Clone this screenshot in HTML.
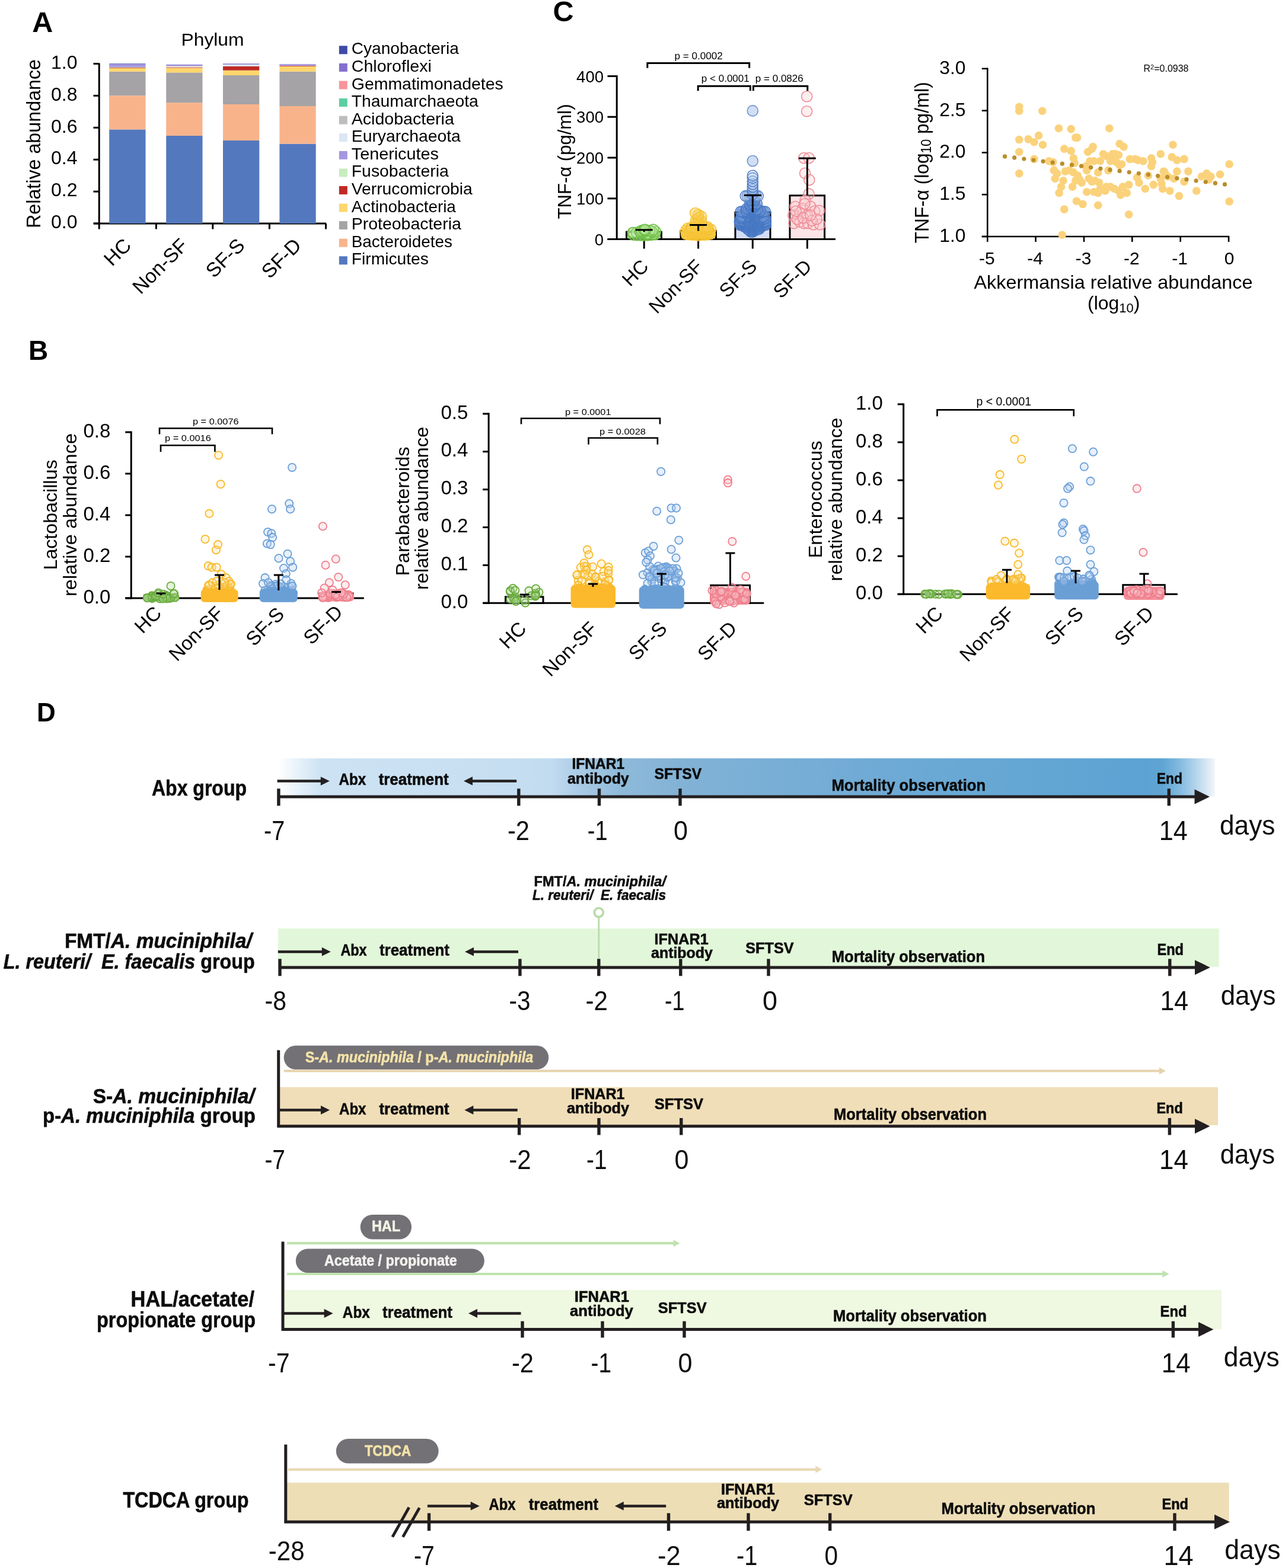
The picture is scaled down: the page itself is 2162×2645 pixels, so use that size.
<!DOCTYPE html>
<html><head><meta charset="utf-8"><style>html,body{margin:0;padding:0;background:#fff;}svg{display:block;}text{font-family:"Liberation Sans",sans-serif;}</style></head>
<body><svg width="2162" height="2645" viewBox="0 0 2162 2645" font-family="Liberation Sans, sans-serif">
<rect width="2162" height="2645" fill="#fff"/>
<text x="54.3" y="53.8" font-size="48.5" font-weight="bold" font-style="normal" text-anchor="start" fill="#000" >A</text>
<text x="305.5" y="76.8" font-size="30" font-weight="normal" font-style="normal" text-anchor="start" fill="#000" textLength="106.0" lengthAdjust="spacingAndGlyphs" >Phylum</text>
<line x1="167.2" y1="106.5" x2="167.2" y2="378.5" stroke="#000" stroke-width="3" />
<line x1="157.5" y1="377.0" x2="167.2" y2="377.0" stroke="#000" stroke-width="3" />
<text x="130.5" y="385.2" font-size="32" font-weight="normal" font-style="normal" text-anchor="end" fill="#000" >0.0</text>
<line x1="157.5" y1="323.1" x2="167.2" y2="323.1" stroke="#000" stroke-width="3" />
<text x="130.5" y="331.3" font-size="32" font-weight="normal" font-style="normal" text-anchor="end" fill="#000" >0.2</text>
<line x1="157.5" y1="269.2" x2="167.2" y2="269.2" stroke="#000" stroke-width="3" />
<text x="130.5" y="277.4" font-size="32" font-weight="normal" font-style="normal" text-anchor="end" fill="#000" >0.4</text>
<line x1="157.5" y1="215.3" x2="167.2" y2="215.3" stroke="#000" stroke-width="3" />
<text x="130.5" y="223.5" font-size="32" font-weight="normal" font-style="normal" text-anchor="end" fill="#000" >0.6</text>
<line x1="157.5" y1="161.4" x2="167.2" y2="161.4" stroke="#000" stroke-width="3" />
<text x="130.5" y="169.6" font-size="32" font-weight="normal" font-style="normal" text-anchor="end" fill="#000" >0.8</text>
<line x1="157.5" y1="107.5" x2="167.2" y2="107.5" stroke="#000" stroke-width="3" />
<text x="130.5" y="115.7" font-size="32" font-weight="normal" font-style="normal" text-anchor="end" fill="#000" >1.0</text>
<line x1="158.0" y1="377.0" x2="550.0" y2="377.0" stroke="#000" stroke-width="3" />
<line x1="167.2" y1="377.0" x2="167.2" y2="386.5" stroke="#000" stroke-width="3" />
<line x1="263.4" y1="377.0" x2="263.4" y2="386.5" stroke="#000" stroke-width="3" />
<line x1="358.8" y1="377.0" x2="358.8" y2="386.5" stroke="#000" stroke-width="3" />
<line x1="454.4" y1="377.0" x2="454.4" y2="386.5" stroke="#000" stroke-width="3" />
<line x1="549.5" y1="377.0" x2="549.5" y2="386.5" stroke="#000" stroke-width="3" />
<text transform="translate(68.3,385) rotate(-90)" font-size="32.5" textLength="285" lengthAdjust="spacingAndGlyphs">Relative abundance</text>
<rect x="184.2" y="218.4" width="61.3" height="158.6" fill="#5478be" />
<rect x="184.2" y="161.2" width="61.3" height="57.2" fill="#f8b38b" />
<rect x="184.2" y="120.7" width="61.3" height="40.5" fill="#a5a3a6" />
<rect x="184.2" y="115.0" width="61.3" height="5.7" fill="#ffd66e" />
<rect x="184.2" y="114.1" width="61.3" height="0.9" fill="#bf2a24" />
<rect x="184.2" y="113.2" width="61.3" height="0.9" fill="#c8ecc0" />
<rect x="184.2" y="108.7" width="61.3" height="4.5" fill="#a596e0" />
<rect x="184.2" y="108.0" width="61.3" height="0.7" fill="#8370cf" />
<rect x="184.2" y="107.3" width="61.3" height="0.7" fill="#3f4aa6" />
<rect x="280.2" y="229.0" width="61.3" height="148.0" fill="#5478be" />
<rect x="280.2" y="173.2" width="61.3" height="55.8" fill="#f8b38b" />
<rect x="280.2" y="122.4" width="61.3" height="50.8" fill="#a5a3a6" />
<rect x="280.2" y="114.5" width="61.3" height="7.9" fill="#ffd66e" />
<rect x="280.2" y="113.5" width="61.3" height="1.0" fill="#bf2a24" />
<rect x="280.2" y="111.4" width="61.3" height="2.1" fill="#ece6cf" />
<rect x="280.2" y="109.9" width="61.3" height="1.5" fill="#a596e0" />
<rect x="280.2" y="108.9" width="61.3" height="1.0" fill="#8370cf" />
<rect x="376.0" y="237.0" width="61.3" height="140.0" fill="#5478be" />
<rect x="376.0" y="176.0" width="61.3" height="61.0" fill="#f8b38b" />
<rect x="376.0" y="127.0" width="61.3" height="49.0" fill="#a5a3a6" />
<rect x="376.0" y="118.7" width="61.3" height="8.3" fill="#ffd66e" />
<rect x="376.0" y="112.0" width="61.3" height="6.7" fill="#bf2a24" />
<rect x="376.0" y="108.7" width="61.3" height="3.3" fill="#dce6f4" />
<rect x="376.0" y="107.3" width="61.3" height="1.4" fill="#8370cf" />
<rect x="471.4" y="242.6" width="61.3" height="134.4" fill="#5478be" />
<rect x="471.4" y="179.0" width="61.3" height="63.6" fill="#f8b38b" />
<rect x="471.4" y="120.7" width="61.3" height="58.3" fill="#a5a3a6" />
<rect x="471.4" y="111.8" width="61.3" height="8.9" fill="#ffd66e" />
<rect x="471.4" y="110.8" width="61.3" height="1.0" fill="#bf2a24" />
<rect x="471.4" y="109.5" width="61.3" height="1.3" fill="#a596e0" />
<rect x="471.4" y="108.3" width="61.3" height="1.2" fill="#8370cf" />
<rect x="571.8" y="77.3" width="14.0" height="14.0" fill="#3f4aa6" />
<rect x="571.8" y="106.9" width="14.0" height="14.0" fill="#8370cf" />
<rect x="571.8" y="136.5" width="14.0" height="14.0" fill="#f7939c" />
<rect x="571.8" y="166.0" width="14.0" height="14.0" fill="#5fcda2" />
<rect x="571.8" y="195.6" width="14.0" height="14.0" fill="#bdbdbd" />
<rect x="571.8" y="225.2" width="14.0" height="14.0" fill="#dce6f4" />
<rect x="571.8" y="254.8" width="14.0" height="14.0" fill="#a596e0" />
<rect x="571.8" y="284.4" width="14.0" height="14.0" fill="#c8ecc0" />
<rect x="571.8" y="313.9" width="14.0" height="14.0" fill="#bf2a24" />
<rect x="571.8" y="343.5" width="14.0" height="14.0" fill="#ffd66e" />
<rect x="571.8" y="373.1" width="14.0" height="14.0" fill="#a5a3a6" />
<rect x="571.8" y="402.7" width="14.0" height="14.0" fill="#f8b38b" />
<rect x="571.8" y="432.3" width="14.0" height="14.0" fill="#5478be" />
<text x="592.8" y="91.3" font-size="28.5" font-weight="normal" font-style="normal" text-anchor="start" fill="#000" textLength="181.0" lengthAdjust="spacingAndGlyphs" >Cyanobacteria</text>
<text x="592.8" y="120.9" font-size="28.5" font-weight="normal" font-style="normal" text-anchor="start" fill="#000" textLength="135.0" lengthAdjust="spacingAndGlyphs" >Chloroflexi</text>
<text x="592.8" y="150.5" font-size="28.5" font-weight="normal" font-style="normal" text-anchor="start" fill="#000" textLength="256.0" lengthAdjust="spacingAndGlyphs" >Gemmatimonadetes</text>
<text x="592.8" y="180.0" font-size="28.5" font-weight="normal" font-style="normal" text-anchor="start" fill="#000" textLength="214.0" lengthAdjust="spacingAndGlyphs" >Thaumarchaeota</text>
<text x="592.8" y="209.6" font-size="28.5" font-weight="normal" font-style="normal" text-anchor="start" fill="#000" textLength="173.0" lengthAdjust="spacingAndGlyphs" >Acidobacteria</text>
<text x="592.8" y="239.2" font-size="28.5" font-weight="normal" font-style="normal" text-anchor="start" fill="#000" textLength="184.0" lengthAdjust="spacingAndGlyphs" >Euryarchaeota</text>
<text x="592.8" y="268.8" font-size="28.5" font-weight="normal" font-style="normal" text-anchor="start" fill="#000" textLength="147.0" lengthAdjust="spacingAndGlyphs" >Tenericutes</text>
<text x="592.8" y="298.4" font-size="28.5" font-weight="normal" font-style="normal" text-anchor="start" fill="#000" textLength="164.0" lengthAdjust="spacingAndGlyphs" >Fusobacteria</text>
<text x="592.8" y="327.9" font-size="28.5" font-weight="normal" font-style="normal" text-anchor="start" fill="#000" textLength="204.0" lengthAdjust="spacingAndGlyphs" >Verrucomicrobia</text>
<text x="592.8" y="357.5" font-size="28.5" font-weight="normal" font-style="normal" text-anchor="start" fill="#000" textLength="176.0" lengthAdjust="spacingAndGlyphs" >Actinobacteria</text>
<text x="592.8" y="387.1" font-size="28.5" font-weight="normal" font-style="normal" text-anchor="start" fill="#000" textLength="185.0" lengthAdjust="spacingAndGlyphs" >Proteobacteria</text>
<text x="592.8" y="416.7" font-size="28.5" font-weight="normal" font-style="normal" text-anchor="start" fill="#000" textLength="170.0" lengthAdjust="spacingAndGlyphs" >Bacteroidetes</text>
<text x="592.8" y="446.3" font-size="28.5" font-weight="normal" font-style="normal" text-anchor="start" fill="#000" textLength="130.0" lengthAdjust="spacingAndGlyphs" >Firmicutes</text>
<text transform="translate(223.3,416.2) rotate(-45)" font-size="33.5" text-anchor="end">HC</text>
<text transform="translate(318.8,416.2) rotate(-45)" font-size="33.5" text-anchor="end">Non-SF</text>
<text transform="translate(414.8,416.2) rotate(-45)" font-size="33.5" text-anchor="end">SF-S</text>
<text transform="translate(510.1,416.2) rotate(-45)" font-size="33.5" text-anchor="end">SF-D</text>
<text x="932.5" y="36.3" font-size="48.5" font-weight="bold" font-style="normal" text-anchor="start" fill="#000" >C</text>
<line x1="1040.2" y1="127.0" x2="1040.2" y2="405.0" stroke="#000" stroke-width="3" />
<line x1="1024.5" y1="403.5" x2="1040.2" y2="403.5" stroke="#000" stroke-width="3" />
<text x="1018.0" y="413.5" font-size="27.5" font-weight="normal" font-style="normal" text-anchor="end" fill="#000" >0</text>
<line x1="1024.5" y1="334.8" x2="1040.2" y2="334.8" stroke="#000" stroke-width="3" />
<text x="1018.0" y="344.8" font-size="27.5" font-weight="normal" font-style="normal" text-anchor="end" fill="#000" >100</text>
<line x1="1024.5" y1="266.0" x2="1040.2" y2="266.0" stroke="#000" stroke-width="3" />
<text x="1018.0" y="276.0" font-size="27.5" font-weight="normal" font-style="normal" text-anchor="end" fill="#000" >200</text>
<line x1="1024.5" y1="197.2" x2="1040.2" y2="197.2" stroke="#000" stroke-width="3" />
<text x="1018.0" y="207.2" font-size="27.5" font-weight="normal" font-style="normal" text-anchor="end" fill="#000" >300</text>
<line x1="1024.5" y1="128.5" x2="1040.2" y2="128.5" stroke="#000" stroke-width="3" />
<text x="1018.0" y="138.5" font-size="27.5" font-weight="normal" font-style="normal" text-anchor="end" fill="#000" >400</text>
<line x1="1024.5" y1="403.5" x2="1409.0" y2="403.5" stroke="#000" stroke-width="3" />
<line x1="1086.2" y1="403.5" x2="1086.2" y2="419.5" stroke="#000" stroke-width="3" />
<line x1="1177.6" y1="403.5" x2="1177.6" y2="419.5" stroke="#000" stroke-width="3" />
<line x1="1269.3" y1="403.5" x2="1269.3" y2="419.5" stroke="#000" stroke-width="3" />
<line x1="1361.4" y1="403.5" x2="1361.4" y2="419.5" stroke="#000" stroke-width="3" />
<text transform="translate(962.5,369.5) rotate(-90)" font-size="32" textLength="194" lengthAdjust="spacingAndGlyphs">TNF-α (pg/ml)</text>
<rect x="1056.5" y="391.2" width="58.9" height="12.3" fill="#d9efc9" stroke="#000" stroke-width="3"/>
<rect x="1148.0" y="389.5" width="59.5" height="14.0" fill="#fbeab0" stroke="#000" stroke-width="3"/>
<rect x="1240.0" y="358.0" width="59.0" height="45.5" fill="#d3dcf5" stroke="#000" stroke-width="3"/>
<rect x="1332.0" y="329.8" width="58.6" height="73.7" fill="#fbe4e7" stroke="#000" stroke-width="3"/>
<circle cx="1086.2" cy="397.2" r="9" fill="rgba(190,232,165,0.35)" stroke="#6fbf45" stroke-width="1.6" />
<circle cx="1092.2" cy="397.0" r="9" fill="rgba(190,232,165,0.35)" stroke="#6fbf45" stroke-width="1.6" />
<circle cx="1080.2" cy="396.9" r="9" fill="rgba(190,232,165,0.35)" stroke="#6fbf45" stroke-width="1.6" />
<circle cx="1074.2" cy="396.7" r="9" fill="rgba(190,232,165,0.35)" stroke="#6fbf45" stroke-width="1.6" />
<circle cx="1098.2" cy="396.4" r="9" fill="rgba(190,232,165,0.35)" stroke="#6fbf45" stroke-width="1.6" />
<circle cx="1068.2" cy="396.3" r="9" fill="rgba(190,232,165,0.35)" stroke="#6fbf45" stroke-width="1.6" />
<circle cx="1104.2" cy="395.7" r="9" fill="rgba(190,232,165,0.35)" stroke="#6fbf45" stroke-width="1.6" />
<circle cx="1101.6" cy="395.4" r="9" fill="rgba(190,232,165,0.35)" stroke="#6fbf45" stroke-width="1.6" />
<circle cx="1089.6" cy="395.4" r="9" fill="rgba(190,232,165,0.35)" stroke="#6fbf45" stroke-width="1.6" />
<circle cx="1090.2" cy="394.8" r="9" fill="rgba(190,232,165,0.35)" stroke="#6fbf45" stroke-width="1.6" />
<circle cx="1092.5" cy="394.2" r="9" fill="rgba(190,232,165,0.35)" stroke="#6fbf45" stroke-width="1.6" />
<circle cx="1082.4" cy="392.8" r="9" fill="rgba(190,232,165,0.35)" stroke="#6fbf45" stroke-width="1.6" />
<circle cx="1067.1" cy="392.6" r="9" fill="rgba(190,232,165,0.35)" stroke="#6fbf45" stroke-width="1.6" />
<circle cx="1073.5" cy="392.5" r="9" fill="rgba(190,232,165,0.35)" stroke="#6fbf45" stroke-width="1.6" />
<circle cx="1068.1" cy="392.5" r="9" fill="rgba(190,232,165,0.35)" stroke="#6fbf45" stroke-width="1.6" />
<circle cx="1081.2" cy="392.1" r="9" fill="rgba(190,232,165,0.35)" stroke="#6fbf45" stroke-width="1.6" />
<circle cx="1084.7" cy="392.0" r="9" fill="rgba(190,232,165,0.35)" stroke="#6fbf45" stroke-width="1.6" />
<circle cx="1100.6" cy="391.9" r="9" fill="rgba(190,232,165,0.35)" stroke="#6fbf45" stroke-width="1.6" />
<circle cx="1081.7" cy="391.5" r="9" fill="rgba(190,232,165,0.35)" stroke="#6fbf45" stroke-width="1.6" />
<circle cx="1086.9" cy="391.3" r="9" fill="rgba(190,232,165,0.35)" stroke="#6fbf45" stroke-width="1.6" />
<circle cx="1080.3" cy="391.0" r="9" fill="rgba(190,232,165,0.35)" stroke="#6fbf45" stroke-width="1.6" />
<circle cx="1105.5" cy="390.8" r="9" fill="rgba(190,232,165,0.35)" stroke="#6fbf45" stroke-width="1.6" />
<circle cx="1079.3" cy="390.6" r="9" fill="rgba(190,232,165,0.35)" stroke="#6fbf45" stroke-width="1.6" />
<circle cx="1099.1" cy="390.2" r="9" fill="rgba(190,232,165,0.35)" stroke="#6fbf45" stroke-width="1.6" />
<circle cx="1095.5" cy="389.1" r="9" fill="rgba(190,232,165,0.35)" stroke="#6fbf45" stroke-width="1.6" />
<circle cx="1082.1" cy="389.0" r="9" fill="rgba(190,232,165,0.35)" stroke="#6fbf45" stroke-width="1.6" />
<circle cx="1089.1" cy="388.6" r="9" fill="rgba(190,232,165,0.35)" stroke="#6fbf45" stroke-width="1.6" />
<circle cx="1085.9" cy="387.8" r="9" fill="rgba(190,232,165,0.35)" stroke="#6fbf45" stroke-width="1.6" />
<circle cx="1101.8" cy="387.4" r="9" fill="rgba(190,232,165,0.35)" stroke="#6fbf45" stroke-width="1.6" />
<circle cx="1087.8" cy="387.2" r="9" fill="rgba(190,232,165,0.35)" stroke="#6fbf45" stroke-width="1.6" />
<circle cx="1177.6" cy="397.3" r="9" fill="rgba(247,205,80,0.45)" stroke="#f6c331" stroke-width="1.6" />
<circle cx="1182.6" cy="396.4" r="9" fill="rgba(247,205,80,0.45)" stroke="#f6c331" stroke-width="1.6" />
<circle cx="1172.6" cy="396.3" r="9" fill="rgba(247,205,80,0.45)" stroke="#f6c331" stroke-width="1.6" />
<circle cx="1187.6" cy="396.3" r="9" fill="rgba(247,205,80,0.45)" stroke="#f6c331" stroke-width="1.6" />
<circle cx="1167.6" cy="396.1" r="9" fill="rgba(247,205,80,0.45)" stroke="#f6c331" stroke-width="1.6" />
<circle cx="1192.6" cy="395.9" r="9" fill="rgba(247,205,80,0.45)" stroke="#f6c331" stroke-width="1.6" />
<circle cx="1162.6" cy="395.6" r="9" fill="rgba(247,205,80,0.45)" stroke="#f6c331" stroke-width="1.6" />
<circle cx="1157.6" cy="395.4" r="9" fill="rgba(247,205,80,0.45)" stroke="#f6c331" stroke-width="1.6" />
<circle cx="1197.6" cy="394.7" r="9" fill="rgba(247,205,80,0.45)" stroke="#f6c331" stroke-width="1.6" />
<circle cx="1173.8" cy="394.6" r="9" fill="rgba(247,205,80,0.45)" stroke="#f6c331" stroke-width="1.6" />
<circle cx="1187.9" cy="394.3" r="9" fill="rgba(247,205,80,0.45)" stroke="#f6c331" stroke-width="1.6" />
<circle cx="1158.5" cy="394.0" r="9" fill="rgba(247,205,80,0.45)" stroke="#f6c331" stroke-width="1.6" />
<circle cx="1165.1" cy="393.8" r="9" fill="rgba(247,205,80,0.45)" stroke="#f6c331" stroke-width="1.6" />
<circle cx="1172.6" cy="393.4" r="9" fill="rgba(247,205,80,0.45)" stroke="#f6c331" stroke-width="1.6" />
<circle cx="1193.3" cy="393.3" r="9" fill="rgba(247,205,80,0.45)" stroke="#f6c331" stroke-width="1.6" />
<circle cx="1182.2" cy="393.1" r="9" fill="rgba(247,205,80,0.45)" stroke="#f6c331" stroke-width="1.6" />
<circle cx="1171.3" cy="392.8" r="9" fill="rgba(247,205,80,0.45)" stroke="#f6c331" stroke-width="1.6" />
<circle cx="1197.3" cy="392.5" r="9" fill="rgba(247,205,80,0.45)" stroke="#f6c331" stroke-width="1.6" />
<circle cx="1168.5" cy="391.7" r="9" fill="rgba(247,205,80,0.45)" stroke="#f6c331" stroke-width="1.6" />
<circle cx="1189.3" cy="391.6" r="9" fill="rgba(247,205,80,0.45)" stroke="#f6c331" stroke-width="1.6" />
<circle cx="1187.3" cy="391.5" r="9" fill="rgba(247,205,80,0.45)" stroke="#f6c331" stroke-width="1.6" />
<circle cx="1177.6" cy="390.9" r="9" fill="rgba(247,205,80,0.45)" stroke="#f6c331" stroke-width="1.6" />
<circle cx="1174.4" cy="390.7" r="9" fill="rgba(247,205,80,0.45)" stroke="#f6c331" stroke-width="1.6" />
<circle cx="1181.3" cy="390.5" r="9" fill="rgba(247,205,80,0.45)" stroke="#f6c331" stroke-width="1.6" />
<circle cx="1185.9" cy="390.1" r="9" fill="rgba(247,205,80,0.45)" stroke="#f6c331" stroke-width="1.6" />
<circle cx="1161.6" cy="389.8" r="9" fill="rgba(247,205,80,0.45)" stroke="#f6c331" stroke-width="1.6" />
<circle cx="1156.6" cy="389.2" r="9" fill="rgba(247,205,80,0.45)" stroke="#f6c331" stroke-width="1.6" />
<circle cx="1193.6" cy="388.2" r="9" fill="rgba(247,205,80,0.45)" stroke="#f6c331" stroke-width="1.6" />
<circle cx="1170.9" cy="388.1" r="9" fill="rgba(247,205,80,0.45)" stroke="#f6c331" stroke-width="1.6" />
<circle cx="1170.4" cy="387.7" r="9" fill="rgba(247,205,80,0.45)" stroke="#f6c331" stroke-width="1.6" />
<circle cx="1198.6" cy="387.1" r="9" fill="rgba(247,205,80,0.45)" stroke="#f6c331" stroke-width="1.6" />
<circle cx="1191.3" cy="386.7" r="9" fill="rgba(247,205,80,0.45)" stroke="#f6c331" stroke-width="1.6" />
<circle cx="1176.8" cy="386.4" r="9" fill="rgba(247,205,80,0.45)" stroke="#f6c331" stroke-width="1.6" />
<circle cx="1165.6" cy="386.2" r="9" fill="rgba(247,205,80,0.45)" stroke="#f6c331" stroke-width="1.6" />
<circle cx="1181.6" cy="386.1" r="9" fill="rgba(247,205,80,0.45)" stroke="#f6c331" stroke-width="1.6" />
<circle cx="1193.9" cy="385.8" r="9" fill="rgba(247,205,80,0.45)" stroke="#f6c331" stroke-width="1.6" />
<circle cx="1159.6" cy="385.2" r="9" fill="rgba(247,205,80,0.45)" stroke="#f6c331" stroke-width="1.6" />
<circle cx="1181.3" cy="385.1" r="9" fill="rgba(247,205,80,0.45)" stroke="#f6c331" stroke-width="1.6" />
<circle cx="1164.7" cy="385.1" r="9" fill="rgba(247,205,80,0.45)" stroke="#f6c331" stroke-width="1.6" />
<circle cx="1186.6" cy="384.2" r="9" fill="rgba(247,205,80,0.45)" stroke="#f6c331" stroke-width="1.6" />
<circle cx="1166.9" cy="383.5" r="9" fill="rgba(247,205,80,0.45)" stroke="#f6c331" stroke-width="1.6" />
<circle cx="1188.5" cy="383.4" r="9" fill="rgba(247,205,80,0.45)" stroke="#f6c331" stroke-width="1.6" />
<circle cx="1172.6" cy="383.2" r="9" fill="rgba(247,205,80,0.45)" stroke="#f6c331" stroke-width="1.6" />
<circle cx="1186.5" cy="382.9" r="9" fill="rgba(247,205,80,0.45)" stroke="#f6c331" stroke-width="1.6" />
<circle cx="1193.0" cy="382.9" r="9" fill="rgba(247,205,80,0.45)" stroke="#f6c331" stroke-width="1.6" />
<circle cx="1177.6" cy="380.1" r="9" fill="rgba(247,205,80,0.45)" stroke="#f6c331" stroke-width="1.6" />
<circle cx="1172.6" cy="377.4" r="9" fill="rgba(247,205,80,0.45)" stroke="#f6c331" stroke-width="1.6" />
<circle cx="1177.6" cy="374.6" r="9" fill="rgba(247,205,80,0.45)" stroke="#f6c331" stroke-width="1.6" />
<circle cx="1182.6" cy="372.6" r="9" fill="rgba(247,205,80,0.45)" stroke="#f6c331" stroke-width="1.6" />
<circle cx="1173.6" cy="371.2" r="9" fill="rgba(247,205,80,0.45)" stroke="#f6c331" stroke-width="1.6" />
<circle cx="1177.6" cy="367.8" r="9" fill="rgba(247,205,80,0.45)" stroke="#f6c331" stroke-width="1.6" />
<circle cx="1182.6" cy="365.0" r="9" fill="rgba(247,205,80,0.45)" stroke="#f6c331" stroke-width="1.6" />
<circle cx="1177.6" cy="362.2" r="9" fill="rgba(247,205,80,0.45)" stroke="#f6c331" stroke-width="1.6" />
<circle cx="1172.6" cy="359.5" r="9" fill="rgba(247,205,80,0.45)" stroke="#f6c331" stroke-width="1.6" />
<circle cx="1269.3" cy="391.1" r="9" fill="rgba(110,150,215,0.45)" stroke="#4677c2" stroke-width="1.6" />
<circle cx="1266.3" cy="391.1" r="9" fill="rgba(110,150,215,0.45)" stroke="#4677c2" stroke-width="1.6" />
<circle cx="1271.3" cy="388.8" r="9" fill="rgba(110,150,215,0.45)" stroke="#4677c2" stroke-width="1.6" />
<circle cx="1264.3" cy="388.5" r="9" fill="rgba(110,150,215,0.45)" stroke="#4677c2" stroke-width="1.6" />
<circle cx="1268.3" cy="388.2" r="9" fill="rgba(110,150,215,0.45)" stroke="#4677c2" stroke-width="1.6" />
<circle cx="1274.3" cy="388.1" r="9" fill="rgba(110,150,215,0.45)" stroke="#4677c2" stroke-width="1.6" />
<circle cx="1277.3" cy="387.2" r="9" fill="rgba(110,150,215,0.45)" stroke="#4677c2" stroke-width="1.6" />
<circle cx="1261.3" cy="386.7" r="9" fill="rgba(110,150,215,0.45)" stroke="#4677c2" stroke-width="1.6" />
<circle cx="1280.3" cy="386.3" r="9" fill="rgba(110,150,215,0.45)" stroke="#4677c2" stroke-width="1.6" />
<circle cx="1270.3" cy="385.7" r="9" fill="rgba(110,150,215,0.45)" stroke="#4677c2" stroke-width="1.6" />
<circle cx="1266.3" cy="385.5" r="9" fill="rgba(110,150,215,0.45)" stroke="#4677c2" stroke-width="1.6" />
<circle cx="1273.3" cy="384.3" r="9" fill="rgba(110,150,215,0.45)" stroke="#4677c2" stroke-width="1.6" />
<circle cx="1263.3" cy="383.6" r="9" fill="rgba(110,150,215,0.45)" stroke="#4677c2" stroke-width="1.6" />
<circle cx="1276.3" cy="383.4" r="9" fill="rgba(110,150,215,0.45)" stroke="#4677c2" stroke-width="1.6" />
<circle cx="1260.3" cy="383.4" r="9" fill="rgba(110,150,215,0.45)" stroke="#4677c2" stroke-width="1.6" />
<circle cx="1268.3" cy="383.2" r="9" fill="rgba(110,150,215,0.45)" stroke="#4677c2" stroke-width="1.6" />
<circle cx="1279.3" cy="383.1" r="9" fill="rgba(110,150,215,0.45)" stroke="#4677c2" stroke-width="1.6" />
<circle cx="1257.3" cy="382.8" r="9" fill="rgba(110,150,215,0.45)" stroke="#4677c2" stroke-width="1.6" />
<circle cx="1282.3" cy="382.8" r="9" fill="rgba(110,150,215,0.45)" stroke="#4677c2" stroke-width="1.6" />
<circle cx="1271.3" cy="381.9" r="9" fill="rgba(110,150,215,0.45)" stroke="#4677c2" stroke-width="1.6" />
<circle cx="1254.3" cy="381.9" r="9" fill="rgba(110,150,215,0.45)" stroke="#4677c2" stroke-width="1.6" />
<circle cx="1285.3" cy="381.5" r="9" fill="rgba(110,150,215,0.45)" stroke="#4677c2" stroke-width="1.6" />
<circle cx="1266.3" cy="380.8" r="9" fill="rgba(110,150,215,0.45)" stroke="#4677c2" stroke-width="1.6" />
<circle cx="1274.3" cy="380.7" r="9" fill="rgba(110,150,215,0.45)" stroke="#4677c2" stroke-width="1.6" />
<circle cx="1263.3" cy="380.5" r="9" fill="rgba(110,150,215,0.45)" stroke="#4677c2" stroke-width="1.6" />
<circle cx="1277.3" cy="380.4" r="9" fill="rgba(110,150,215,0.45)" stroke="#4677c2" stroke-width="1.6" />
<circle cx="1260.3" cy="380.2" r="9" fill="rgba(110,150,215,0.45)" stroke="#4677c2" stroke-width="1.6" />
<circle cx="1280.3" cy="380.1" r="9" fill="rgba(110,150,215,0.45)" stroke="#4677c2" stroke-width="1.6" />
<circle cx="1251.3" cy="379.8" r="9" fill="rgba(110,150,215,0.45)" stroke="#4677c2" stroke-width="1.6" />
<circle cx="1269.3" cy="379.6" r="9" fill="rgba(110,150,215,0.45)" stroke="#4677c2" stroke-width="1.6" />
<circle cx="1257.3" cy="379.6" r="9" fill="rgba(110,150,215,0.45)" stroke="#4677c2" stroke-width="1.6" />
<circle cx="1288.3" cy="379.6" r="9" fill="rgba(110,150,215,0.45)" stroke="#4677c2" stroke-width="1.6" />
<circle cx="1248.3" cy="379.5" r="9" fill="rgba(110,150,215,0.45)" stroke="#4677c2" stroke-width="1.6" />
<circle cx="1291.3" cy="379.4" r="9" fill="rgba(110,150,215,0.45)" stroke="#4677c2" stroke-width="1.6" />
<circle cx="1267.7" cy="379.3" r="9" fill="rgba(110,150,215,0.45)" stroke="#4677c2" stroke-width="1.6" />
<circle cx="1283.8" cy="379.3" r="9" fill="rgba(110,150,215,0.45)" stroke="#4677c2" stroke-width="1.6" />
<circle cx="1290.4" cy="379.0" r="9" fill="rgba(110,150,215,0.45)" stroke="#4677c2" stroke-width="1.6" />
<circle cx="1254.3" cy="378.7" r="9" fill="rgba(110,150,215,0.45)" stroke="#4677c2" stroke-width="1.6" />
<circle cx="1272.3" cy="378.4" r="9" fill="rgba(110,150,215,0.45)" stroke="#4677c2" stroke-width="1.6" />
<circle cx="1271.6" cy="378.4" r="9" fill="rgba(110,150,215,0.45)" stroke="#4677c2" stroke-width="1.6" />
<circle cx="1249.7" cy="378.3" r="9" fill="rgba(110,150,215,0.45)" stroke="#4677c2" stroke-width="1.6" />
<circle cx="1275.3" cy="377.8" r="9" fill="rgba(110,150,215,0.45)" stroke="#4677c2" stroke-width="1.6" />
<circle cx="1264.3" cy="377.7" r="9" fill="rgba(110,150,215,0.45)" stroke="#4677c2" stroke-width="1.6" />
<circle cx="1261.3" cy="377.3" r="9" fill="rgba(110,150,215,0.45)" stroke="#4677c2" stroke-width="1.6" />
<circle cx="1278.3" cy="377.2" r="9" fill="rgba(110,150,215,0.45)" stroke="#4677c2" stroke-width="1.6" />
<circle cx="1281.3" cy="377.2" r="9" fill="rgba(110,150,215,0.45)" stroke="#4677c2" stroke-width="1.6" />
<circle cx="1286.3" cy="377.0" r="9" fill="rgba(110,150,215,0.45)" stroke="#4677c2" stroke-width="1.6" />
<circle cx="1254.5" cy="376.9" r="9" fill="rgba(110,150,215,0.45)" stroke="#4677c2" stroke-width="1.6" />
<circle cx="1249.5" cy="376.8" r="9" fill="rgba(110,150,215,0.45)" stroke="#4677c2" stroke-width="1.6" />
<circle cx="1258.3" cy="376.5" r="9" fill="rgba(110,150,215,0.45)" stroke="#4677c2" stroke-width="1.6" />
<circle cx="1261.0" cy="376.5" r="9" fill="rgba(110,150,215,0.45)" stroke="#4677c2" stroke-width="1.6" />
<circle cx="1269.3" cy="376.5" r="9" fill="rgba(110,150,215,0.45)" stroke="#4677c2" stroke-width="1.6" />
<circle cx="1286.7" cy="376.3" r="9" fill="rgba(110,150,215,0.45)" stroke="#4677c2" stroke-width="1.6" />
<circle cx="1290.3" cy="375.9" r="9" fill="rgba(110,150,215,0.45)" stroke="#4677c2" stroke-width="1.6" />
<circle cx="1252.5" cy="375.7" r="9" fill="rgba(110,150,215,0.45)" stroke="#4677c2" stroke-width="1.6" />
<circle cx="1272.3" cy="375.3" r="9" fill="rgba(110,150,215,0.45)" stroke="#4677c2" stroke-width="1.6" />
<circle cx="1266.3" cy="375.3" r="9" fill="rgba(110,150,215,0.45)" stroke="#4677c2" stroke-width="1.6" />
<circle cx="1258.2" cy="375.3" r="9" fill="rgba(110,150,215,0.45)" stroke="#4677c2" stroke-width="1.6" />
<circle cx="1269.8" cy="375.2" r="9" fill="rgba(110,150,215,0.45)" stroke="#4677c2" stroke-width="1.6" />
<circle cx="1250.7" cy="375.1" r="9" fill="rgba(110,150,215,0.45)" stroke="#4677c2" stroke-width="1.6" />
<circle cx="1275.3" cy="374.7" r="9" fill="rgba(110,150,215,0.45)" stroke="#4677c2" stroke-width="1.6" />
<circle cx="1263.3" cy="374.4" r="9" fill="rgba(110,150,215,0.45)" stroke="#4677c2" stroke-width="1.6" />
<circle cx="1279.3" cy="374.3" r="9" fill="rgba(110,150,215,0.45)" stroke="#4677c2" stroke-width="1.6" />
<circle cx="1282.3" cy="374.1" r="9" fill="rgba(110,150,215,0.45)" stroke="#4677c2" stroke-width="1.6" />
<circle cx="1247.3" cy="374.1" r="9" fill="rgba(110,150,215,0.45)" stroke="#4677c2" stroke-width="1.6" />
<circle cx="1288.1" cy="374.1" r="9" fill="rgba(110,150,215,0.45)" stroke="#4677c2" stroke-width="1.6" />
<circle cx="1255.3" cy="373.9" r="9" fill="rgba(110,150,215,0.45)" stroke="#4677c2" stroke-width="1.6" />
<circle cx="1269.1" cy="373.9" r="9" fill="rgba(110,150,215,0.45)" stroke="#4677c2" stroke-width="1.6" />
<circle cx="1265.8" cy="373.6" r="9" fill="rgba(110,150,215,0.45)" stroke="#4677c2" stroke-width="1.6" />
<circle cx="1256.9" cy="373.6" r="9" fill="rgba(110,150,215,0.45)" stroke="#4677c2" stroke-width="1.6" />
<circle cx="1287.6" cy="373.4" r="9" fill="rgba(110,150,215,0.45)" stroke="#4677c2" stroke-width="1.6" />
<circle cx="1255.9" cy="373.3" r="9" fill="rgba(110,150,215,0.45)" stroke="#4677c2" stroke-width="1.6" />
<circle cx="1260.3" cy="373.1" r="9" fill="rgba(110,150,215,0.45)" stroke="#4677c2" stroke-width="1.6" />
<circle cx="1291.3" cy="373.1" r="9" fill="rgba(110,150,215,0.45)" stroke="#4677c2" stroke-width="1.6" />
<circle cx="1278.7" cy="372.9" r="9" fill="rgba(110,150,215,0.45)" stroke="#4677c2" stroke-width="1.6" />
<circle cx="1251.2" cy="372.7" r="9" fill="rgba(110,150,215,0.45)" stroke="#4677c2" stroke-width="1.6" />
<circle cx="1247.7" cy="372.5" r="9" fill="rgba(110,150,215,0.45)" stroke="#4677c2" stroke-width="1.6" />
<circle cx="1275.6" cy="372.5" r="9" fill="rgba(110,150,215,0.45)" stroke="#4677c2" stroke-width="1.6" />
<circle cx="1253.4" cy="372.4" r="9" fill="rgba(110,150,215,0.45)" stroke="#4677c2" stroke-width="1.6" />
<circle cx="1272.3" cy="372.2" r="9" fill="rgba(110,150,215,0.45)" stroke="#4677c2" stroke-width="1.6" />
<circle cx="1281.2" cy="372.1" r="9" fill="rgba(110,150,215,0.45)" stroke="#4677c2" stroke-width="1.6" />
<circle cx="1284.3" cy="371.5" r="9" fill="rgba(110,150,215,0.45)" stroke="#4677c2" stroke-width="1.6" />
<circle cx="1281.1" cy="371.5" r="9" fill="rgba(110,150,215,0.45)" stroke="#4677c2" stroke-width="1.6" />
<circle cx="1268.3" cy="371.0" r="9" fill="rgba(110,150,215,0.45)" stroke="#4677c2" stroke-width="1.6" />
<circle cx="1265.3" cy="370.7" r="9" fill="rgba(110,150,215,0.45)" stroke="#4677c2" stroke-width="1.6" />
<circle cx="1262.3" cy="370.6" r="9" fill="rgba(110,150,215,0.45)" stroke="#4677c2" stroke-width="1.6" />
<circle cx="1258.3" cy="370.4" r="9" fill="rgba(110,150,215,0.45)" stroke="#4677c2" stroke-width="1.6" />
<circle cx="1287.3" cy="370.1" r="9" fill="rgba(110,150,215,0.45)" stroke="#4677c2" stroke-width="1.6" />
<circle cx="1277.3" cy="369.8" r="9" fill="rgba(110,150,215,0.45)" stroke="#4677c2" stroke-width="1.6" />
<circle cx="1274.3" cy="369.8" r="9" fill="rgba(110,150,215,0.45)" stroke="#4677c2" stroke-width="1.6" />
<circle cx="1271.3" cy="369.1" r="9" fill="rgba(110,150,215,0.45)" stroke="#4677c2" stroke-width="1.6" />
<circle cx="1255.3" cy="369.1" r="9" fill="rgba(110,150,215,0.45)" stroke="#4677c2" stroke-width="1.6" />
<circle cx="1252.3" cy="368.8" r="9" fill="rgba(110,150,215,0.45)" stroke="#4677c2" stroke-width="1.6" />
<circle cx="1282.3" cy="368.6" r="9" fill="rgba(110,150,215,0.45)" stroke="#4677c2" stroke-width="1.6" />
<circle cx="1249.3" cy="368.5" r="9" fill="rgba(110,150,215,0.45)" stroke="#4677c2" stroke-width="1.6" />
<circle cx="1290.3" cy="368.5" r="9" fill="rgba(110,150,215,0.45)" stroke="#4677c2" stroke-width="1.6" />
<circle cx="1265.3" cy="368.4" r="9" fill="rgba(110,150,215,0.45)" stroke="#4677c2" stroke-width="1.6" />
<circle cx="1270.8" cy="368.2" r="9" fill="rgba(110,150,215,0.45)" stroke="#4677c2" stroke-width="1.6" />
<circle cx="1262.3" cy="367.1" r="9" fill="rgba(110,150,215,0.45)" stroke="#4677c2" stroke-width="1.6" />
<circle cx="1273.3" cy="366.6" r="9" fill="rgba(110,150,215,0.45)" stroke="#4677c2" stroke-width="1.6" />
<circle cx="1268.3" cy="366.5" r="9" fill="rgba(110,150,215,0.45)" stroke="#4677c2" stroke-width="1.6" />
<circle cx="1276.3" cy="366.5" r="9" fill="rgba(110,150,215,0.45)" stroke="#4677c2" stroke-width="1.6" />
<circle cx="1259.3" cy="366.3" r="9" fill="rgba(110,150,215,0.45)" stroke="#4677c2" stroke-width="1.6" />
<circle cx="1279.3" cy="366.2" r="9" fill="rgba(110,150,215,0.45)" stroke="#4677c2" stroke-width="1.6" />
<circle cx="1256.3" cy="366.2" r="9" fill="rgba(110,150,215,0.45)" stroke="#4677c2" stroke-width="1.6" />
<circle cx="1284.3" cy="366.1" r="9" fill="rgba(110,150,215,0.45)" stroke="#4677c2" stroke-width="1.6" />
<circle cx="1253.3" cy="365.8" r="9" fill="rgba(110,150,215,0.45)" stroke="#4677c2" stroke-width="1.6" />
<circle cx="1287.3" cy="365.7" r="9" fill="rgba(110,150,215,0.45)" stroke="#4677c2" stroke-width="1.6" />
<circle cx="1250.3" cy="365.6" r="9" fill="rgba(110,150,215,0.45)" stroke="#4677c2" stroke-width="1.6" />
<circle cx="1265.3" cy="364.8" r="9" fill="rgba(110,150,215,0.45)" stroke="#4677c2" stroke-width="1.6" />
<circle cx="1270.3" cy="364.3" r="9" fill="rgba(110,150,215,0.45)" stroke="#4677c2" stroke-width="1.6" />
<circle cx="1262.3" cy="364.0" r="9" fill="rgba(110,150,215,0.45)" stroke="#4677c2" stroke-width="1.6" />
<circle cx="1273.3" cy="363.0" r="9" fill="rgba(110,150,215,0.45)" stroke="#4677c2" stroke-width="1.6" />
<circle cx="1276.3" cy="362.9" r="9" fill="rgba(110,150,215,0.45)" stroke="#4677c2" stroke-width="1.6" />
<circle cx="1267.3" cy="362.4" r="9" fill="rgba(110,150,215,0.45)" stroke="#4677c2" stroke-width="1.6" />
<circle cx="1270.3" cy="361.2" r="9" fill="rgba(110,150,215,0.45)" stroke="#4677c2" stroke-width="1.6" />
<circle cx="1264.3" cy="361.0" r="9" fill="rgba(110,150,215,0.45)" stroke="#4677c2" stroke-width="1.6" />
<circle cx="1261.3" cy="360.8" r="9" fill="rgba(110,150,215,0.45)" stroke="#4677c2" stroke-width="1.6" />
<circle cx="1278.3" cy="360.5" r="9" fill="rgba(110,150,215,0.45)" stroke="#4677c2" stroke-width="1.6" />
<circle cx="1273.3" cy="359.7" r="9" fill="rgba(110,150,215,0.45)" stroke="#4677c2" stroke-width="1.6" />
<circle cx="1267.3" cy="359.3" r="9" fill="rgba(110,150,215,0.45)" stroke="#4677c2" stroke-width="1.6" />
<circle cx="1258.3" cy="359.2" r="9" fill="rgba(110,150,215,0.45)" stroke="#4677c2" stroke-width="1.6" />
<circle cx="1281.3" cy="359.2" r="9" fill="rgba(110,150,215,0.45)" stroke="#4677c2" stroke-width="1.6" />
<circle cx="1255.3" cy="359.0" r="9" fill="rgba(110,150,215,0.45)" stroke="#4677c2" stroke-width="1.6" />
<circle cx="1284.3" cy="358.5" r="9" fill="rgba(110,150,215,0.45)" stroke="#4677c2" stroke-width="1.6" />
<circle cx="1270.3" cy="357.9" r="9" fill="rgba(110,150,215,0.45)" stroke="#4677c2" stroke-width="1.6" />
<circle cx="1264.3" cy="357.7" r="9" fill="rgba(110,150,215,0.45)" stroke="#4677c2" stroke-width="1.6" />
<circle cx="1276.3" cy="357.5" r="9" fill="rgba(110,150,215,0.45)" stroke="#4677c2" stroke-width="1.6" />
<circle cx="1261.3" cy="357.5" r="9" fill="rgba(110,150,215,0.45)" stroke="#4677c2" stroke-width="1.6" />
<circle cx="1252.3" cy="357.4" r="9" fill="rgba(110,150,215,0.45)" stroke="#4677c2" stroke-width="1.6" />
<circle cx="1287.3" cy="357.1" r="9" fill="rgba(110,150,215,0.45)" stroke="#4677c2" stroke-width="1.6" />
<circle cx="1249.3" cy="357.0" r="9" fill="rgba(110,150,215,0.45)" stroke="#4677c2" stroke-width="1.6" />
<circle cx="1290.3" cy="357.0" r="9" fill="rgba(110,150,215,0.45)" stroke="#4677c2" stroke-width="1.6" />
<circle cx="1279.3" cy="356.7" r="9" fill="rgba(110,150,215,0.45)" stroke="#4677c2" stroke-width="1.6" />
<circle cx="1273.3" cy="356.6" r="9" fill="rgba(110,150,215,0.45)" stroke="#4677c2" stroke-width="1.6" />
<circle cx="1267.3" cy="356.2" r="9" fill="rgba(110,150,215,0.45)" stroke="#4677c2" stroke-width="1.6" />
<circle cx="1258.3" cy="356.1" r="9" fill="rgba(110,150,215,0.45)" stroke="#4677c2" stroke-width="1.6" />
<circle cx="1282.3" cy="355.4" r="9" fill="rgba(110,150,215,0.45)" stroke="#4677c2" stroke-width="1.6" />
<circle cx="1270.3" cy="354.8" r="9" fill="rgba(110,150,215,0.45)" stroke="#4677c2" stroke-width="1.6" />
<circle cx="1264.3" cy="354.5" r="9" fill="rgba(110,150,215,0.45)" stroke="#4677c2" stroke-width="1.6" />
<circle cx="1274.3" cy="353.8" r="9" fill="rgba(110,150,215,0.45)" stroke="#4677c2" stroke-width="1.6" />
<circle cx="1277.3" cy="353.5" r="9" fill="rgba(110,150,215,0.45)" stroke="#4677c2" stroke-width="1.6" />
<circle cx="1267.3" cy="353.0" r="9" fill="rgba(110,150,215,0.45)" stroke="#4677c2" stroke-width="1.6" />
<circle cx="1262.3" cy="352.1" r="9" fill="rgba(110,150,215,0.45)" stroke="#4677c2" stroke-width="1.6" />
<circle cx="1259.3" cy="352.1" r="9" fill="rgba(110,150,215,0.45)" stroke="#4677c2" stroke-width="1.6" />
<circle cx="1269.3" cy="350.0" r="9" fill="rgba(110,150,215,0.45)" stroke="#4677c2" stroke-width="1.6" />
<circle cx="1266.3" cy="350.0" r="9" fill="rgba(110,150,215,0.45)" stroke="#4677c2" stroke-width="1.6" />
<circle cx="1272.3" cy="349.4" r="9" fill="rgba(110,150,215,0.45)" stroke="#4677c2" stroke-width="1.6" />
<circle cx="1270.3" cy="347.2" r="9" fill="rgba(110,150,215,0.45)" stroke="#4677c2" stroke-width="1.6" />
<circle cx="1267.3" cy="346.4" r="9" fill="rgba(110,150,215,0.45)" stroke="#4677c2" stroke-width="1.6" />
<circle cx="1273.3" cy="345.7" r="9" fill="rgba(110,150,215,0.45)" stroke="#4677c2" stroke-width="1.6" />
<circle cx="1264.3" cy="344.9" r="9" fill="rgba(110,150,215,0.45)" stroke="#4677c2" stroke-width="1.6" />
<circle cx="1269.3" cy="343.8" r="9" fill="rgba(110,150,215,0.45)" stroke="#4677c2" stroke-width="1.6" />
<circle cx="1276.3" cy="343.6" r="9" fill="rgba(110,150,215,0.45)" stroke="#4677c2" stroke-width="1.6" />
<circle cx="1269.3" cy="338.8" r="9" fill="rgba(110,150,215,0.45)" stroke="#4677c2" stroke-width="1.6" />
<circle cx="1272.3" cy="338.3" r="9" fill="rgba(110,150,215,0.45)" stroke="#4677c2" stroke-width="1.6" />
<circle cx="1266.3" cy="338.0" r="9" fill="rgba(110,150,215,0.45)" stroke="#4677c2" stroke-width="1.6" />
<circle cx="1269.3" cy="332.7" r="9" fill="rgba(175,198,238,0.30)" stroke="#5684c8" stroke-width="1.6" />
<circle cx="1272.3" cy="331.3" r="9" fill="rgba(175,198,238,0.30)" stroke="#5684c8" stroke-width="1.6" />
<circle cx="1266.3" cy="330.6" r="9" fill="rgba(175,198,238,0.30)" stroke="#5684c8" stroke-width="1.6" />
<circle cx="1263.3" cy="330.6" r="9" fill="rgba(175,198,238,0.30)" stroke="#5684c8" stroke-width="1.6" />
<circle cx="1275.3" cy="330.6" r="9" fill="rgba(175,198,238,0.30)" stroke="#5684c8" stroke-width="1.6" />
<circle cx="1278.3" cy="330.6" r="9" fill="rgba(175,198,238,0.30)" stroke="#5684c8" stroke-width="1.6" />
<circle cx="1260.3" cy="330.6" r="9" fill="rgba(175,198,238,0.30)" stroke="#5684c8" stroke-width="1.6" />
<circle cx="1257.3" cy="330.6" r="9" fill="rgba(175,198,238,0.30)" stroke="#5684c8" stroke-width="1.6" />
<circle cx="1269.3" cy="327.9" r="9" fill="rgba(175,198,238,0.30)" stroke="#5684c8" stroke-width="1.6" />
<circle cx="1269.3" cy="323.8" r="9" fill="rgba(175,198,238,0.30)" stroke="#5684c8" stroke-width="1.6" />
<circle cx="1269.3" cy="319.6" r="9" fill="rgba(175,198,238,0.30)" stroke="#5684c8" stroke-width="1.6" />
<circle cx="1269.3" cy="315.5" r="9" fill="rgba(175,198,238,0.30)" stroke="#5684c8" stroke-width="1.6" />
<circle cx="1269.3" cy="310.7" r="9" fill="rgba(175,198,238,0.30)" stroke="#5684c8" stroke-width="1.6" />
<circle cx="1269.3" cy="305.9" r="9" fill="rgba(175,198,238,0.30)" stroke="#5684c8" stroke-width="1.6" />
<circle cx="1269.3" cy="300.4" r="9" fill="rgba(175,198,238,0.30)" stroke="#5684c8" stroke-width="1.6" />
<circle cx="1269.3" cy="296.2" r="9" fill="rgba(175,198,238,0.30)" stroke="#5684c8" stroke-width="1.6" />
<circle cx="1269.3" cy="271.5" r="9" fill="rgba(190,208,240,0.7)" stroke="#6d93cf" stroke-width="1.6" />
<circle cx="1269.3" cy="186.9" r="9" fill="rgba(190,208,240,0.7)" stroke="#6d93cf" stroke-width="1.6" />
<circle cx="1360.7" cy="162.7" r="9" fill="rgba(250,205,210,0.35)" stroke="#ef8c97" stroke-width="1.6" />
<circle cx="1360.7" cy="187.8" r="9" fill="rgba(250,205,210,0.35)" stroke="#ef8c97" stroke-width="1.6" />
<circle cx="1355.8" cy="266.5" r="9" fill="rgba(250,205,210,0.35)" stroke="#ef8c97" stroke-width="1.6" />
<circle cx="1364.1" cy="266.5" r="9" fill="rgba(250,205,210,0.35)" stroke="#ef8c97" stroke-width="1.6" />
<circle cx="1357.6" cy="292.3" r="9" fill="rgba(250,205,210,0.35)" stroke="#ef8c97" stroke-width="1.6" />
<circle cx="1364.8" cy="303.5" r="9" fill="rgba(250,205,210,0.35)" stroke="#ef8c97" stroke-width="1.6" />
<circle cx="1364.1" cy="327.1" r="9" fill="rgba(250,205,210,0.35)" stroke="#ef8c97" stroke-width="1.6" />
<circle cx="1358.0" cy="338.4" r="9" fill="rgba(250,205,210,0.35)" stroke="#ef8c97" stroke-width="1.6" />
<circle cx="1341.2" cy="348.5" r="9" fill="rgba(250,205,210,0.35)" stroke="#ef8c97" stroke-width="1.6" />
<circle cx="1353.5" cy="351.8" r="9" fill="rgba(250,205,210,0.35)" stroke="#ef8c97" stroke-width="1.6" />
<circle cx="1367.0" cy="348.5" r="9" fill="rgba(250,205,210,0.35)" stroke="#ef8c97" stroke-width="1.6" />
<circle cx="1373.7" cy="356.3" r="9" fill="rgba(250,205,210,0.35)" stroke="#ef8c97" stroke-width="1.6" />
<circle cx="1381.6" cy="355.2" r="9" fill="rgba(250,205,210,0.35)" stroke="#ef8c97" stroke-width="1.6" />
<circle cx="1337.8" cy="363.1" r="9" fill="rgba(250,205,210,0.35)" stroke="#ef8c97" stroke-width="1.6" />
<circle cx="1349.0" cy="358.6" r="9" fill="rgba(250,205,210,0.35)" stroke="#ef8c97" stroke-width="1.6" />
<circle cx="1361.4" cy="363.1" r="9" fill="rgba(250,205,210,0.35)" stroke="#ef8c97" stroke-width="1.6" />
<circle cx="1338.9" cy="376.6" r="9" fill="rgba(250,205,210,0.35)" stroke="#ef8c97" stroke-width="1.6" />
<circle cx="1349.0" cy="374.3" r="9" fill="rgba(250,205,210,0.35)" stroke="#ef8c97" stroke-width="1.6" />
<circle cx="1355.8" cy="376.6" r="9" fill="rgba(250,205,210,0.35)" stroke="#ef8c97" stroke-width="1.6" />
<circle cx="1362.5" cy="376.6" r="9" fill="rgba(250,205,210,0.35)" stroke="#ef8c97" stroke-width="1.6" />
<circle cx="1371.5" cy="378.8" r="9" fill="rgba(250,205,210,0.35)" stroke="#ef8c97" stroke-width="1.6" />
<circle cx="1382.7" cy="378.8" r="9" fill="rgba(250,205,210,0.35)" stroke="#ef8c97" stroke-width="1.6" />
<circle cx="1344.5" cy="369.8" r="9" fill="rgba(250,205,210,0.35)" stroke="#ef8c97" stroke-width="1.6" />
<circle cx="1354.6" cy="367.6" r="9" fill="rgba(250,205,210,0.35)" stroke="#ef8c97" stroke-width="1.6" />
<circle cx="1369.2" cy="372.1" r="9" fill="rgba(250,205,210,0.35)" stroke="#ef8c97" stroke-width="1.6" />
<circle cx="1377.1" cy="369.8" r="9" fill="rgba(250,205,210,0.35)" stroke="#ef8c97" stroke-width="1.6" />
<circle cx="1356.9" cy="344.0" r="9" fill="rgba(250,205,210,0.35)" stroke="#ef8c97" stroke-width="1.6" />
<circle cx="1367.0" cy="363.1" r="9" fill="rgba(250,205,210,0.35)" stroke="#ef8c97" stroke-width="1.6" />
<circle cx="1342.3" cy="356.3" r="9" fill="rgba(250,205,210,0.35)" stroke="#ef8c97" stroke-width="1.6" />
<line x1="1086.2" y1="391.2" x2="1086.2" y2="387.8" stroke="#000" stroke-width="3" />
<line x1="1071.7" y1="387.8" x2="1100.7" y2="387.8" stroke="#000" stroke-width="3" />
<line x1="1177.6" y1="389.5" x2="1177.6" y2="379.5" stroke="#000" stroke-width="3" />
<line x1="1163.1" y1="379.5" x2="1192.1" y2="379.5" stroke="#000" stroke-width="3" />
<line x1="1269.3" y1="358.0" x2="1269.3" y2="329.4" stroke="#000" stroke-width="3" />
<line x1="1254.8" y1="329.4" x2="1283.8" y2="329.4" stroke="#000" stroke-width="3" />
<line x1="1361.4" y1="329.8" x2="1361.4" y2="267.0" stroke="#000" stroke-width="3" />
<line x1="1346.9" y1="267.0" x2="1375.9" y2="267.0" stroke="#000" stroke-width="3" />
<path d="M1091.8,114.8 V106.5 H1263.7 V114.8" fill="none" stroke="#000" stroke-width="3"/>
<path d="M1177.2,153.2 V145.2 H1265.4 V153.2" fill="none" stroke="#000" stroke-width="3"/>
<path d="M1270.4,153.2 V145.2 H1361.8 V153.2" fill="none" stroke="#000" stroke-width="3"/>
<text x="1137.4" y="100.3" font-size="16.2" font-weight="normal" font-style="normal" text-anchor="start" fill="#000" textLength="81.5" lengthAdjust="spacingAndGlyphs" >p = 0.0002</text>
<text x="1182.8" y="137.6" font-size="16.2" font-weight="normal" font-style="normal" text-anchor="start" fill="#000" textLength="81.0" lengthAdjust="spacingAndGlyphs" >p &lt; 0.0001</text>
<text x="1273.8" y="137.6" font-size="16.2" font-weight="normal" font-style="normal" text-anchor="start" fill="#000" textLength="81.0" lengthAdjust="spacingAndGlyphs" >p = 0.0826</text>
<text transform="translate(1095.6,451.5) rotate(-45)" font-size="32.5" text-anchor="end">HC</text>
<text transform="translate(1187.0,451.5) rotate(-45)" font-size="32.5" text-anchor="end">Non-SF</text>
<text transform="translate(1278.7,451.5) rotate(-45)" font-size="32.5" text-anchor="end">SF-S</text>
<text transform="translate(1370.8,451.5) rotate(-45)" font-size="32.5" text-anchor="end">SF-D</text>
<line x1="1665.3" y1="114.5" x2="1665.3" y2="400.3" stroke="#000" stroke-width="2.6" />
<line x1="1655.8" y1="399.0" x2="1665.3" y2="399.0" stroke="#000" stroke-width="2.6" />
<text x="1584.2" y="408.0" font-size="30.5" font-weight="normal" font-style="normal" text-anchor="start" fill="#000" textLength="44.4" lengthAdjust="spacingAndGlyphs" >1.0</text>
<line x1="1655.8" y1="328.2" x2="1665.3" y2="328.2" stroke="#000" stroke-width="2.6" />
<text x="1584.2" y="337.2" font-size="30.5" font-weight="normal" font-style="normal" text-anchor="start" fill="#000" textLength="44.4" lengthAdjust="spacingAndGlyphs" >1.5</text>
<line x1="1655.8" y1="257.4" x2="1665.3" y2="257.4" stroke="#000" stroke-width="2.6" />
<text x="1584.2" y="266.4" font-size="30.5" font-weight="normal" font-style="normal" text-anchor="start" fill="#000" textLength="44.4" lengthAdjust="spacingAndGlyphs" >2.0</text>
<line x1="1655.8" y1="186.6" x2="1665.3" y2="186.6" stroke="#000" stroke-width="2.6" />
<text x="1584.2" y="195.6" font-size="30.5" font-weight="normal" font-style="normal" text-anchor="start" fill="#000" textLength="44.4" lengthAdjust="spacingAndGlyphs" >2.5</text>
<line x1="1655.8" y1="115.8" x2="1665.3" y2="115.8" stroke="#000" stroke-width="2.6" />
<text x="1584.2" y="124.8" font-size="30.5" font-weight="normal" font-style="normal" text-anchor="start" fill="#000" textLength="44.4" lengthAdjust="spacingAndGlyphs" >3.0</text>
<line x1="1655.8" y1="399.0" x2="2073.2" y2="399.0" stroke="#000" stroke-width="2.6" />
<line x1="1665.3" y1="399.0" x2="1665.3" y2="408.0" stroke="#000" stroke-width="2.6" />
<text x="1664.3" y="446.0" font-size="30" font-weight="normal" font-style="normal" text-anchor="middle" fill="#000" >-5</text>
<line x1="1746.6" y1="399.0" x2="1746.6" y2="408.0" stroke="#000" stroke-width="2.6" />
<text x="1745.6" y="446.0" font-size="30" font-weight="normal" font-style="normal" text-anchor="middle" fill="#000" >-4</text>
<line x1="1828.0" y1="399.0" x2="1828.0" y2="408.0" stroke="#000" stroke-width="2.6" />
<text x="1827.0" y="446.0" font-size="30" font-weight="normal" font-style="normal" text-anchor="middle" fill="#000" >-3</text>
<line x1="1909.3" y1="399.0" x2="1909.3" y2="408.0" stroke="#000" stroke-width="2.6" />
<text x="1908.3" y="446.0" font-size="30" font-weight="normal" font-style="normal" text-anchor="middle" fill="#000" >-2</text>
<line x1="1990.7" y1="399.0" x2="1990.7" y2="408.0" stroke="#000" stroke-width="2.6" />
<text x="1989.7" y="446.0" font-size="30" font-weight="normal" font-style="normal" text-anchor="middle" fill="#000" >-1</text>
<line x1="2072.1" y1="399.0" x2="2072.1" y2="408.0" stroke="#000" stroke-width="2.6" />
<text x="2073.1" y="446.0" font-size="30" font-weight="normal" font-style="normal" text-anchor="middle" fill="#000" >0</text>
<text x="1642.5" y="487.0" font-size="32" font-weight="normal" font-style="normal" text-anchor="start" fill="#000" textLength="470.0" lengthAdjust="spacingAndGlyphs" >Akkermansia relative abundance</text>
<text x="1834" y="522.4" font-size="32">(log<tspan font-size="22" dy="4.3">10</tspan><tspan dy="-4.3">)</tspan></text>
<text x="1928.5" y="120.8" font-size="16.5" textLength="76" lengthAdjust="spacingAndGlyphs">R<tspan font-size="11.5" dy="-4.2">2</tspan><tspan dy="4.2">=0.0938</tspan></text>
<text transform="translate(1566.1,410.2) rotate(-90)" font-size="34" textLength="272" lengthAdjust="spacingAndGlyphs">TNF-α (log<tspan font-size="23" dy="3.8">10</tspan><tspan dy="-3.8"> pg/ml)</tspan></text>
<circle cx="1718.8" cy="180.2" r="6.8" fill="#fbd27c" stroke="none" stroke-width="0" />
<circle cx="1718.8" cy="187.2" r="6.8" fill="#fbd27c" stroke="none" stroke-width="0" />
<circle cx="1757.8" cy="187.2" r="6.8" fill="#fbd27c" stroke="none" stroke-width="0" />
<circle cx="1718.8" cy="235.5" r="6.8" fill="#fbd27c" stroke="none" stroke-width="0" />
<circle cx="1734.3" cy="234.9" r="6.8" fill="#fbd27c" stroke="none" stroke-width="0" />
<circle cx="1744.0" cy="239.7" r="6.8" fill="#fbd27c" stroke="none" stroke-width="0" />
<circle cx="1751.6" cy="228.6" r="6.8" fill="#fbd27c" stroke="none" stroke-width="0" />
<circle cx="1758.5" cy="244.2" r="6.8" fill="#fbd27c" stroke="none" stroke-width="0" />
<circle cx="1718.8" cy="256.3" r="6.8" fill="#fbd27c" stroke="none" stroke-width="0" />
<circle cx="1718.8" cy="292.6" r="6.8" fill="#fbd27c" stroke="none" stroke-width="0" />
<circle cx="1744.0" cy="268.4" r="6.8" fill="#fbd27c" stroke="none" stroke-width="0" />
<circle cx="1785.5" cy="216.5" r="6.8" fill="#fbd27c" stroke="none" stroke-width="0" />
<circle cx="1806.2" cy="217.6" r="6.8" fill="#fbd27c" stroke="none" stroke-width="0" />
<circle cx="1813.8" cy="232.1" r="6.8" fill="#fbd27c" stroke="none" stroke-width="0" />
<circle cx="1816.6" cy="232.1" r="6.8" fill="#fbd27c" stroke="none" stroke-width="0" />
<circle cx="1794.8" cy="251.1" r="6.8" fill="#fbd27c" stroke="none" stroke-width="0" />
<circle cx="1806.2" cy="254.6" r="6.8" fill="#fbd27c" stroke="none" stroke-width="0" />
<circle cx="1810.4" cy="266.7" r="6.8" fill="#fbd27c" stroke="none" stroke-width="0" />
<circle cx="1812.1" cy="275.3" r="6.8" fill="#fbd27c" stroke="none" stroke-width="0" />
<circle cx="1775.8" cy="273.6" r="6.8" fill="#fbd27c" stroke="none" stroke-width="0" />
<circle cx="1768.9" cy="271.8" r="6.8" fill="#fbd27c" stroke="none" stroke-width="0" />
<circle cx="1777.5" cy="287.4" r="6.8" fill="#fbd27c" stroke="none" stroke-width="0" />
<circle cx="1782.7" cy="292.6" r="6.8" fill="#fbd27c" stroke="none" stroke-width="0" />
<circle cx="1779.2" cy="301.2" r="6.8" fill="#fbd27c" stroke="none" stroke-width="0" />
<circle cx="1793.1" cy="304.7" r="6.8" fill="#fbd27c" stroke="none" stroke-width="0" />
<circle cx="1789.6" cy="315.1" r="6.8" fill="#fbd27c" stroke="none" stroke-width="0" />
<circle cx="1786.2" cy="325.4" r="6.8" fill="#fbd27c" stroke="none" stroke-width="0" />
<circle cx="1794.8" cy="353.1" r="6.8" fill="#fbd27c" stroke="none" stroke-width="0" />
<circle cx="1791.3" cy="396.3" r="6.8" fill="#fbd27c" stroke="none" stroke-width="0" />
<circle cx="1796.5" cy="289.1" r="6.8" fill="#fbd27c" stroke="none" stroke-width="0" />
<circle cx="1803.4" cy="287.4" r="6.8" fill="#fbd27c" stroke="none" stroke-width="0" />
<circle cx="1810.4" cy="290.9" r="6.8" fill="#fbd27c" stroke="none" stroke-width="0" />
<circle cx="1817.3" cy="296.0" r="6.8" fill="#fbd27c" stroke="none" stroke-width="0" />
<circle cx="1820.7" cy="303.0" r="6.8" fill="#fbd27c" stroke="none" stroke-width="0" />
<circle cx="1824.2" cy="308.1" r="6.8" fill="#fbd27c" stroke="none" stroke-width="0" />
<circle cx="1813.8" cy="304.7" r="6.8" fill="#fbd27c" stroke="none" stroke-width="0" />
<circle cx="1808.6" cy="315.1" r="6.8" fill="#fbd27c" stroke="none" stroke-width="0" />
<circle cx="1815.5" cy="339.2" r="6.8" fill="#fbd27c" stroke="none" stroke-width="0" />
<circle cx="1825.9" cy="344.4" r="6.8" fill="#fbd27c" stroke="none" stroke-width="0" />
<circle cx="1834.6" cy="256.3" r="6.8" fill="#fbd27c" stroke="none" stroke-width="0" />
<circle cx="1841.5" cy="251.1" r="6.8" fill="#fbd27c" stroke="none" stroke-width="0" />
<circle cx="1843.2" cy="247.6" r="6.8" fill="#fbd27c" stroke="none" stroke-width="0" />
<circle cx="1838.0" cy="271.8" r="6.8" fill="#fbd27c" stroke="none" stroke-width="0" />
<circle cx="1844.9" cy="271.8" r="6.8" fill="#fbd27c" stroke="none" stroke-width="0" />
<circle cx="1831.1" cy="280.5" r="6.8" fill="#fbd27c" stroke="none" stroke-width="0" />
<circle cx="1832.8" cy="287.4" r="6.8" fill="#fbd27c" stroke="none" stroke-width="0" />
<circle cx="1836.3" cy="301.2" r="6.8" fill="#fbd27c" stroke="none" stroke-width="0" />
<circle cx="1841.5" cy="306.4" r="6.8" fill="#fbd27c" stroke="none" stroke-width="0" />
<circle cx="1846.7" cy="304.7" r="6.8" fill="#fbd27c" stroke="none" stroke-width="0" />
<circle cx="1851.8" cy="290.9" r="6.8" fill="#fbd27c" stroke="none" stroke-width="0" />
<circle cx="1853.6" cy="308.1" r="6.8" fill="#fbd27c" stroke="none" stroke-width="0" />
<circle cx="1855.3" cy="318.5" r="6.8" fill="#fbd27c" stroke="none" stroke-width="0" />
<circle cx="1851.8" cy="325.4" r="6.8" fill="#fbd27c" stroke="none" stroke-width="0" />
<circle cx="1844.9" cy="323.7" r="6.8" fill="#fbd27c" stroke="none" stroke-width="0" />
<circle cx="1832.8" cy="323.7" r="6.8" fill="#fbd27c" stroke="none" stroke-width="0" />
<circle cx="1851.8" cy="346.2" r="6.8" fill="#fbd27c" stroke="none" stroke-width="0" />
<circle cx="1855.3" cy="271.8" r="6.8" fill="#fbd27c" stroke="none" stroke-width="0" />
<circle cx="1860.5" cy="259.7" r="6.8" fill="#fbd27c" stroke="none" stroke-width="0" />
<circle cx="1865.7" cy="263.2" r="6.8" fill="#fbd27c" stroke="none" stroke-width="0" />
<circle cx="1870.8" cy="216.5" r="6.8" fill="#fbd27c" stroke="none" stroke-width="0" />
<circle cx="1876.0" cy="259.7" r="6.8" fill="#fbd27c" stroke="none" stroke-width="0" />
<circle cx="1881.2" cy="259.7" r="6.8" fill="#fbd27c" stroke="none" stroke-width="0" />
<circle cx="1886.4" cy="261.5" r="6.8" fill="#fbd27c" stroke="none" stroke-width="0" />
<circle cx="1877.8" cy="268.4" r="6.8" fill="#fbd27c" stroke="none" stroke-width="0" />
<circle cx="1882.9" cy="273.6" r="6.8" fill="#fbd27c" stroke="none" stroke-width="0" />
<circle cx="1888.1" cy="278.8" r="6.8" fill="#fbd27c" stroke="none" stroke-width="0" />
<circle cx="1891.6" cy="277.0" r="6.8" fill="#fbd27c" stroke="none" stroke-width="0" />
<circle cx="1872.6" cy="271.8" r="6.8" fill="#fbd27c" stroke="none" stroke-width="0" />
<circle cx="1869.1" cy="287.4" r="6.8" fill="#fbd27c" stroke="none" stroke-width="0" />
<circle cx="1865.7" cy="315.1" r="6.8" fill="#fbd27c" stroke="none" stroke-width="0" />
<circle cx="1863.9" cy="322.0" r="6.8" fill="#fbd27c" stroke="none" stroke-width="0" />
<circle cx="1872.6" cy="315.1" r="6.8" fill="#fbd27c" stroke="none" stroke-width="0" />
<circle cx="1879.5" cy="318.5" r="6.8" fill="#fbd27c" stroke="none" stroke-width="0" />
<circle cx="1886.4" cy="322.0" r="6.8" fill="#fbd27c" stroke="none" stroke-width="0" />
<circle cx="1889.9" cy="328.9" r="6.8" fill="#fbd27c" stroke="none" stroke-width="0" />
<circle cx="1893.3" cy="315.1" r="6.8" fill="#fbd27c" stroke="none" stroke-width="0" />
<circle cx="1900.2" cy="325.4" r="6.8" fill="#fbd27c" stroke="none" stroke-width="0" />
<circle cx="1903.7" cy="311.6" r="6.8" fill="#fbd27c" stroke="none" stroke-width="0" />
<circle cx="1888.1" cy="242.5" r="6.8" fill="#fbd27c" stroke="none" stroke-width="0" />
<circle cx="1895.0" cy="247.6" r="6.8" fill="#fbd27c" stroke="none" stroke-width="0" />
<circle cx="1905.4" cy="268.4" r="6.8" fill="#fbd27c" stroke="none" stroke-width="0" />
<circle cx="1914.1" cy="268.4" r="6.8" fill="#fbd27c" stroke="none" stroke-width="0" />
<circle cx="1919.2" cy="270.1" r="6.8" fill="#fbd27c" stroke="none" stroke-width="0" />
<circle cx="1927.9" cy="271.8" r="6.8" fill="#fbd27c" stroke="none" stroke-width="0" />
<circle cx="1917.5" cy="299.5" r="6.8" fill="#fbd27c" stroke="none" stroke-width="0" />
<circle cx="1921.0" cy="308.1" r="6.8" fill="#fbd27c" stroke="none" stroke-width="0" />
<circle cx="1903.7" cy="361.7" r="6.8" fill="#fbd27c" stroke="none" stroke-width="0" />
<circle cx="1931.3" cy="318.5" r="6.8" fill="#fbd27c" stroke="none" stroke-width="0" />
<circle cx="1941.7" cy="266.7" r="6.8" fill="#fbd27c" stroke="none" stroke-width="0" />
<circle cx="1943.4" cy="273.6" r="6.8" fill="#fbd27c" stroke="none" stroke-width="0" />
<circle cx="1941.7" cy="280.5" r="6.8" fill="#fbd27c" stroke="none" stroke-width="0" />
<circle cx="1936.5" cy="296.0" r="6.8" fill="#fbd27c" stroke="none" stroke-width="0" />
<circle cx="1945.2" cy="311.6" r="6.8" fill="#fbd27c" stroke="none" stroke-width="0" />
<circle cx="1957.3" cy="259.7" r="6.8" fill="#fbd27c" stroke="none" stroke-width="0" />
<circle cx="1962.4" cy="289.1" r="6.8" fill="#fbd27c" stroke="none" stroke-width="0" />
<circle cx="1957.3" cy="301.2" r="6.8" fill="#fbd27c" stroke="none" stroke-width="0" />
<circle cx="1959.0" cy="309.9" r="6.8" fill="#fbd27c" stroke="none" stroke-width="0" />
<circle cx="1960.7" cy="318.5" r="6.8" fill="#fbd27c" stroke="none" stroke-width="0" />
<circle cx="1964.2" cy="290.9" r="6.8" fill="#fbd27c" stroke="none" stroke-width="0" />
<circle cx="1969.4" cy="297.8" r="6.8" fill="#fbd27c" stroke="none" stroke-width="0" />
<circle cx="1972.8" cy="322.0" r="6.8" fill="#fbd27c" stroke="none" stroke-width="0" />
<circle cx="1978.0" cy="244.2" r="6.8" fill="#fbd27c" stroke="none" stroke-width="0" />
<circle cx="1976.3" cy="264.9" r="6.8" fill="#fbd27c" stroke="none" stroke-width="0" />
<circle cx="1984.9" cy="270.1" r="6.8" fill="#fbd27c" stroke="none" stroke-width="0" />
<circle cx="1984.9" cy="289.1" r="6.8" fill="#fbd27c" stroke="none" stroke-width="0" />
<circle cx="1979.7" cy="301.2" r="6.8" fill="#fbd27c" stroke="none" stroke-width="0" />
<circle cx="1988.4" cy="330.6" r="6.8" fill="#fbd27c" stroke="none" stroke-width="0" />
<circle cx="1997.0" cy="268.4" r="6.8" fill="#fbd27c" stroke="none" stroke-width="0" />
<circle cx="2003.9" cy="289.1" r="6.8" fill="#fbd27c" stroke="none" stroke-width="0" />
<circle cx="1997.0" cy="306.4" r="6.8" fill="#fbd27c" stroke="none" stroke-width="0" />
<circle cx="2017.8" cy="322.0" r="6.8" fill="#fbd27c" stroke="none" stroke-width="0" />
<circle cx="2026.4" cy="297.8" r="6.8" fill="#fbd27c" stroke="none" stroke-width="0" />
<circle cx="2035.0" cy="292.6" r="6.8" fill="#fbd27c" stroke="none" stroke-width="0" />
<circle cx="2041.9" cy="297.8" r="6.8" fill="#fbd27c" stroke="none" stroke-width="0" />
<circle cx="2038.5" cy="303.0" r="6.8" fill="#fbd27c" stroke="none" stroke-width="0" />
<circle cx="2057.5" cy="294.3" r="6.8" fill="#fbd27c" stroke="none" stroke-width="0" />
<circle cx="2073.1" cy="277.0" r="6.8" fill="#fbd27c" stroke="none" stroke-width="0" />
<circle cx="2073.1" cy="339.9" r="6.8" fill="#fbd27c" stroke="none" stroke-width="0" />
<circle cx="1694.6" cy="263.9" r="3.6" fill="#b98d2b" stroke="none" stroke-width="0" />
<circle cx="1710.7" cy="265.9" r="3.6" fill="#b98d2b" stroke="none" stroke-width="0" />
<circle cx="1726.9" cy="268.0" r="3.6" fill="#b98d2b" stroke="none" stroke-width="0" />
<circle cx="1743.0" cy="270.0" r="3.6" fill="#b98d2b" stroke="none" stroke-width="0" />
<circle cx="1759.1" cy="272.1" r="3.6" fill="#b98d2b" stroke="none" stroke-width="0" />
<circle cx="1775.2" cy="274.1" r="3.6" fill="#b98d2b" stroke="none" stroke-width="0" />
<circle cx="1791.4" cy="276.2" r="3.6" fill="#b98d2b" stroke="none" stroke-width="0" />
<circle cx="1807.5" cy="278.2" r="3.6" fill="#b98d2b" stroke="none" stroke-width="0" />
<circle cx="1823.6" cy="280.2" r="3.6" fill="#b98d2b" stroke="none" stroke-width="0" />
<circle cx="1839.7" cy="282.3" r="3.6" fill="#b98d2b" stroke="none" stroke-width="0" />
<circle cx="1855.9" cy="284.3" r="3.6" fill="#b98d2b" stroke="none" stroke-width="0" />
<circle cx="1872.0" cy="286.4" r="3.6" fill="#b98d2b" stroke="none" stroke-width="0" />
<circle cx="1888.1" cy="288.4" r="3.6" fill="#b98d2b" stroke="none" stroke-width="0" />
<circle cx="1904.2" cy="290.5" r="3.6" fill="#b98d2b" stroke="none" stroke-width="0" />
<circle cx="1920.4" cy="292.5" r="3.6" fill="#b98d2b" stroke="none" stroke-width="0" />
<circle cx="1936.5" cy="294.6" r="3.6" fill="#b98d2b" stroke="none" stroke-width="0" />
<circle cx="1952.6" cy="296.6" r="3.6" fill="#b98d2b" stroke="none" stroke-width="0" />
<circle cx="1968.7" cy="298.6" r="3.6" fill="#b98d2b" stroke="none" stroke-width="0" />
<circle cx="1984.9" cy="300.7" r="3.6" fill="#b98d2b" stroke="none" stroke-width="0" />
<circle cx="2001.0" cy="302.7" r="3.6" fill="#b98d2b" stroke="none" stroke-width="0" />
<circle cx="2017.1" cy="304.8" r="3.6" fill="#b98d2b" stroke="none" stroke-width="0" />
<circle cx="2033.2" cy="306.8" r="3.6" fill="#b98d2b" stroke="none" stroke-width="0" />
<circle cx="2049.4" cy="308.9" r="3.6" fill="#b98d2b" stroke="none" stroke-width="0" />
<circle cx="2065.5" cy="310.9" r="3.6" fill="#b98d2b" stroke="none" stroke-width="0" />
<text x="48.0" y="607.3" font-size="46" font-weight="bold" font-style="normal" text-anchor="start" fill="#000" >B</text>
<line x1="211.2" y1="1009.0" x2="613.8" y2="1009.0" stroke="#000" stroke-width="3" />
<rect x="243.5" y="1004.0" width="56.0" height="5.0" fill="#fff" stroke="#000" stroke-width="3"/>
<rect x="539.0" y="1001.0" width="56.0" height="8.0" fill="#fff" stroke="#000" stroke-width="3"/>
<rect x="241.0" y="1001.0" width="61.0" height="13.5" rx="6" fill="#93c675"/>
<circle cx="256.2" cy="1004.8" r="6.6" fill="rgba(170,215,140,0.30)" stroke="#6aab3d" stroke-width="1.8" />
<circle cx="292.7" cy="1001.3" r="6.6" fill="rgba(170,215,140,0.30)" stroke="#6aab3d" stroke-width="1.8" />
<circle cx="279.7" cy="1005.8" r="6.6" fill="rgba(170,215,140,0.30)" stroke="#6aab3d" stroke-width="1.8" />
<circle cx="257.6" cy="1008.1" r="6.6" fill="rgba(170,215,140,0.30)" stroke="#6aab3d" stroke-width="1.8" />
<circle cx="281.1" cy="1007.4" r="6.6" fill="rgba(170,215,140,0.30)" stroke="#6aab3d" stroke-width="1.8" />
<circle cx="295.1" cy="1008.1" r="6.6" fill="rgba(170,215,140,0.30)" stroke="#6aab3d" stroke-width="1.8" />
<circle cx="256.2" cy="1009.4" r="6.6" fill="rgba(170,215,140,0.30)" stroke="#6aab3d" stroke-width="1.8" />
<circle cx="285.0" cy="1009.2" r="6.6" fill="rgba(170,215,140,0.30)" stroke="#6aab3d" stroke-width="1.8" />
<circle cx="270.1" cy="1006.7" r="6.6" fill="rgba(170,215,140,0.30)" stroke="#6aab3d" stroke-width="1.8" />
<circle cx="278.4" cy="1007.1" r="6.6" fill="rgba(170,215,140,0.30)" stroke="#6aab3d" stroke-width="1.8" />
<circle cx="256.9" cy="1006.4" r="6.6" fill="rgba(170,215,140,0.30)" stroke="#6aab3d" stroke-width="1.8" />
<circle cx="261.7" cy="1006.1" r="6.6" fill="rgba(170,215,140,0.30)" stroke="#6aab3d" stroke-width="1.8" />
<circle cx="287.7" cy="1009.0" r="6.6" fill="rgba(170,215,140,0.30)" stroke="#6aab3d" stroke-width="1.8" />
<circle cx="279.7" cy="1003.9" r="6.6" fill="rgba(170,215,140,0.30)" stroke="#6aab3d" stroke-width="1.8" />
<circle cx="266.2" cy="1002.1" r="6.6" fill="rgba(170,215,140,0.30)" stroke="#6aab3d" stroke-width="1.8" />
<circle cx="267.6" cy="1006.6" r="6.6" fill="rgba(170,215,140,0.30)" stroke="#6aab3d" stroke-width="1.8" />
<circle cx="279.9" cy="1006.4" r="6.6" fill="rgba(170,215,140,0.30)" stroke="#6aab3d" stroke-width="1.8" />
<circle cx="269.7" cy="1009.9" r="6.6" fill="rgba(170,215,140,0.30)" stroke="#6aab3d" stroke-width="1.8" />
<circle cx="263.8" cy="1005.2" r="6.6" fill="rgba(170,215,140,0.30)" stroke="#6aab3d" stroke-width="1.8" />
<circle cx="281.7" cy="1009.8" r="6.6" fill="rgba(170,215,140,0.30)" stroke="#6aab3d" stroke-width="1.8" />
<circle cx="274.7" cy="1009.9" r="6.6" fill="rgba(170,215,140,0.30)" stroke="#6aab3d" stroke-width="1.8" />
<circle cx="248.2" cy="1008.6" r="6.6" fill="rgba(170,215,140,0.30)" stroke="#6aab3d" stroke-width="1.8" />
<circle cx="288.0" cy="988.4" r="6.6" fill="rgba(170,215,140,0.30)" stroke="#6aab3d" stroke-width="1.8" />
<circle cx="267.2" cy="1000.0" r="6.6" fill="rgba(170,215,140,0.30)" stroke="#6aab3d" stroke-width="1.8" />
<circle cx="275.3" cy="1002.3" r="6.6" fill="rgba(170,215,140,0.30)" stroke="#6aab3d" stroke-width="1.8" />
<circle cx="293.7" cy="1001.6" r="6.6" fill="rgba(170,215,140,0.30)" stroke="#6aab3d" stroke-width="1.8" />
<circle cx="349.2" cy="998.1" r="6.6" fill="rgba(252,225,150,0.30)" stroke="#f8b92b" stroke-width="1.8" />
<circle cx="378.9" cy="998.6" r="6.6" fill="rgba(252,225,150,0.30)" stroke="#f8b92b" stroke-width="1.8" />
<circle cx="363.4" cy="989.3" r="6.6" fill="rgba(252,225,150,0.30)" stroke="#f8b92b" stroke-width="1.8" />
<circle cx="368.8" cy="990.6" r="6.6" fill="rgba(252,225,150,0.30)" stroke="#f8b92b" stroke-width="1.8" />
<circle cx="388.0" cy="993.0" r="6.6" fill="rgba(252,225,150,0.30)" stroke="#f8b92b" stroke-width="1.8" />
<circle cx="387.8" cy="996.0" r="6.6" fill="rgba(252,225,150,0.30)" stroke="#f8b92b" stroke-width="1.8" />
<circle cx="378.8" cy="989.9" r="6.6" fill="rgba(252,225,150,0.30)" stroke="#f8b92b" stroke-width="1.8" />
<circle cx="350.0" cy="1000.9" r="6.6" fill="rgba(252,225,150,0.30)" stroke="#f8b92b" stroke-width="1.8" />
<circle cx="362.6" cy="1000.5" r="6.6" fill="rgba(252,225,150,0.30)" stroke="#f8b92b" stroke-width="1.8" />
<circle cx="388.0" cy="985.9" r="6.6" fill="rgba(252,225,150,0.30)" stroke="#f8b92b" stroke-width="1.8" />
<circle cx="351.7" cy="987.6" r="6.6" fill="rgba(252,225,150,0.30)" stroke="#f8b92b" stroke-width="1.8" />
<circle cx="383.2" cy="989.7" r="6.6" fill="rgba(252,225,150,0.30)" stroke="#f8b92b" stroke-width="1.8" />
<circle cx="384.0" cy="988.1" r="6.6" fill="rgba(252,225,150,0.30)" stroke="#f8b92b" stroke-width="1.8" />
<circle cx="354.6" cy="998.8" r="6.6" fill="rgba(252,225,150,0.30)" stroke="#f8b92b" stroke-width="1.8" />
<circle cx="381.4" cy="988.3" r="6.6" fill="rgba(252,225,150,0.30)" stroke="#f8b92b" stroke-width="1.8" />
<circle cx="367.4" cy="986.7" r="6.6" fill="rgba(252,225,150,0.30)" stroke="#f8b92b" stroke-width="1.8" />
<circle cx="352.7" cy="986.8" r="6.6" fill="rgba(252,225,150,0.30)" stroke="#f8b92b" stroke-width="1.8" />
<circle cx="388.5" cy="985.7" r="6.6" fill="rgba(252,225,150,0.30)" stroke="#f8b92b" stroke-width="1.8" />
<circle cx="349.2" cy="995.6" r="6.6" fill="rgba(252,225,150,0.30)" stroke="#f8b92b" stroke-width="1.8" />
<circle cx="379.1" cy="992.2" r="6.6" fill="rgba(252,225,150,0.30)" stroke="#f8b92b" stroke-width="1.8" />
<circle cx="348.8" cy="995.4" r="6.6" fill="rgba(252,225,150,0.30)" stroke="#f8b92b" stroke-width="1.8" />
<circle cx="385.6" cy="996.5" r="6.6" fill="rgba(252,225,150,0.30)" stroke="#f8b92b" stroke-width="1.8" />
<rect x="338.7" y="994.3" width="62.9" height="21.4" rx="6" fill="#fbb92b"/>
<circle cx="347.8" cy="997.1" r="6.6" fill="#fbb92b" stroke="none" stroke-width="0" />
<circle cx="356.7" cy="998.9" r="6.6" fill="#fbb92b" stroke="none" stroke-width="0" />
<circle cx="364.5" cy="996.9" r="6.6" fill="#fbb92b" stroke="none" stroke-width="0" />
<circle cx="375.9" cy="998.6" r="6.6" fill="#fbb92b" stroke="none" stroke-width="0" />
<circle cx="381.0" cy="997.8" r="6.6" fill="#fbb92b" stroke="none" stroke-width="0" />
<circle cx="392.4" cy="999.4" r="6.6" fill="#fbb92b" stroke="none" stroke-width="0" />
<circle cx="368.6" cy="767.9" r="6.6" fill="rgba(252,225,150,0.30)" stroke="#f8b92b" stroke-width="1.8" />
<circle cx="372.1" cy="816.8" r="6.6" fill="rgba(252,225,150,0.30)" stroke="#f8b92b" stroke-width="1.8" />
<circle cx="352.9" cy="866.3" r="6.6" fill="rgba(252,225,150,0.30)" stroke="#f8b92b" stroke-width="1.8" />
<circle cx="346.0" cy="909.4" r="6.6" fill="rgba(252,225,150,0.30)" stroke="#f8b92b" stroke-width="1.8" />
<circle cx="367.5" cy="918.6" r="6.6" fill="rgba(252,225,150,0.30)" stroke="#f8b92b" stroke-width="1.8" />
<circle cx="364.5" cy="927.8" r="6.6" fill="rgba(252,225,150,0.30)" stroke="#f8b92b" stroke-width="1.8" />
<circle cx="351.3" cy="954.6" r="6.6" fill="rgba(252,225,150,0.30)" stroke="#f8b92b" stroke-width="1.8" />
<circle cx="357.1" cy="956.9" r="6.6" fill="rgba(252,225,150,0.30)" stroke="#f8b92b" stroke-width="1.8" />
<circle cx="365.2" cy="956.9" r="6.6" fill="rgba(252,225,150,0.30)" stroke="#f8b92b" stroke-width="1.8" />
<circle cx="373.2" cy="968.8" r="6.6" fill="rgba(252,225,150,0.30)" stroke="#f8b92b" stroke-width="1.8" />
<circle cx="381.3" cy="974.6" r="6.6" fill="rgba(252,225,150,0.30)" stroke="#f8b92b" stroke-width="1.8" />
<circle cx="385.9" cy="980.4" r="6.6" fill="rgba(252,225,150,0.30)" stroke="#f8b92b" stroke-width="1.8" />
<circle cx="389.4" cy="985.0" r="6.6" fill="rgba(252,225,150,0.30)" stroke="#f8b92b" stroke-width="1.8" />
<circle cx="352.5" cy="987.3" r="6.6" fill="rgba(252,225,150,0.30)" stroke="#f8b92b" stroke-width="1.8" />
<circle cx="358.2" cy="982.7" r="6.6" fill="rgba(252,225,150,0.30)" stroke="#f8b92b" stroke-width="1.8" />
<circle cx="365.2" cy="980.4" r="6.6" fill="rgba(252,225,150,0.30)" stroke="#f8b92b" stroke-width="1.8" />
<circle cx="379.0" cy="982.7" r="6.6" fill="rgba(252,225,150,0.30)" stroke="#f8b92b" stroke-width="1.8" />
<circle cx="487.6" cy="990.2" r="6.6" fill="rgba(185,210,240,0.35)" stroke="#6a9fd8" stroke-width="1.8" />
<circle cx="473.3" cy="993.2" r="6.6" fill="rgba(185,210,240,0.35)" stroke="#6a9fd8" stroke-width="1.8" />
<circle cx="456.7" cy="987.3" r="6.6" fill="rgba(185,210,240,0.35)" stroke="#6a9fd8" stroke-width="1.8" />
<circle cx="477.8" cy="996.4" r="6.6" fill="rgba(185,210,240,0.35)" stroke="#6a9fd8" stroke-width="1.8" />
<circle cx="471.6" cy="991.6" r="6.6" fill="rgba(185,210,240,0.35)" stroke="#6a9fd8" stroke-width="1.8" />
<circle cx="491.6" cy="995.3" r="6.6" fill="rgba(185,210,240,0.35)" stroke="#6a9fd8" stroke-width="1.8" />
<circle cx="478.7" cy="996.1" r="6.6" fill="rgba(185,210,240,0.35)" stroke="#6a9fd8" stroke-width="1.8" />
<circle cx="464.8" cy="985.8" r="6.6" fill="rgba(185,210,240,0.35)" stroke="#6a9fd8" stroke-width="1.8" />
<circle cx="455.8" cy="1000.1" r="6.6" fill="rgba(185,210,240,0.35)" stroke="#6a9fd8" stroke-width="1.8" />
<circle cx="452.2" cy="999.9" r="6.6" fill="rgba(185,210,240,0.35)" stroke="#6a9fd8" stroke-width="1.8" />
<circle cx="461.9" cy="999.0" r="6.6" fill="rgba(185,210,240,0.35)" stroke="#6a9fd8" stroke-width="1.8" />
<circle cx="467.2" cy="994.7" r="6.6" fill="rgba(185,210,240,0.35)" stroke="#6a9fd8" stroke-width="1.8" />
<circle cx="478.6" cy="989.7" r="6.6" fill="rgba(185,210,240,0.35)" stroke="#6a9fd8" stroke-width="1.8" />
<circle cx="463.0" cy="989.3" r="6.6" fill="rgba(185,210,240,0.35)" stroke="#6a9fd8" stroke-width="1.8" />
<circle cx="472.3" cy="989.7" r="6.6" fill="rgba(185,210,240,0.35)" stroke="#6a9fd8" stroke-width="1.8" />
<circle cx="472.1" cy="998.8" r="6.6" fill="rgba(185,210,240,0.35)" stroke="#6a9fd8" stroke-width="1.8" />
<circle cx="478.6" cy="995.6" r="6.6" fill="rgba(185,210,240,0.35)" stroke="#6a9fd8" stroke-width="1.8" />
<circle cx="456.8" cy="988.5" r="6.6" fill="rgba(185,210,240,0.35)" stroke="#6a9fd8" stroke-width="1.8" />
<circle cx="467.5" cy="993.6" r="6.6" fill="rgba(185,210,240,0.35)" stroke="#6a9fd8" stroke-width="1.8" />
<circle cx="446.8" cy="996.0" r="6.6" fill="rgba(185,210,240,0.35)" stroke="#6a9fd8" stroke-width="1.8" />
<circle cx="494.4" cy="1000.2" r="6.6" fill="rgba(185,210,240,0.35)" stroke="#6a9fd8" stroke-width="1.8" />
<circle cx="466.7" cy="988.4" r="6.6" fill="rgba(185,210,240,0.35)" stroke="#6a9fd8" stroke-width="1.8" />
<circle cx="458.2" cy="989.7" r="6.6" fill="rgba(185,210,240,0.35)" stroke="#6a9fd8" stroke-width="1.8" />
<circle cx="492.3" cy="988.9" r="6.6" fill="rgba(185,210,240,0.35)" stroke="#6a9fd8" stroke-width="1.8" />
<circle cx="468.1" cy="987.9" r="6.6" fill="rgba(185,210,240,0.35)" stroke="#6a9fd8" stroke-width="1.8" />
<circle cx="490.9" cy="984.3" r="6.6" fill="rgba(185,210,240,0.35)" stroke="#6a9fd8" stroke-width="1.8" />
<circle cx="465.4" cy="1000.0" r="6.6" fill="rgba(185,210,240,0.35)" stroke="#6a9fd8" stroke-width="1.8" />
<circle cx="458.5" cy="993.3" r="6.6" fill="rgba(185,210,240,0.35)" stroke="#6a9fd8" stroke-width="1.8" />
<rect x="437.8" y="993.3" width="63.9" height="22.4" rx="6" fill="#6a9fd6"/>
<circle cx="448.5" cy="998.0" r="6.6" fill="#6a9fd6" stroke="none" stroke-width="0" />
<circle cx="456.3" cy="996.3" r="6.6" fill="#6a9fd6" stroke="none" stroke-width="0" />
<circle cx="460.8" cy="996.7" r="6.6" fill="#6a9fd6" stroke="none" stroke-width="0" />
<circle cx="468.8" cy="996.8" r="6.6" fill="#6a9fd6" stroke="none" stroke-width="0" />
<circle cx="477.8" cy="996.0" r="6.6" fill="#6a9fd6" stroke="none" stroke-width="0" />
<circle cx="485.4" cy="997.6" r="6.6" fill="#6a9fd6" stroke="none" stroke-width="0" />
<circle cx="492.4" cy="998.0" r="6.6" fill="#6a9fd6" stroke="none" stroke-width="0" />
<circle cx="492.6" cy="788.4" r="6.6" fill="rgba(185,210,240,0.35)" stroke="#6a9fd8" stroke-width="1.8" />
<circle cx="458.5" cy="858.7" r="6.6" fill="rgba(185,210,240,0.35)" stroke="#6a9fd8" stroke-width="1.8" />
<circle cx="487.7" cy="849.5" r="6.6" fill="rgba(185,210,240,0.35)" stroke="#6a9fd8" stroke-width="1.8" />
<circle cx="489.6" cy="858.7" r="6.6" fill="rgba(185,210,240,0.35)" stroke="#6a9fd8" stroke-width="1.8" />
<circle cx="451.6" cy="897.4" r="6.6" fill="rgba(185,210,240,0.35)" stroke="#6a9fd8" stroke-width="1.8" />
<circle cx="457.8" cy="899.7" r="6.6" fill="rgba(185,210,240,0.35)" stroke="#6a9fd8" stroke-width="1.8" />
<circle cx="459.6" cy="906.6" r="6.6" fill="rgba(185,210,240,0.35)" stroke="#6a9fd8" stroke-width="1.8" />
<circle cx="450.4" cy="917.0" r="6.6" fill="rgba(185,210,240,0.35)" stroke="#6a9fd8" stroke-width="1.8" />
<circle cx="456.2" cy="918.6" r="6.6" fill="rgba(185,210,240,0.35)" stroke="#6a9fd8" stroke-width="1.8" />
<circle cx="485.0" cy="934.3" r="6.6" fill="rgba(185,210,240,0.35)" stroke="#6a9fd8" stroke-width="1.8" />
<circle cx="470.0" cy="941.7" r="6.6" fill="rgba(185,210,240,0.35)" stroke="#6a9fd8" stroke-width="1.8" />
<circle cx="489.6" cy="947.0" r="6.6" fill="rgba(185,210,240,0.35)" stroke="#6a9fd8" stroke-width="1.8" />
<circle cx="493.7" cy="956.9" r="6.6" fill="rgba(185,210,240,0.35)" stroke="#6a9fd8" stroke-width="1.8" />
<circle cx="478.5" cy="958.5" r="6.6" fill="rgba(185,210,240,0.35)" stroke="#6a9fd8" stroke-width="1.8" />
<circle cx="482.2" cy="967.7" r="6.6" fill="rgba(185,210,240,0.35)" stroke="#6a9fd8" stroke-width="1.8" />
<circle cx="447.0" cy="974.6" r="6.6" fill="rgba(185,210,240,0.35)" stroke="#6a9fd8" stroke-width="1.8" />
<circle cx="482.7" cy="978.1" r="6.6" fill="rgba(185,210,240,0.35)" stroke="#6a9fd8" stroke-width="1.8" />
<circle cx="443.5" cy="984.5" r="6.6" fill="rgba(185,210,240,0.35)" stroke="#6a9fd8" stroke-width="1.8" />
<circle cx="493.0" cy="988.4" r="6.6" fill="rgba(185,210,240,0.35)" stroke="#6a9fd8" stroke-width="1.8" />
<circle cx="473.5" cy="985.0" r="6.6" fill="rgba(185,210,240,0.35)" stroke="#6a9fd8" stroke-width="1.8" />
<circle cx="452.7" cy="982.7" r="6.6" fill="rgba(185,210,240,0.35)" stroke="#6a9fd8" stroke-width="1.8" />
<rect x="537.0" y="999.0" width="60.0" height="15.5" rx="6" fill="#f39aa4"/>
<circle cx="562.9" cy="1003.3" r="6.6" fill="rgba(250,200,205,0.35)" stroke="#ef7d8b" stroke-width="1.8" />
<circle cx="553.9" cy="1006.9" r="6.6" fill="rgba(250,200,205,0.35)" stroke="#ef7d8b" stroke-width="1.8" />
<circle cx="581.8" cy="1007.3" r="6.6" fill="rgba(250,200,205,0.35)" stroke="#ef7d8b" stroke-width="1.8" />
<circle cx="553.6" cy="1008.2" r="6.6" fill="rgba(250,200,205,0.35)" stroke="#ef7d8b" stroke-width="1.8" />
<circle cx="549.9" cy="1007.5" r="6.6" fill="rgba(250,200,205,0.35)" stroke="#ef7d8b" stroke-width="1.8" />
<circle cx="571.4" cy="1003.2" r="6.6" fill="rgba(250,200,205,0.35)" stroke="#ef7d8b" stroke-width="1.8" />
<circle cx="587.0" cy="1003.7" r="6.6" fill="rgba(250,200,205,0.35)" stroke="#ef7d8b" stroke-width="1.8" />
<circle cx="543.9" cy="1005.4" r="6.6" fill="rgba(250,200,205,0.35)" stroke="#ef7d8b" stroke-width="1.8" />
<circle cx="567.8" cy="1007.5" r="6.6" fill="rgba(250,200,205,0.35)" stroke="#ef7d8b" stroke-width="1.8" />
<circle cx="587.9" cy="1003.3" r="6.6" fill="rgba(250,200,205,0.35)" stroke="#ef7d8b" stroke-width="1.8" />
<circle cx="553.3" cy="1004.9" r="6.6" fill="rgba(250,200,205,0.35)" stroke="#ef7d8b" stroke-width="1.8" />
<circle cx="588.7" cy="1004.3" r="6.6" fill="rgba(250,200,205,0.35)" stroke="#ef7d8b" stroke-width="1.8" />
<circle cx="588.6" cy="1006.3" r="6.6" fill="rgba(250,200,205,0.35)" stroke="#ef7d8b" stroke-width="1.8" />
<circle cx="570.8" cy="1001.8" r="6.6" fill="rgba(250,200,205,0.35)" stroke="#ef7d8b" stroke-width="1.8" />
<circle cx="548.4" cy="1005.2" r="6.6" fill="rgba(250,200,205,0.35)" stroke="#ef7d8b" stroke-width="1.8" />
<circle cx="544.0" cy="1008.1" r="6.6" fill="rgba(250,200,205,0.35)" stroke="#ef7d8b" stroke-width="1.8" />
<circle cx="577.6" cy="1004.1" r="6.6" fill="rgba(250,200,205,0.35)" stroke="#ef7d8b" stroke-width="1.8" />
<circle cx="572.1" cy="1001.1" r="6.6" fill="rgba(250,200,205,0.35)" stroke="#ef7d8b" stroke-width="1.8" />
<circle cx="562.1" cy="1001.0" r="6.6" fill="rgba(250,200,205,0.35)" stroke="#ef7d8b" stroke-width="1.8" />
<circle cx="545.0" cy="1007.9" r="6.6" fill="rgba(250,200,205,0.35)" stroke="#ef7d8b" stroke-width="1.8" />
<circle cx="568.5" cy="1006.7" r="6.6" fill="rgba(250,200,205,0.35)" stroke="#ef7d8b" stroke-width="1.8" />
<circle cx="556.9" cy="1001.1" r="6.6" fill="rgba(250,200,205,0.35)" stroke="#ef7d8b" stroke-width="1.8" />
<circle cx="578.2" cy="1007.1" r="6.6" fill="rgba(250,200,205,0.35)" stroke="#ef7d8b" stroke-width="1.8" />
<circle cx="569.9" cy="1005.9" r="6.6" fill="rgba(250,200,205,0.35)" stroke="#ef7d8b" stroke-width="1.8" />
<circle cx="584.7" cy="1007.8" r="6.6" fill="rgba(250,200,205,0.35)" stroke="#ef7d8b" stroke-width="1.8" />
<circle cx="579.8" cy="1001.6" r="6.6" fill="rgba(250,200,205,0.35)" stroke="#ef7d8b" stroke-width="1.8" />
<circle cx="544.4" cy="887.7" r="6.6" fill="rgba(250,200,205,0.35)" stroke="#ef7d8b" stroke-width="1.8" />
<circle cx="566.3" cy="943.0" r="6.6" fill="rgba(250,200,205,0.35)" stroke="#ef7d8b" stroke-width="1.8" />
<circle cx="549.0" cy="953.2" r="6.6" fill="rgba(250,200,205,0.35)" stroke="#ef7d8b" stroke-width="1.8" />
<circle cx="570.7" cy="973.5" r="6.6" fill="rgba(250,200,205,0.35)" stroke="#ef7d8b" stroke-width="1.8" />
<circle cx="582.2" cy="986.8" r="6.6" fill="rgba(250,200,205,0.35)" stroke="#ef7d8b" stroke-width="1.8" />
<circle cx="555.3" cy="982.7" r="6.6" fill="rgba(250,200,205,0.35)" stroke="#ef7d8b" stroke-width="1.8" />
<circle cx="547.2" cy="991.9" r="6.6" fill="rgba(250,200,205,0.35)" stroke="#ef7d8b" stroke-width="1.8" />
<circle cx="561.0" cy="995.3" r="6.6" fill="rgba(250,200,205,0.35)" stroke="#ef7d8b" stroke-width="1.8" />
<circle cx="576.0" cy="1000.0" r="6.6" fill="rgba(250,200,205,0.35)" stroke="#ef7d8b" stroke-width="1.8" />
<circle cx="542.6" cy="1000.0" r="6.6" fill="rgba(250,200,205,0.35)" stroke="#ef7d8b" stroke-width="1.8" />
<circle cx="565.6" cy="1003.4" r="6.6" fill="rgba(250,200,205,0.35)" stroke="#ef7d8b" stroke-width="1.8" />
<line x1="370.0" y1="995.0" x2="370.0" y2="970.0" stroke="#000" stroke-width="3" />
<line x1="362.0" y1="970.0" x2="378.0" y2="970.0" stroke="#000" stroke-width="3" />
<line x1="469.8" y1="996.0" x2="469.8" y2="970.0" stroke="#000" stroke-width="3" />
<line x1="461.8" y1="970.0" x2="477.8" y2="970.0" stroke="#000" stroke-width="3" />
<line x1="567.0" y1="1001.0" x2="567.0" y2="998.5" stroke="#000" stroke-width="3" />
<line x1="559.0" y1="998.5" x2="575.0" y2="998.5" stroke="#000" stroke-width="3" />
<line x1="271.5" y1="1004.0" x2="271.5" y2="1001.0" stroke="#000" stroke-width="3" />
<line x1="263.5" y1="1001.0" x2="279.5" y2="1001.0" stroke="#000" stroke-width="3" />
<line x1="221.2" y1="727.5" x2="221.2" y2="1010.5" stroke="#000" stroke-width="3" />
<line x1="211.2" y1="1009.0" x2="221.2" y2="1009.0" stroke="#000" stroke-width="3" />
<text x="186.4" y="1017.6" font-size="33" font-weight="normal" font-style="normal" text-anchor="end" fill="#000" >0.0</text>
<line x1="211.2" y1="939.0" x2="221.2" y2="939.0" stroke="#000" stroke-width="3" />
<text x="186.4" y="947.6" font-size="33" font-weight="normal" font-style="normal" text-anchor="end" fill="#000" >0.2</text>
<line x1="211.2" y1="869.0" x2="221.2" y2="869.0" stroke="#000" stroke-width="3" />
<text x="186.4" y="877.6" font-size="33" font-weight="normal" font-style="normal" text-anchor="end" fill="#000" >0.4</text>
<line x1="211.2" y1="799.0" x2="221.2" y2="799.0" stroke="#000" stroke-width="3" />
<text x="186.4" y="807.6" font-size="33" font-weight="normal" font-style="normal" text-anchor="end" fill="#000" >0.6</text>
<line x1="211.2" y1="729.0" x2="221.2" y2="729.0" stroke="#000" stroke-width="3" />
<text x="186.4" y="737.6" font-size="33" font-weight="normal" font-style="normal" text-anchor="end" fill="#000" >0.8</text>
<path d="M269.0,732.4 V722.5 H459.0 V732.4" fill="none" stroke="#000" stroke-width="2.6"/>
<text x="325.0" y="716.0" font-size="15.5" font-weight="normal" font-style="normal" text-anchor="start" fill="#000" textLength="77.6" lengthAdjust="spacingAndGlyphs" >p = 0.0076</text>
<path d="M271.0,762.2 V751.2 H362.4 V762.2" fill="none" stroke="#000" stroke-width="2.6"/>
<text x="278.0" y="743.6" font-size="15.5" font-weight="normal" font-style="normal" text-anchor="start" fill="#000" textLength="77.8" lengthAdjust="spacingAndGlyphs" >p = 0.0016</text>
<text transform="translate(95.5,868.5) rotate(-90)" font-size="31.5" text-anchor="middle" textLength="186" lengthAdjust="spacingAndGlyphs">Lactobacillus</text>
<text transform="translate(128.5,868.5) rotate(-90)" font-size="31.5" text-anchor="middle" textLength="275" lengthAdjust="spacingAndGlyphs">relative abundance</text>
<text transform="translate(274.3,1036.5) rotate(-45)" font-size="33" text-anchor="end">HC</text>
<text transform="translate(378.9,1036.5) rotate(-45)" font-size="33" text-anchor="end">Non-SF</text>
<text transform="translate(481.3,1038.3) rotate(-45)" font-size="33" text-anchor="end">SF-S</text>
<text transform="translate(579.8,1034.6) rotate(-45)" font-size="33" text-anchor="end">SF-D</text>
<line x1="814.1" y1="1017.2" x2="1288.3" y2="1017.2" stroke="#000" stroke-width="3" />
<rect x="852.5" y="1006.8" width="63.5" height="10.4" fill="#fff" stroke="#000" stroke-width="3"/>
<rect x="1198.8" y="987.3" width="65.8" height="29.9" fill="#fdf0f1" stroke="#000" stroke-width="3"/>
<circle cx="892.0" cy="996.6" r="6.6" fill="rgba(170,215,140,0.30)" stroke="#6aab3d" stroke-width="1.8" />
<circle cx="868.8" cy="1006.5" r="6.6" fill="rgba(170,215,140,0.30)" stroke="#6aab3d" stroke-width="1.8" />
<circle cx="908.9" cy="999.1" r="6.6" fill="rgba(170,215,140,0.30)" stroke="#6aab3d" stroke-width="1.8" />
<circle cx="902.7" cy="1006.0" r="6.6" fill="rgba(170,215,140,0.30)" stroke="#6aab3d" stroke-width="1.8" />
<circle cx="885.9" cy="1017.0" r="6.6" fill="rgba(170,215,140,0.30)" stroke="#6aab3d" stroke-width="1.8" />
<circle cx="884.2" cy="1012.4" r="6.6" fill="rgba(170,215,140,0.30)" stroke="#6aab3d" stroke-width="1.8" />
<circle cx="903.0" cy="1000.9" r="6.6" fill="rgba(170,215,140,0.30)" stroke="#6aab3d" stroke-width="1.8" />
<circle cx="903.7" cy="1003.4" r="6.6" fill="rgba(170,215,140,0.30)" stroke="#6aab3d" stroke-width="1.8" />
<circle cx="865.2" cy="1008.9" r="6.6" fill="rgba(170,215,140,0.30)" stroke="#6aab3d" stroke-width="1.8" />
<circle cx="895.7" cy="1005.0" r="6.6" fill="rgba(170,215,140,0.30)" stroke="#6aab3d" stroke-width="1.8" />
<circle cx="860.4" cy="998.2" r="6.6" fill="rgba(170,215,140,0.30)" stroke="#6aab3d" stroke-width="1.8" />
<circle cx="871.7" cy="1011.0" r="6.6" fill="rgba(170,215,140,0.30)" stroke="#6aab3d" stroke-width="1.8" />
<circle cx="903.3" cy="1004.8" r="6.6" fill="rgba(170,215,140,0.30)" stroke="#6aab3d" stroke-width="1.8" />
<circle cx="860.9" cy="1010.4" r="6.6" fill="rgba(170,215,140,0.30)" stroke="#6aab3d" stroke-width="1.8" />
<circle cx="903.7" cy="992.9" r="6.6" fill="rgba(170,215,140,0.30)" stroke="#6aab3d" stroke-width="1.8" />
<circle cx="860.5" cy="996.4" r="6.6" fill="rgba(170,215,140,0.30)" stroke="#6aab3d" stroke-width="1.8" />
<circle cx="867.7" cy="1010.7" r="6.6" fill="rgba(170,215,140,0.30)" stroke="#6aab3d" stroke-width="1.8" />
<circle cx="865.0" cy="992.4" r="6.6" fill="rgba(170,215,140,0.30)" stroke="#6aab3d" stroke-width="1.8" />
<circle cx="870.0" cy="1014.4" r="6.6" fill="rgba(170,215,140,0.30)" stroke="#6aab3d" stroke-width="1.8" />
<circle cx="868.8" cy="995.9" r="6.6" fill="rgba(170,215,140,0.30)" stroke="#6aab3d" stroke-width="1.8" />
<circle cx="989.3" cy="955.6" r="6.6" fill="rgba(252,225,150,0.30)" stroke="#f8b92b" stroke-width="1.8" />
<circle cx="982.7" cy="967.9" r="6.6" fill="rgba(252,225,150,0.30)" stroke="#f8b92b" stroke-width="1.8" />
<circle cx="1020.5" cy="981.2" r="6.6" fill="rgba(252,225,150,0.30)" stroke="#f8b92b" stroke-width="1.8" />
<circle cx="985.6" cy="955.1" r="6.6" fill="rgba(252,225,150,0.30)" stroke="#f8b92b" stroke-width="1.8" />
<circle cx="975.2" cy="979.1" r="6.6" fill="rgba(252,225,150,0.30)" stroke="#f8b92b" stroke-width="1.8" />
<circle cx="993.5" cy="984.8" r="6.6" fill="rgba(252,225,150,0.30)" stroke="#f8b92b" stroke-width="1.8" />
<circle cx="1004.1" cy="972.7" r="6.6" fill="rgba(252,225,150,0.30)" stroke="#f8b92b" stroke-width="1.8" />
<circle cx="980.9" cy="979.1" r="6.6" fill="rgba(252,225,150,0.30)" stroke="#f8b92b" stroke-width="1.8" />
<circle cx="991.5" cy="971.4" r="6.6" fill="rgba(252,225,150,0.30)" stroke="#f8b92b" stroke-width="1.8" />
<circle cx="1026.5" cy="979.2" r="6.6" fill="rgba(252,225,150,0.30)" stroke="#f8b92b" stroke-width="1.8" />
<circle cx="972.8" cy="970.3" r="6.6" fill="rgba(252,225,150,0.30)" stroke="#f8b92b" stroke-width="1.8" />
<circle cx="1026.3" cy="956.6" r="6.6" fill="rgba(252,225,150,0.30)" stroke="#f8b92b" stroke-width="1.8" />
<circle cx="1026.9" cy="977.6" r="6.6" fill="rgba(252,225,150,0.30)" stroke="#f8b92b" stroke-width="1.8" />
<circle cx="1023.4" cy="988.1" r="6.6" fill="rgba(252,225,150,0.30)" stroke="#f8b92b" stroke-width="1.8" />
<circle cx="1020.4" cy="985.8" r="6.6" fill="rgba(252,225,150,0.30)" stroke="#f8b92b" stroke-width="1.8" />
<circle cx="1025.7" cy="966.9" r="6.6" fill="rgba(252,225,150,0.30)" stroke="#f8b92b" stroke-width="1.8" />
<circle cx="1008.6" cy="980.8" r="6.6" fill="rgba(252,225,150,0.30)" stroke="#f8b92b" stroke-width="1.8" />
<circle cx="979.2" cy="957.2" r="6.6" fill="rgba(252,225,150,0.30)" stroke="#f8b92b" stroke-width="1.8" />
<circle cx="1003.2" cy="985.2" r="6.6" fill="rgba(252,225,150,0.30)" stroke="#f8b92b" stroke-width="1.8" />
<circle cx="975.1" cy="987.1" r="6.6" fill="rgba(252,225,150,0.30)" stroke="#f8b92b" stroke-width="1.8" />
<circle cx="991.4" cy="991.4" r="6.6" fill="rgba(252,225,150,0.30)" stroke="#f8b92b" stroke-width="1.8" />
<circle cx="998.1" cy="968.0" r="6.6" fill="rgba(252,225,150,0.30)" stroke="#f8b92b" stroke-width="1.8" />
<circle cx="973.5" cy="969.6" r="6.6" fill="rgba(252,225,150,0.30)" stroke="#f8b92b" stroke-width="1.8" />
<circle cx="1003.7" cy="988.3" r="6.6" fill="rgba(252,225,150,0.30)" stroke="#f8b92b" stroke-width="1.8" />
<rect x="962.5" y="987.0" width="75.5" height="38.4" rx="6" fill="#fbb92b"/>
<circle cx="971.6" cy="992.1" r="6.6" fill="#fbb92b" stroke="none" stroke-width="0" />
<circle cx="979.0" cy="990.5" r="6.6" fill="#fbb92b" stroke="none" stroke-width="0" />
<circle cx="990.4" cy="990.9" r="6.6" fill="#fbb92b" stroke="none" stroke-width="0" />
<circle cx="994.4" cy="991.6" r="6.6" fill="#fbb92b" stroke="none" stroke-width="0" />
<circle cx="1004.9" cy="990.1" r="6.6" fill="#fbb92b" stroke="none" stroke-width="0" />
<circle cx="1010.8" cy="990.9" r="6.6" fill="#fbb92b" stroke="none" stroke-width="0" />
<circle cx="1017.9" cy="990.7" r="6.6" fill="#fbb92b" stroke="none" stroke-width="0" />
<circle cx="1028.5" cy="990.9" r="6.6" fill="#fbb92b" stroke="none" stroke-width="0" />
<circle cx="990.3" cy="927.2" r="6.6" fill="rgba(252,225,150,0.30)" stroke="#f8b92b" stroke-width="1.8" />
<circle cx="993.0" cy="935.7" r="6.6" fill="rgba(252,225,150,0.30)" stroke="#f8b92b" stroke-width="1.8" />
<circle cx="985.0" cy="949.7" r="6.6" fill="rgba(252,225,150,0.30)" stroke="#f8b92b" stroke-width="1.8" />
<circle cx="999.6" cy="956.3" r="6.6" fill="rgba(252,225,150,0.30)" stroke="#f8b92b" stroke-width="1.8" />
<circle cx="1014.2" cy="951.0" r="6.6" fill="rgba(252,225,150,0.30)" stroke="#f8b92b" stroke-width="1.8" />
<circle cx="1018.1" cy="964.3" r="6.6" fill="rgba(252,225,150,0.30)" stroke="#f8b92b" stroke-width="1.8" />
<circle cx="1026.1" cy="962.2" r="6.6" fill="rgba(252,225,150,0.30)" stroke="#f8b92b" stroke-width="1.8" />
<circle cx="989.0" cy="961.6" r="6.6" fill="rgba(252,225,150,0.30)" stroke="#f8b92b" stroke-width="1.8" />
<circle cx="986.3" cy="969.6" r="6.6" fill="rgba(252,225,150,0.30)" stroke="#f8b92b" stroke-width="1.8" />
<circle cx="1004.9" cy="973.6" r="6.6" fill="rgba(252,225,150,0.30)" stroke="#f8b92b" stroke-width="1.8" />
<circle cx="1015.5" cy="972.2" r="6.6" fill="rgba(252,225,150,0.30)" stroke="#f8b92b" stroke-width="1.8" />
<circle cx="994.3" cy="982.8" r="6.6" fill="rgba(252,225,150,0.30)" stroke="#f8b92b" stroke-width="1.8" />
<circle cx="1100.9" cy="960.7" r="6.6" fill="rgba(185,210,240,0.35)" stroke="#6a9fd8" stroke-width="1.8" />
<circle cx="1114.2" cy="964.1" r="6.6" fill="rgba(185,210,240,0.35)" stroke="#6a9fd8" stroke-width="1.8" />
<circle cx="1091.9" cy="966.0" r="6.6" fill="rgba(185,210,240,0.35)" stroke="#6a9fd8" stroke-width="1.8" />
<circle cx="1122.5" cy="970.9" r="6.6" fill="rgba(185,210,240,0.35)" stroke="#6a9fd8" stroke-width="1.8" />
<circle cx="1118.8" cy="979.4" r="6.6" fill="rgba(185,210,240,0.35)" stroke="#6a9fd8" stroke-width="1.8" />
<circle cx="1111.2" cy="993.0" r="6.6" fill="rgba(185,210,240,0.35)" stroke="#6a9fd8" stroke-width="1.8" />
<circle cx="1124.0" cy="956.5" r="6.6" fill="rgba(185,210,240,0.35)" stroke="#6a9fd8" stroke-width="1.8" />
<circle cx="1136.6" cy="969.1" r="6.6" fill="rgba(185,210,240,0.35)" stroke="#6a9fd8" stroke-width="1.8" />
<circle cx="1116.3" cy="963.3" r="6.6" fill="rgba(185,210,240,0.35)" stroke="#6a9fd8" stroke-width="1.8" />
<circle cx="1136.7" cy="973.7" r="6.6" fill="rgba(185,210,240,0.35)" stroke="#6a9fd8" stroke-width="1.8" />
<circle cx="1115.1" cy="967.2" r="6.6" fill="rgba(185,210,240,0.35)" stroke="#6a9fd8" stroke-width="1.8" />
<circle cx="1096.4" cy="973.8" r="6.6" fill="rgba(185,210,240,0.35)" stroke="#6a9fd8" stroke-width="1.8" />
<circle cx="1121.5" cy="981.5" r="6.6" fill="rgba(185,210,240,0.35)" stroke="#6a9fd8" stroke-width="1.8" />
<circle cx="1131.2" cy="968.1" r="6.6" fill="rgba(185,210,240,0.35)" stroke="#6a9fd8" stroke-width="1.8" />
<circle cx="1109.3" cy="971.0" r="6.6" fill="rgba(185,210,240,0.35)" stroke="#6a9fd8" stroke-width="1.8" />
<circle cx="1101.9" cy="967.5" r="6.6" fill="rgba(185,210,240,0.35)" stroke="#6a9fd8" stroke-width="1.8" />
<circle cx="1123.4" cy="956.0" r="6.6" fill="rgba(185,210,240,0.35)" stroke="#6a9fd8" stroke-width="1.8" />
<circle cx="1115.3" cy="976.6" r="6.6" fill="rgba(185,210,240,0.35)" stroke="#6a9fd8" stroke-width="1.8" />
<circle cx="1141.1" cy="959.2" r="6.6" fill="rgba(185,210,240,0.35)" stroke="#6a9fd8" stroke-width="1.8" />
<circle cx="1136.9" cy="963.1" r="6.6" fill="rgba(185,210,240,0.35)" stroke="#6a9fd8" stroke-width="1.8" />
<circle cx="1108.4" cy="960.1" r="6.6" fill="rgba(185,210,240,0.35)" stroke="#6a9fd8" stroke-width="1.8" />
<circle cx="1113.8" cy="972.1" r="6.6" fill="rgba(185,210,240,0.35)" stroke="#6a9fd8" stroke-width="1.8" />
<circle cx="1120.9" cy="989.9" r="6.6" fill="rgba(185,210,240,0.35)" stroke="#6a9fd8" stroke-width="1.8" />
<circle cx="1131.9" cy="967.6" r="6.6" fill="rgba(185,210,240,0.35)" stroke="#6a9fd8" stroke-width="1.8" />
<circle cx="1142.5" cy="975.0" r="6.6" fill="rgba(185,210,240,0.35)" stroke="#6a9fd8" stroke-width="1.8" />
<circle cx="1120.2" cy="962.0" r="6.6" fill="rgba(185,210,240,0.35)" stroke="#6a9fd8" stroke-width="1.8" />
<circle cx="1140.1" cy="979.7" r="6.6" fill="rgba(185,210,240,0.35)" stroke="#6a9fd8" stroke-width="1.8" />
<circle cx="1123.3" cy="963.6" r="6.6" fill="rgba(185,210,240,0.35)" stroke="#6a9fd8" stroke-width="1.8" />
<circle cx="1098.9" cy="981.3" r="6.6" fill="rgba(185,210,240,0.35)" stroke="#6a9fd8" stroke-width="1.8" />
<circle cx="1139.2" cy="981.2" r="6.6" fill="rgba(185,210,240,0.35)" stroke="#6a9fd8" stroke-width="1.8" />
<circle cx="1127.1" cy="971.2" r="6.6" fill="rgba(185,210,240,0.35)" stroke="#6a9fd8" stroke-width="1.8" />
<circle cx="1133.3" cy="963.3" r="6.6" fill="rgba(185,210,240,0.35)" stroke="#6a9fd8" stroke-width="1.8" />
<circle cx="1099.1" cy="977.1" r="6.6" fill="rgba(185,210,240,0.35)" stroke="#6a9fd8" stroke-width="1.8" />
<circle cx="1095.7" cy="955.9" r="6.6" fill="rgba(185,210,240,0.35)" stroke="#6a9fd8" stroke-width="1.8" />
<circle cx="1110.0" cy="955.0" r="6.6" fill="rgba(185,210,240,0.35)" stroke="#6a9fd8" stroke-width="1.8" />
<circle cx="1104.7" cy="992.8" r="6.6" fill="rgba(185,210,240,0.35)" stroke="#6a9fd8" stroke-width="1.8" />
<circle cx="1110.5" cy="961.2" r="6.6" fill="rgba(185,210,240,0.35)" stroke="#6a9fd8" stroke-width="1.8" />
<circle cx="1092.1" cy="984.1" r="6.6" fill="rgba(185,210,240,0.35)" stroke="#6a9fd8" stroke-width="1.8" />
<circle cx="1119.8" cy="990.1" r="6.6" fill="rgba(185,210,240,0.35)" stroke="#6a9fd8" stroke-width="1.8" />
<circle cx="1125.8" cy="974.0" r="6.6" fill="rgba(185,210,240,0.35)" stroke="#6a9fd8" stroke-width="1.8" />
<circle cx="1103.7" cy="984.9" r="6.6" fill="rgba(185,210,240,0.35)" stroke="#6a9fd8" stroke-width="1.8" />
<circle cx="1106.0" cy="967.5" r="6.6" fill="rgba(185,210,240,0.35)" stroke="#6a9fd8" stroke-width="1.8" />
<circle cx="1102.4" cy="963.3" r="6.6" fill="rgba(185,210,240,0.35)" stroke="#6a9fd8" stroke-width="1.8" />
<circle cx="1125.0" cy="961.6" r="6.6" fill="rgba(185,210,240,0.35)" stroke="#6a9fd8" stroke-width="1.8" />
<circle cx="1127.2" cy="972.3" r="6.6" fill="rgba(185,210,240,0.35)" stroke="#6a9fd8" stroke-width="1.8" />
<circle cx="1139.3" cy="974.8" r="6.6" fill="rgba(185,210,240,0.35)" stroke="#6a9fd8" stroke-width="1.8" />
<circle cx="1103.8" cy="961.9" r="6.6" fill="rgba(185,210,240,0.35)" stroke="#6a9fd8" stroke-width="1.8" />
<circle cx="1122.9" cy="958.9" r="6.6" fill="rgba(185,210,240,0.35)" stroke="#6a9fd8" stroke-width="1.8" />
<circle cx="1127.6" cy="958.5" r="6.6" fill="rgba(185,210,240,0.35)" stroke="#6a9fd8" stroke-width="1.8" />
<circle cx="1118.2" cy="957.2" r="6.6" fill="rgba(185,210,240,0.35)" stroke="#6a9fd8" stroke-width="1.8" />
<rect x="1077.7" y="989.6" width="76.1" height="37.1" rx="6" fill="#6a9fd6"/>
<circle cx="1087.6" cy="992.9" r="6.6" fill="#6a9fd6" stroke="none" stroke-width="0" />
<circle cx="1097.8" cy="993.4" r="6.6" fill="#6a9fd6" stroke="none" stroke-width="0" />
<circle cx="1104.8" cy="993.2" r="6.6" fill="#6a9fd6" stroke="none" stroke-width="0" />
<circle cx="1111.1" cy="994.2" r="6.6" fill="#6a9fd6" stroke="none" stroke-width="0" />
<circle cx="1120.2" cy="994.3" r="6.6" fill="#6a9fd6" stroke="none" stroke-width="0" />
<circle cx="1127.3" cy="992.8" r="6.6" fill="#6a9fd6" stroke="none" stroke-width="0" />
<circle cx="1134.9" cy="993.6" r="6.6" fill="#6a9fd6" stroke="none" stroke-width="0" />
<circle cx="1145.1" cy="993.2" r="6.6" fill="#6a9fd6" stroke="none" stroke-width="0" />
<circle cx="1132.1" cy="857.0" r="6.6" fill="rgba(185,210,240,0.35)" stroke="#6a9fd8" stroke-width="1.8" />
<circle cx="1140.5" cy="857.0" r="6.6" fill="rgba(185,210,240,0.35)" stroke="#6a9fd8" stroke-width="1.8" />
<circle cx="1107.7" cy="862.3" r="6.6" fill="rgba(185,210,240,0.35)" stroke="#6a9fd8" stroke-width="1.8" />
<circle cx="1131.3" cy="876.8" r="6.6" fill="rgba(185,210,240,0.35)" stroke="#6a9fd8" stroke-width="1.8" />
<circle cx="1144.8" cy="911.3" r="6.6" fill="rgba(185,210,240,0.35)" stroke="#6a9fd8" stroke-width="1.8" />
<circle cx="1102.1" cy="921.4" r="6.6" fill="rgba(185,210,240,0.35)" stroke="#6a9fd8" stroke-width="1.8" />
<circle cx="1132.1" cy="926.7" r="6.6" fill="rgba(185,210,240,0.35)" stroke="#6a9fd8" stroke-width="1.8" />
<circle cx="1088.3" cy="932.5" r="6.6" fill="rgba(185,210,240,0.35)" stroke="#6a9fd8" stroke-width="1.8" />
<circle cx="1093.6" cy="929.8" r="6.6" fill="rgba(185,210,240,0.35)" stroke="#6a9fd8" stroke-width="1.8" />
<circle cx="1096.3" cy="937.8" r="6.6" fill="rgba(185,210,240,0.35)" stroke="#6a9fd8" stroke-width="1.8" />
<circle cx="1092.3" cy="944.4" r="6.6" fill="rgba(185,210,240,0.35)" stroke="#6a9fd8" stroke-width="1.8" />
<circle cx="1089.7" cy="948.4" r="6.6" fill="rgba(185,210,240,0.35)" stroke="#6a9fd8" stroke-width="1.8" />
<circle cx="1140.0" cy="941.0" r="6.6" fill="rgba(185,210,240,0.35)" stroke="#6a9fd8" stroke-width="1.8" />
<circle cx="1114.8" cy="959.0" r="6.6" fill="rgba(185,210,240,0.35)" stroke="#6a9fd8" stroke-width="1.8" />
<circle cx="1134.7" cy="959.0" r="6.6" fill="rgba(185,210,240,0.35)" stroke="#6a9fd8" stroke-width="1.8" />
<circle cx="1144.0" cy="966.9" r="6.6" fill="rgba(185,210,240,0.35)" stroke="#6a9fd8" stroke-width="1.8" />
<circle cx="1084.4" cy="969.6" r="6.6" fill="rgba(185,210,240,0.35)" stroke="#6a9fd8" stroke-width="1.8" />
<circle cx="1095.0" cy="972.2" r="6.6" fill="rgba(185,210,240,0.35)" stroke="#6a9fd8" stroke-width="1.8" />
<circle cx="1108.2" cy="966.9" r="6.6" fill="rgba(185,210,240,0.35)" stroke="#6a9fd8" stroke-width="1.8" />
<circle cx="1120.1" cy="964.3" r="6.6" fill="rgba(185,210,240,0.35)" stroke="#6a9fd8" stroke-width="1.8" />
<circle cx="1129.4" cy="963.0" r="6.6" fill="rgba(185,210,240,0.35)" stroke="#6a9fd8" stroke-width="1.8" />
<circle cx="1148.0" cy="982.8" r="6.6" fill="rgba(185,210,240,0.35)" stroke="#6a9fd8" stroke-width="1.8" />
<circle cx="1121.5" cy="969.6" r="6.6" fill="rgba(185,210,240,0.35)" stroke="#6a9fd8" stroke-width="1.8" />
<circle cx="1114.7" cy="795.5" r="6.6" fill="rgba(185,210,240,0.35)" stroke="#6a9fd8" stroke-width="1.8" />
<rect x="1197.0" y="991.5" width="68.0" height="28.5" rx="6" fill="#f58d98"/>
<circle cx="1214.9" cy="1006.5" r="6.6" fill="rgba(250,200,205,0.35)" stroke="#ef7d8b" stroke-width="1.8" />
<circle cx="1224.4" cy="1001.3" r="6.6" fill="rgba(250,200,205,0.35)" stroke="#ef7d8b" stroke-width="1.8" />
<circle cx="1256.0" cy="1002.1" r="6.6" fill="rgba(250,200,205,0.35)" stroke="#ef7d8b" stroke-width="1.8" />
<circle cx="1216.4" cy="999.2" r="6.6" fill="rgba(250,200,205,0.35)" stroke="#ef7d8b" stroke-width="1.8" />
<circle cx="1240.4" cy="996.8" r="6.6" fill="rgba(250,200,205,0.35)" stroke="#ef7d8b" stroke-width="1.8" />
<circle cx="1206.9" cy="1015.6" r="6.6" fill="rgba(250,200,205,0.35)" stroke="#ef7d8b" stroke-width="1.8" />
<circle cx="1236.1" cy="1013.8" r="6.6" fill="rgba(250,200,205,0.35)" stroke="#ef7d8b" stroke-width="1.8" />
<circle cx="1204.7" cy="1007.9" r="6.6" fill="rgba(250,200,205,0.35)" stroke="#ef7d8b" stroke-width="1.8" />
<circle cx="1208.1" cy="996.3" r="6.6" fill="rgba(250,200,205,0.35)" stroke="#ef7d8b" stroke-width="1.8" />
<circle cx="1231.3" cy="999.0" r="6.6" fill="rgba(250,200,205,0.35)" stroke="#ef7d8b" stroke-width="1.8" />
<circle cx="1248.2" cy="1000.0" r="6.6" fill="rgba(250,200,205,0.35)" stroke="#ef7d8b" stroke-width="1.8" />
<circle cx="1224.9" cy="1002.6" r="6.6" fill="rgba(250,200,205,0.35)" stroke="#ef7d8b" stroke-width="1.8" />
<circle cx="1215.5" cy="1007.0" r="6.6" fill="rgba(250,200,205,0.35)" stroke="#ef7d8b" stroke-width="1.8" />
<circle cx="1205.7" cy="1013.4" r="6.6" fill="rgba(250,200,205,0.35)" stroke="#ef7d8b" stroke-width="1.8" />
<circle cx="1253.2" cy="1010.9" r="6.6" fill="rgba(250,200,205,0.35)" stroke="#ef7d8b" stroke-width="1.8" />
<circle cx="1207.9" cy="1002.0" r="6.6" fill="rgba(250,200,205,0.35)" stroke="#ef7d8b" stroke-width="1.8" />
<circle cx="1228.1" cy="1011.4" r="6.6" fill="rgba(250,200,205,0.35)" stroke="#ef7d8b" stroke-width="1.8" />
<circle cx="1232.0" cy="1006.9" r="6.6" fill="rgba(250,200,205,0.35)" stroke="#ef7d8b" stroke-width="1.8" />
<circle cx="1215.1" cy="999.1" r="6.6" fill="rgba(250,200,205,0.35)" stroke="#ef7d8b" stroke-width="1.8" />
<circle cx="1239.5" cy="1004.0" r="6.6" fill="rgba(250,200,205,0.35)" stroke="#ef7d8b" stroke-width="1.8" />
<circle cx="1212.7" cy="1019.6" r="6.6" fill="rgba(250,200,205,0.35)" stroke="#ef7d8b" stroke-width="1.8" />
<circle cx="1237.8" cy="1017.0" r="6.6" fill="rgba(250,200,205,0.35)" stroke="#ef7d8b" stroke-width="1.8" />
<circle cx="1252.1" cy="998.5" r="6.6" fill="rgba(250,200,205,0.35)" stroke="#ef7d8b" stroke-width="1.8" />
<circle cx="1234.1" cy="999.0" r="6.6" fill="rgba(250,200,205,0.35)" stroke="#ef7d8b" stroke-width="1.8" />
<circle cx="1240.3" cy="1004.5" r="6.6" fill="rgba(250,200,205,0.35)" stroke="#ef7d8b" stroke-width="1.8" />
<circle cx="1230.7" cy="1012.5" r="6.6" fill="rgba(250,200,205,0.35)" stroke="#ef7d8b" stroke-width="1.8" />
<circle cx="1222.4" cy="1016.6" r="6.6" fill="rgba(250,200,205,0.35)" stroke="#ef7d8b" stroke-width="1.8" />
<circle cx="1256.2" cy="1010.9" r="6.6" fill="rgba(250,200,205,0.35)" stroke="#ef7d8b" stroke-width="1.8" />
<circle cx="1230.9" cy="1014.8" r="6.6" fill="rgba(250,200,205,0.35)" stroke="#ef7d8b" stroke-width="1.8" />
<circle cx="1207.8" cy="1018.5" r="6.6" fill="rgba(250,200,205,0.35)" stroke="#ef7d8b" stroke-width="1.8" />
<circle cx="1227.5" cy="809.3" r="6.6" fill="rgba(250,200,205,0.35)" stroke="#ef7d8b" stroke-width="1.8" />
<circle cx="1227.5" cy="814.6" r="6.6" fill="rgba(250,200,205,0.35)" stroke="#ef7d8b" stroke-width="1.8" />
<circle cx="1234.9" cy="913.4" r="6.6" fill="rgba(250,200,205,0.35)" stroke="#ef7d8b" stroke-width="1.8" />
<circle cx="1257.9" cy="972.2" r="6.6" fill="rgba(250,200,205,0.35)" stroke="#ef7d8b" stroke-width="1.8" />
<circle cx="1234.1" cy="990.8" r="6.6" fill="rgba(250,200,205,0.35)" stroke="#ef7d8b" stroke-width="1.8" />
<circle cx="1201.0" cy="996.1" r="6.6" fill="rgba(250,200,205,0.35)" stroke="#ef7d8b" stroke-width="1.8" />
<circle cx="1216.9" cy="997.4" r="6.6" fill="rgba(250,200,205,0.35)" stroke="#ef7d8b" stroke-width="1.8" />
<circle cx="1248.7" cy="994.8" r="6.6" fill="rgba(250,200,205,0.35)" stroke="#ef7d8b" stroke-width="1.8" />
<circle cx="1259.3" cy="1001.4" r="6.6" fill="rgba(250,200,205,0.35)" stroke="#ef7d8b" stroke-width="1.8" />
<line x1="884.5" y1="1006.8" x2="884.5" y2="1003.0" stroke="#000" stroke-width="3" />
<line x1="876.5" y1="1003.0" x2="892.5" y2="1003.0" stroke="#000" stroke-width="3" />
<line x1="1000.0" y1="990.0" x2="1000.0" y2="985.0" stroke="#000" stroke-width="3" />
<line x1="992.0" y1="985.0" x2="1008.0" y2="985.0" stroke="#000" stroke-width="3" />
<line x1="1115.8" y1="988.0" x2="1115.8" y2="968.0" stroke="#000" stroke-width="3" />
<line x1="1107.8" y1="968.0" x2="1123.8" y2="968.0" stroke="#000" stroke-width="3" />
<line x1="1231.5" y1="987.3" x2="1231.5" y2="933.0" stroke="#000" stroke-width="3" />
<line x1="1223.5" y1="933.0" x2="1239.5" y2="933.0" stroke="#000" stroke-width="3" />
<line x1="824.1" y1="696.5" x2="824.1" y2="1018.7" stroke="#000" stroke-width="3" />
<line x1="814.1" y1="1017.2" x2="824.1" y2="1017.2" stroke="#000" stroke-width="3" />
<text x="789.3" y="1025.8" font-size="33" font-weight="normal" font-style="normal" text-anchor="end" fill="#000" >0.0</text>
<line x1="814.1" y1="953.4" x2="824.1" y2="953.4" stroke="#000" stroke-width="3" />
<text x="789.3" y="962.0" font-size="33" font-weight="normal" font-style="normal" text-anchor="end" fill="#000" >0.1</text>
<line x1="814.1" y1="889.5" x2="824.1" y2="889.5" stroke="#000" stroke-width="3" />
<text x="789.3" y="898.1" font-size="33" font-weight="normal" font-style="normal" text-anchor="end" fill="#000" >0.2</text>
<line x1="814.1" y1="825.7" x2="824.1" y2="825.7" stroke="#000" stroke-width="3" />
<text x="789.3" y="834.3" font-size="33" font-weight="normal" font-style="normal" text-anchor="end" fill="#000" >0.3</text>
<line x1="814.1" y1="761.8" x2="824.1" y2="761.8" stroke="#000" stroke-width="3" />
<text x="789.3" y="770.4" font-size="33" font-weight="normal" font-style="normal" text-anchor="end" fill="#000" >0.4</text>
<line x1="814.1" y1="698.0" x2="824.1" y2="698.0" stroke="#000" stroke-width="3" />
<text x="789.3" y="706.6" font-size="33" font-weight="normal" font-style="normal" text-anchor="end" fill="#000" >0.5</text>
<path d="M879.0,715.6 V705.8 H1113.0 V715.6" fill="none" stroke="#000" stroke-width="2.6"/>
<text x="953.0" y="699.7" font-size="15.5" font-weight="normal" font-style="normal" text-anchor="start" fill="#000" textLength="77.5" lengthAdjust="spacingAndGlyphs" >p = 0.0001</text>
<path d="M992.5,749.7 V738.7 H1108.9 V749.7" fill="none" stroke="#000" stroke-width="2.6"/>
<text x="1011.0" y="733.0" font-size="15.5" font-weight="normal" font-style="normal" text-anchor="start" fill="#000" textLength="78.0" lengthAdjust="spacingAndGlyphs" >p = 0.0028</text>
<text transform="translate(689.5,862.5) rotate(-90)" font-size="31.5" text-anchor="middle" textLength="218" lengthAdjust="spacingAndGlyphs">Parabacteroids</text>
<text transform="translate(721.5,857.5) rotate(-90)" font-size="31.5" text-anchor="middle" textLength="275" lengthAdjust="spacingAndGlyphs">relative abundance</text>
<text transform="translate(889.5,1062.5) rotate(-45)" font-size="33" text-anchor="end">HC</text>
<text transform="translate(1009.0,1062.5) rotate(-45)" font-size="33" text-anchor="end">Non-SF</text>
<text transform="translate(1126.8,1062.5) rotate(-45)" font-size="33" text-anchor="end">SF-S</text>
<text transform="translate(1244.5,1062.0) rotate(-45)" font-size="33" text-anchor="end">SF-D</text>
<line x1="1513.7" y1="1002.3" x2="1985.9" y2="1002.3" stroke="#000" stroke-width="3" />
<rect x="1893.8" y="986.7" width="70.5" height="15.6" fill="#fdf0f1" stroke="#000" stroke-width="3"/>
<circle cx="1614.0" cy="1003.0" r="6.6" fill="rgba(170,215,140,0.30)" stroke="#6aab3d" stroke-width="1.8" />
<circle cx="1615.6" cy="1002.7" r="6.6" fill="rgba(170,215,140,0.30)" stroke="#6aab3d" stroke-width="1.8" />
<circle cx="1568.6" cy="1001.6" r="6.6" fill="rgba(170,215,140,0.30)" stroke="#6aab3d" stroke-width="1.8" />
<circle cx="1577.5" cy="1002.2" r="6.6" fill="rgba(170,215,140,0.30)" stroke="#6aab3d" stroke-width="1.8" />
<circle cx="1602.5" cy="1002.4" r="6.6" fill="rgba(170,215,140,0.30)" stroke="#6aab3d" stroke-width="1.8" />
<circle cx="1568.4" cy="1001.8" r="6.6" fill="rgba(170,215,140,0.30)" stroke="#6aab3d" stroke-width="1.8" />
<circle cx="1595.9" cy="1002.2" r="6.6" fill="rgba(170,215,140,0.30)" stroke="#6aab3d" stroke-width="1.8" />
<circle cx="1559.8" cy="1002.1" r="6.6" fill="rgba(170,215,140,0.30)" stroke="#6aab3d" stroke-width="1.8" />
<circle cx="1583.5" cy="1002.4" r="6.6" fill="rgba(170,215,140,0.30)" stroke="#6aab3d" stroke-width="1.8" />
<circle cx="1604.6" cy="1001.6" r="6.6" fill="rgba(170,215,140,0.30)" stroke="#6aab3d" stroke-width="1.8" />
<circle cx="1569.9" cy="1002.0" r="6.6" fill="rgba(170,215,140,0.30)" stroke="#6aab3d" stroke-width="1.8" />
<circle cx="1566.7" cy="1001.6" r="6.6" fill="rgba(170,215,140,0.30)" stroke="#6aab3d" stroke-width="1.8" />
<circle cx="1562.0" cy="1002.5" r="6.6" fill="rgba(170,215,140,0.30)" stroke="#6aab3d" stroke-width="1.8" />
<circle cx="1602.9" cy="1002.1" r="6.6" fill="rgba(170,215,140,0.30)" stroke="#6aab3d" stroke-width="1.8" />
<circle cx="1604.9" cy="1001.9" r="6.6" fill="rgba(170,215,140,0.30)" stroke="#6aab3d" stroke-width="1.8" />
<circle cx="1593.8" cy="1001.9" r="6.6" fill="rgba(170,215,140,0.30)" stroke="#6aab3d" stroke-width="1.8" />
<circle cx="1613.3" cy="1002.6" r="6.6" fill="rgba(170,215,140,0.30)" stroke="#6aab3d" stroke-width="1.8" />
<circle cx="1598.9" cy="1001.5" r="6.6" fill="rgba(170,215,140,0.30)" stroke="#6aab3d" stroke-width="1.8" />
<circle cx="1721.0" cy="975.1" r="6.6" fill="rgba(252,225,150,0.30)" stroke="#f8b92b" stroke-width="1.8" />
<circle cx="1713.4" cy="977.1" r="6.6" fill="rgba(252,225,150,0.30)" stroke="#f8b92b" stroke-width="1.8" />
<circle cx="1709.5" cy="978.2" r="6.6" fill="rgba(252,225,150,0.30)" stroke="#f8b92b" stroke-width="1.8" />
<circle cx="1718.2" cy="989.8" r="6.6" fill="rgba(252,225,150,0.30)" stroke="#f8b92b" stroke-width="1.8" />
<circle cx="1706.6" cy="986.0" r="6.6" fill="rgba(252,225,150,0.30)" stroke="#f8b92b" stroke-width="1.8" />
<circle cx="1697.6" cy="976.7" r="6.6" fill="rgba(252,225,150,0.30)" stroke="#f8b92b" stroke-width="1.8" />
<circle cx="1701.2" cy="987.4" r="6.6" fill="rgba(252,225,150,0.30)" stroke="#f8b92b" stroke-width="1.8" />
<circle cx="1718.5" cy="977.1" r="6.6" fill="rgba(252,225,150,0.30)" stroke="#f8b92b" stroke-width="1.8" />
<circle cx="1722.5" cy="975.1" r="6.6" fill="rgba(252,225,150,0.30)" stroke="#f8b92b" stroke-width="1.8" />
<circle cx="1697.1" cy="978.3" r="6.6" fill="rgba(252,225,150,0.30)" stroke="#f8b92b" stroke-width="1.8" />
<circle cx="1724.0" cy="988.9" r="6.6" fill="rgba(252,225,150,0.30)" stroke="#f8b92b" stroke-width="1.8" />
<circle cx="1724.8" cy="991.3" r="6.6" fill="rgba(252,225,150,0.30)" stroke="#f8b92b" stroke-width="1.8" />
<circle cx="1682.2" cy="981.1" r="6.6" fill="rgba(252,225,150,0.30)" stroke="#f8b92b" stroke-width="1.8" />
<circle cx="1711.0" cy="989.2" r="6.6" fill="rgba(252,225,150,0.30)" stroke="#f8b92b" stroke-width="1.8" />
<circle cx="1693.9" cy="990.8" r="6.6" fill="rgba(252,225,150,0.30)" stroke="#f8b92b" stroke-width="1.8" />
<circle cx="1676.1" cy="990.2" r="6.6" fill="rgba(252,225,150,0.30)" stroke="#f8b92b" stroke-width="1.8" />
<circle cx="1707.2" cy="987.7" r="6.6" fill="rgba(252,225,150,0.30)" stroke="#f8b92b" stroke-width="1.8" />
<circle cx="1719.2" cy="991.5" r="6.6" fill="rgba(252,225,150,0.30)" stroke="#f8b92b" stroke-width="1.8" />
<circle cx="1683.5" cy="981.3" r="6.6" fill="rgba(252,225,150,0.30)" stroke="#f8b92b" stroke-width="1.8" />
<circle cx="1671.8" cy="979.9" r="6.6" fill="rgba(252,225,150,0.30)" stroke="#f8b92b" stroke-width="1.8" />
<circle cx="1698.2" cy="987.7" r="6.6" fill="rgba(252,225,150,0.30)" stroke="#f8b92b" stroke-width="1.8" />
<circle cx="1708.5" cy="977.5" r="6.6" fill="rgba(252,225,150,0.30)" stroke="#f8b92b" stroke-width="1.8" />
<circle cx="1725.5" cy="991.3" r="6.6" fill="rgba(252,225,150,0.30)" stroke="#f8b92b" stroke-width="1.8" />
<circle cx="1679.1" cy="989.4" r="6.6" fill="rgba(252,225,150,0.30)" stroke="#f8b92b" stroke-width="1.8" />
<circle cx="1672.2" cy="982.2" r="6.6" fill="rgba(252,225,150,0.30)" stroke="#f8b92b" stroke-width="1.8" />
<rect x="1662.7" y="984.7" width="74.5" height="26.6" rx="6" fill="#fbb92b"/>
<circle cx="1672.8" cy="989.3" r="6.6" fill="#fbb92b" stroke="none" stroke-width="0" />
<circle cx="1680.6" cy="988.9" r="6.6" fill="#fbb92b" stroke="none" stroke-width="0" />
<circle cx="1688.1" cy="989.0" r="6.6" fill="#fbb92b" stroke="none" stroke-width="0" />
<circle cx="1696.0" cy="988.2" r="6.6" fill="#fbb92b" stroke="none" stroke-width="0" />
<circle cx="1703.5" cy="988.5" r="6.6" fill="#fbb92b" stroke="none" stroke-width="0" />
<circle cx="1710.6" cy="988.8" r="6.6" fill="#fbb92b" stroke="none" stroke-width="0" />
<circle cx="1717.4" cy="988.7" r="6.6" fill="#fbb92b" stroke="none" stroke-width="0" />
<circle cx="1726.8" cy="989.4" r="6.6" fill="#fbb92b" stroke="none" stroke-width="0" />
<circle cx="1710.9" cy="741.1" r="6.6" fill="rgba(252,225,150,0.30)" stroke="#f8b92b" stroke-width="1.8" />
<circle cx="1722.7" cy="774.4" r="6.6" fill="rgba(252,225,150,0.30)" stroke="#f8b92b" stroke-width="1.8" />
<circle cx="1686.2" cy="800.6" r="6.6" fill="rgba(252,225,150,0.30)" stroke="#f8b92b" stroke-width="1.8" />
<circle cx="1683.5" cy="818.2" r="6.6" fill="rgba(252,225,150,0.30)" stroke="#f8b92b" stroke-width="1.8" />
<circle cx="1694.9" cy="913.0" r="6.6" fill="rgba(252,225,150,0.30)" stroke="#f8b92b" stroke-width="1.8" />
<circle cx="1710.5" cy="916.1" r="6.6" fill="rgba(252,225,150,0.30)" stroke="#f8b92b" stroke-width="1.8" />
<circle cx="1718.7" cy="933.0" r="6.6" fill="rgba(252,225,150,0.30)" stroke="#f8b92b" stroke-width="1.8" />
<circle cx="1716.8" cy="952.2" r="6.6" fill="rgba(252,225,150,0.30)" stroke="#f8b92b" stroke-width="1.8" />
<circle cx="1716.8" cy="969.0" r="6.6" fill="rgba(252,225,150,0.30)" stroke="#f8b92b" stroke-width="1.8" />
<circle cx="1688.2" cy="971.0" r="6.6" fill="rgba(252,225,150,0.30)" stroke="#f8b92b" stroke-width="1.8" />
<circle cx="1680.4" cy="977.6" r="6.6" fill="rgba(252,225,150,0.30)" stroke="#f8b92b" stroke-width="1.8" />
<circle cx="1711.7" cy="980.8" r="6.6" fill="rgba(252,225,150,0.30)" stroke="#f8b92b" stroke-width="1.8" />
<circle cx="1817.4" cy="984.3" r="6.6" fill="rgba(185,210,240,0.35)" stroke="#6a9fd8" stroke-width="1.8" />
<circle cx="1821.9" cy="981.3" r="6.6" fill="rgba(185,210,240,0.35)" stroke="#6a9fd8" stroke-width="1.8" />
<circle cx="1833.2" cy="985.4" r="6.6" fill="rgba(185,210,240,0.35)" stroke="#6a9fd8" stroke-width="1.8" />
<circle cx="1839.2" cy="987.3" r="6.6" fill="rgba(185,210,240,0.35)" stroke="#6a9fd8" stroke-width="1.8" />
<circle cx="1800.2" cy="983.9" r="6.6" fill="rgba(185,210,240,0.35)" stroke="#6a9fd8" stroke-width="1.8" />
<circle cx="1840.8" cy="984.0" r="6.6" fill="rgba(185,210,240,0.35)" stroke="#6a9fd8" stroke-width="1.8" />
<circle cx="1840.6" cy="977.5" r="6.6" fill="rgba(185,210,240,0.35)" stroke="#6a9fd8" stroke-width="1.8" />
<circle cx="1811.9" cy="972.2" r="6.6" fill="rgba(185,210,240,0.35)" stroke="#6a9fd8" stroke-width="1.8" />
<circle cx="1786.6" cy="975.5" r="6.6" fill="rgba(185,210,240,0.35)" stroke="#6a9fd8" stroke-width="1.8" />
<circle cx="1799.4" cy="975.4" r="6.6" fill="rgba(185,210,240,0.35)" stroke="#6a9fd8" stroke-width="1.8" />
<circle cx="1824.2" cy="984.0" r="6.6" fill="rgba(185,210,240,0.35)" stroke="#6a9fd8" stroke-width="1.8" />
<circle cx="1817.1" cy="980.8" r="6.6" fill="rgba(185,210,240,0.35)" stroke="#6a9fd8" stroke-width="1.8" />
<circle cx="1807.6" cy="984.2" r="6.6" fill="rgba(185,210,240,0.35)" stroke="#6a9fd8" stroke-width="1.8" />
<circle cx="1785.6" cy="973.4" r="6.6" fill="rgba(185,210,240,0.35)" stroke="#6a9fd8" stroke-width="1.8" />
<circle cx="1822.6" cy="989.6" r="6.6" fill="rgba(185,210,240,0.35)" stroke="#6a9fd8" stroke-width="1.8" />
<circle cx="1799.4" cy="988.5" r="6.6" fill="rgba(185,210,240,0.35)" stroke="#6a9fd8" stroke-width="1.8" />
<circle cx="1785.6" cy="985.1" r="6.6" fill="rgba(185,210,240,0.35)" stroke="#6a9fd8" stroke-width="1.8" />
<circle cx="1842.4" cy="983.0" r="6.6" fill="rgba(185,210,240,0.35)" stroke="#6a9fd8" stroke-width="1.8" />
<circle cx="1786.5" cy="974.5" r="6.6" fill="rgba(185,210,240,0.35)" stroke="#6a9fd8" stroke-width="1.8" />
<circle cx="1838.1" cy="972.2" r="6.6" fill="rgba(185,210,240,0.35)" stroke="#6a9fd8" stroke-width="1.8" />
<circle cx="1794.6" cy="974.5" r="6.6" fill="rgba(185,210,240,0.35)" stroke="#6a9fd8" stroke-width="1.8" />
<circle cx="1793.6" cy="984.3" r="6.6" fill="rgba(185,210,240,0.35)" stroke="#6a9fd8" stroke-width="1.8" />
<circle cx="1827.1" cy="976.7" r="6.6" fill="rgba(185,210,240,0.35)" stroke="#6a9fd8" stroke-width="1.8" />
<circle cx="1841.6" cy="985.0" r="6.6" fill="rgba(185,210,240,0.35)" stroke="#6a9fd8" stroke-width="1.8" />
<circle cx="1826.8" cy="976.9" r="6.6" fill="rgba(185,210,240,0.35)" stroke="#6a9fd8" stroke-width="1.8" />
<circle cx="1835.4" cy="982.4" r="6.6" fill="rgba(185,210,240,0.35)" stroke="#6a9fd8" stroke-width="1.8" />
<circle cx="1830.7" cy="980.1" r="6.6" fill="rgba(185,210,240,0.35)" stroke="#6a9fd8" stroke-width="1.8" />
<circle cx="1788.3" cy="973.5" r="6.6" fill="rgba(185,210,240,0.35)" stroke="#6a9fd8" stroke-width="1.8" />
<circle cx="1798.2" cy="989.1" r="6.6" fill="rgba(185,210,240,0.35)" stroke="#6a9fd8" stroke-width="1.8" />
<circle cx="1803.7" cy="973.4" r="6.6" fill="rgba(185,210,240,0.35)" stroke="#6a9fd8" stroke-width="1.8" />
<rect x="1778.3" y="980.8" width="74.4" height="30.5" rx="6" fill="#6a9fd6"/>
<circle cx="1788.2" cy="984.5" r="6.6" fill="#6a9fd6" stroke="none" stroke-width="0" />
<circle cx="1796.6" cy="984.8" r="6.6" fill="#6a9fd6" stroke="none" stroke-width="0" />
<circle cx="1805.3" cy="984.7" r="6.6" fill="#6a9fd6" stroke="none" stroke-width="0" />
<circle cx="1812.7" cy="985.6" r="6.6" fill="#6a9fd6" stroke="none" stroke-width="0" />
<circle cx="1820.3" cy="984.7" r="6.6" fill="#6a9fd6" stroke="none" stroke-width="0" />
<circle cx="1827.0" cy="985.6" r="6.6" fill="#6a9fd6" stroke="none" stroke-width="0" />
<circle cx="1836.1" cy="985.5" r="6.6" fill="#6a9fd6" stroke="none" stroke-width="0" />
<circle cx="1843.3" cy="984.6" r="6.6" fill="#6a9fd6" stroke="none" stroke-width="0" />
<circle cx="1808.4" cy="756.7" r="6.6" fill="rgba(185,210,240,0.35)" stroke="#6a9fd8" stroke-width="1.8" />
<circle cx="1843.7" cy="762.2" r="6.6" fill="rgba(185,210,240,0.35)" stroke="#6a9fd8" stroke-width="1.8" />
<circle cx="1828.4" cy="787.3" r="6.6" fill="rgba(185,210,240,0.35)" stroke="#6a9fd8" stroke-width="1.8" />
<circle cx="1839.0" cy="811.6" r="6.6" fill="rgba(185,210,240,0.35)" stroke="#6a9fd8" stroke-width="1.8" />
<circle cx="1803.7" cy="821.0" r="6.6" fill="rgba(185,210,240,0.35)" stroke="#6a9fd8" stroke-width="1.8" />
<circle cx="1800.6" cy="824.1" r="6.6" fill="rgba(185,210,240,0.35)" stroke="#6a9fd8" stroke-width="1.8" />
<circle cx="1794.0" cy="848.4" r="6.6" fill="rgba(185,210,240,0.35)" stroke="#6a9fd8" stroke-width="1.8" />
<circle cx="1794.0" cy="882.1" r="6.6" fill="rgba(185,210,240,0.35)" stroke="#6a9fd8" stroke-width="1.8" />
<circle cx="1792.0" cy="884.8" r="6.6" fill="rgba(185,210,240,0.35)" stroke="#6a9fd8" stroke-width="1.8" />
<circle cx="1791.2" cy="898.5" r="6.6" fill="rgba(185,210,240,0.35)" stroke="#6a9fd8" stroke-width="1.8" />
<circle cx="1826.5" cy="892.6" r="6.6" fill="rgba(185,210,240,0.35)" stroke="#6a9fd8" stroke-width="1.8" />
<circle cx="1828.0" cy="895.4" r="6.6" fill="rgba(185,210,240,0.35)" stroke="#6a9fd8" stroke-width="1.8" />
<circle cx="1830.4" cy="903.6" r="6.6" fill="rgba(185,210,240,0.35)" stroke="#6a9fd8" stroke-width="1.8" />
<circle cx="1828.0" cy="910.3" r="6.6" fill="rgba(185,210,240,0.35)" stroke="#6a9fd8" stroke-width="1.8" />
<circle cx="1839.0" cy="927.9" r="6.6" fill="rgba(185,210,240,0.35)" stroke="#6a9fd8" stroke-width="1.8" />
<circle cx="1786.9" cy="945.5" r="6.6" fill="rgba(185,210,240,0.35)" stroke="#6a9fd8" stroke-width="1.8" />
<circle cx="1798.7" cy="945.5" r="6.6" fill="rgba(185,210,240,0.35)" stroke="#6a9fd8" stroke-width="1.8" />
<circle cx="1839.0" cy="952.2" r="6.6" fill="rgba(185,210,240,0.35)" stroke="#6a9fd8" stroke-width="1.8" />
<circle cx="1799.8" cy="963.1" r="6.6" fill="rgba(185,210,240,0.35)" stroke="#6a9fd8" stroke-width="1.8" />
<circle cx="1844.9" cy="964.3" r="6.6" fill="rgba(185,210,240,0.35)" stroke="#6a9fd8" stroke-width="1.8" />
<circle cx="1837.0" cy="970.2" r="6.6" fill="rgba(185,210,240,0.35)" stroke="#6a9fd8" stroke-width="1.8" />
<circle cx="1811.6" cy="972.9" r="6.6" fill="rgba(185,210,240,0.35)" stroke="#6a9fd8" stroke-width="1.8" />
<circle cx="1817.5" cy="974.9" r="6.6" fill="rgba(185,210,240,0.35)" stroke="#6a9fd8" stroke-width="1.8" />
<circle cx="1794.0" cy="980.8" r="6.6" fill="rgba(185,210,240,0.35)" stroke="#6a9fd8" stroke-width="1.8" />
<circle cx="1825.3" cy="980.8" r="6.6" fill="rgba(185,210,240,0.35)" stroke="#6a9fd8" stroke-width="1.8" />
<rect x="1895.0" y="990.0" width="69.0" height="22.0" rx="6" fill="#f3909b"/>
<circle cx="1955.1" cy="1002.9" r="6.6" fill="rgba(250,200,205,0.35)" stroke="#ef7d8b" stroke-width="1.8" />
<circle cx="1907.2" cy="996.3" r="6.6" fill="rgba(250,200,205,0.35)" stroke="#ef7d8b" stroke-width="1.8" />
<circle cx="1953.9" cy="1001.4" r="6.6" fill="rgba(250,200,205,0.35)" stroke="#ef7d8b" stroke-width="1.8" />
<circle cx="1933.4" cy="998.9" r="6.6" fill="rgba(250,200,205,0.35)" stroke="#ef7d8b" stroke-width="1.8" />
<circle cx="1901.8" cy="999.2" r="6.6" fill="rgba(250,200,205,0.35)" stroke="#ef7d8b" stroke-width="1.8" />
<circle cx="1916.6" cy="1002.3" r="6.6" fill="rgba(250,200,205,0.35)" stroke="#ef7d8b" stroke-width="1.8" />
<circle cx="1924.2" cy="1001.9" r="6.6" fill="rgba(250,200,205,0.35)" stroke="#ef7d8b" stroke-width="1.8" />
<circle cx="1944.2" cy="999.5" r="6.6" fill="rgba(250,200,205,0.35)" stroke="#ef7d8b" stroke-width="1.8" />
<circle cx="1938.8" cy="1002.7" r="6.6" fill="rgba(250,200,205,0.35)" stroke="#ef7d8b" stroke-width="1.8" />
<circle cx="1936.6" cy="1000.8" r="6.6" fill="rgba(250,200,205,0.35)" stroke="#ef7d8b" stroke-width="1.8" />
<circle cx="1905.6" cy="999.9" r="6.6" fill="rgba(250,200,205,0.35)" stroke="#ef7d8b" stroke-width="1.8" />
<circle cx="1905.3" cy="996.5" r="6.6" fill="rgba(250,200,205,0.35)" stroke="#ef7d8b" stroke-width="1.8" />
<circle cx="1919.7" cy="995.7" r="6.6" fill="rgba(250,200,205,0.35)" stroke="#ef7d8b" stroke-width="1.8" />
<circle cx="1934.6" cy="1002.0" r="6.6" fill="rgba(250,200,205,0.35)" stroke="#ef7d8b" stroke-width="1.8" />
<circle cx="1956.9" cy="996.9" r="6.6" fill="rgba(250,200,205,0.35)" stroke="#ef7d8b" stroke-width="1.8" />
<circle cx="1907.0" cy="1001.1" r="6.6" fill="rgba(250,200,205,0.35)" stroke="#ef7d8b" stroke-width="1.8" />
<circle cx="1916.6" cy="994.7" r="6.6" fill="rgba(250,200,205,0.35)" stroke="#ef7d8b" stroke-width="1.8" />
<circle cx="1933.2" cy="997.4" r="6.6" fill="rgba(250,200,205,0.35)" stroke="#ef7d8b" stroke-width="1.8" />
<circle cx="1934.8" cy="994.2" r="6.6" fill="rgba(250,200,205,0.35)" stroke="#ef7d8b" stroke-width="1.8" />
<circle cx="1911.9" cy="995.7" r="6.6" fill="rgba(250,200,205,0.35)" stroke="#ef7d8b" stroke-width="1.8" />
<circle cx="1928.6" cy="995.8" r="6.6" fill="rgba(250,200,205,0.35)" stroke="#ef7d8b" stroke-width="1.8" />
<circle cx="1937.1" cy="996.1" r="6.6" fill="rgba(250,200,205,0.35)" stroke="#ef7d8b" stroke-width="1.8" />
<circle cx="1924.1" cy="1001.8" r="6.6" fill="rgba(250,200,205,0.35)" stroke="#ef7d8b" stroke-width="1.8" />
<circle cx="1912.1" cy="997.5" r="6.6" fill="rgba(250,200,205,0.35)" stroke="#ef7d8b" stroke-width="1.8" />
<circle cx="1917.8" cy="1000.1" r="6.6" fill="rgba(250,200,205,0.35)" stroke="#ef7d8b" stroke-width="1.8" />
<circle cx="1917.3" cy="824.1" r="6.6" fill="rgba(250,200,205,0.35)" stroke="#ef7d8b" stroke-width="1.8" />
<circle cx="1927.9" cy="931.8" r="6.6" fill="rgba(250,200,205,0.35)" stroke="#ef7d8b" stroke-width="1.8" />
<circle cx="1935.0" cy="984.7" r="6.6" fill="rgba(250,200,205,0.35)" stroke="#ef7d8b" stroke-width="1.8" />
<line x1="1698.0" y1="983.5" x2="1698.0" y2="961.2" stroke="#000" stroke-width="3" />
<line x1="1690.0" y1="961.2" x2="1706.0" y2="961.2" stroke="#000" stroke-width="3" />
<line x1="1814.0" y1="984.0" x2="1814.0" y2="963.0" stroke="#000" stroke-width="3" />
<line x1="1806.0" y1="963.0" x2="1822.0" y2="963.0" stroke="#000" stroke-width="3" />
<line x1="1929.5" y1="986.7" x2="1929.5" y2="968.0" stroke="#000" stroke-width="3" />
<line x1="1921.5" y1="968.0" x2="1937.5" y2="968.0" stroke="#000" stroke-width="3" />
<line x1="1523.7" y1="680.4" x2="1523.7" y2="1003.8" stroke="#000" stroke-width="3" />
<line x1="1513.7" y1="1002.3" x2="1523.7" y2="1002.3" stroke="#000" stroke-width="3" />
<text x="1488.9" y="1010.9" font-size="33" font-weight="normal" font-style="normal" text-anchor="end" fill="#000" >0.0</text>
<line x1="1513.7" y1="938.2" x2="1523.7" y2="938.2" stroke="#000" stroke-width="3" />
<text x="1488.9" y="946.8" font-size="33" font-weight="normal" font-style="normal" text-anchor="end" fill="#000" >0.2</text>
<line x1="1513.7" y1="874.1" x2="1523.7" y2="874.1" stroke="#000" stroke-width="3" />
<text x="1488.9" y="882.7" font-size="33" font-weight="normal" font-style="normal" text-anchor="end" fill="#000" >0.4</text>
<line x1="1513.7" y1="810.1" x2="1523.7" y2="810.1" stroke="#000" stroke-width="3" />
<text x="1488.9" y="818.7" font-size="33" font-weight="normal" font-style="normal" text-anchor="end" fill="#000" >0.6</text>
<line x1="1513.7" y1="746.0" x2="1523.7" y2="746.0" stroke="#000" stroke-width="3" />
<text x="1488.9" y="754.6" font-size="33" font-weight="normal" font-style="normal" text-anchor="end" fill="#000" >0.8</text>
<line x1="1513.7" y1="681.9" x2="1523.7" y2="681.9" stroke="#000" stroke-width="3" />
<text x="1488.9" y="690.5" font-size="33" font-weight="normal" font-style="normal" text-anchor="end" fill="#000" >1.0</text>
<path d="M1580.5,702.2 V691.4 H1810.8 V702.2" fill="none" stroke="#000" stroke-width="2.6"/>
<text x="1646.4" y="684.2" font-size="20" font-weight="normal" font-style="normal" text-anchor="start" fill="#000" textLength="92.8" lengthAdjust="spacingAndGlyphs" >p &lt; 0.0001</text>
<text transform="translate(1385.5,842.5) rotate(-90)" font-size="31.5" text-anchor="middle" textLength="198" lengthAdjust="spacingAndGlyphs">Enterococcus</text>
<text transform="translate(1419.5,842.5) rotate(-90)" font-size="31.5" text-anchor="middle" textLength="276" lengthAdjust="spacingAndGlyphs">relative abundance</text>
<text transform="translate(1592.0,1037.0) rotate(-45)" font-size="33" text-anchor="end">HC</text>
<text transform="translate(1712.5,1037.5) rotate(-45)" font-size="33" text-anchor="end">Non-SF</text>
<text transform="translate(1829.0,1037.5) rotate(-45)" font-size="33" text-anchor="end">SF-S</text>
<text transform="translate(1947.5,1037.0) rotate(-45)" font-size="33" text-anchor="end">SF-D</text>
<text x="62.0" y="1217.3" font-size="44" font-weight="bold" font-style="normal" text-anchor="start" fill="#000" >D</text>
<defs>
<linearGradient id="g1" gradientUnits="userSpaceOnUse" x1="468.6" y1="0" x2="2049" y2="0">
<stop offset="0" stop-color="#ffffff"/>
<stop offset="0.045" stop-color="#cde3f4"/>
<stop offset="0.25" stop-color="#c6def1"/>
<stop offset="0.292" stop-color="#c2dbef"/>
<stop offset="0.322" stop-color="#a9cbe6"/>
<stop offset="0.366" stop-color="#8ebad9"/>
<stop offset="0.431" stop-color="#82b2d6"/>
<stop offset="0.65" stop-color="#6eaad5"/>
<stop offset="0.92" stop-color="#5ca3d3"/>
<stop offset="0.944" stop-color="#5ea5d4"/>
<stop offset="0.96" stop-color="#7db7dd"/>
<stop offset="0.975" stop-color="#a6cde8"/>
<stop offset="0.988" stop-color="#cde2f2"/>
<stop offset="1" stop-color="#f5f6fa"/>
</linearGradient>
</defs>
<rect x="468.6" y="1279.2" width="1580.4" height="63.8" fill="url(#g1)" />
<line x1="469.8" y1="1344.0" x2="2016.5" y2="1344.0" stroke="#231f20" stroke-width="5" />
<polygon points="2014.5,1331.6 2040.0,1344.0 2014.5,1356.4" fill="#231f20"/>
<line x1="469.9" y1="1330.3" x2="469.9" y2="1359.2" stroke="#231f20" stroke-width="5.4" />
<line x1="874.8" y1="1330.3" x2="874.8" y2="1359.2" stroke="#231f20" stroke-width="5.4" />
<line x1="1010.5" y1="1330.3" x2="1010.5" y2="1359.2" stroke="#231f20" stroke-width="5.4" />
<line x1="1147.0" y1="1330.3" x2="1147.0" y2="1359.2" stroke="#231f20" stroke-width="5.4" />
<line x1="1971.3" y1="1330.3" x2="1971.3" y2="1359.2" stroke="#231f20" stroke-width="5.4" />
<line x1="467.6" y1="1317.6" x2="542.8" y2="1317.6" stroke="#231f20" stroke-width="4.5" />
<polygon points="540.8,1310.2 555.8,1317.6 540.8,1325.0" fill="#231f20"/>
<line x1="795.0" y1="1317.4" x2="871.2" y2="1317.4" stroke="#231f20" stroke-width="4.5" />
<polygon points="797.0,1310.0 782.0,1317.4 797.0,1324.8" fill="#231f20"/>
<text x="571.5" y="1323.5" font-size="27" font-weight="bold" font-style="normal" text-anchor="start" fill="#0c0c0c" textLength="45.7" lengthAdjust="spacingAndGlyphs" stroke="#0c0c0c" stroke-width="0.6">Abx</text>
<text x="638.7" y="1323.5" font-size="27" font-weight="bold" font-style="normal" text-anchor="start" fill="#0c0c0c" textLength="117.9" lengthAdjust="spacingAndGlyphs" stroke="#0c0c0c" stroke-width="0.6">treatment</text>
<text x="964.4" y="1297.2" font-size="26" font-weight="bold" font-style="normal" text-anchor="start" fill="#0c0c0c" textLength="88.7" lengthAdjust="spacingAndGlyphs" stroke="#0c0c0c" stroke-width="0.6">IFNAR1</text>
<text x="957.0" y="1322.2" font-size="26" font-weight="bold" font-style="normal" text-anchor="start" fill="#0c0c0c" textLength="103.7" lengthAdjust="spacingAndGlyphs" stroke="#0c0c0c" stroke-width="0.6">antibody</text>
<text x="1103.4" y="1314.2" font-size="26.5" font-weight="bold" font-style="normal" text-anchor="start" fill="#0c0c0c" textLength="79.9" lengthAdjust="spacingAndGlyphs" stroke="#0c0c0c" stroke-width="0.6">SFTSV</text>
<text x="1402.4" y="1333.8" font-size="28" font-weight="bold" font-style="normal" text-anchor="start" fill="#0c0c0c" textLength="259.8" lengthAdjust="spacingAndGlyphs" stroke="#0c0c0c" stroke-width="0.6">Mortality observation</text>
<text x="1950.7" y="1322.1" font-size="26" font-weight="bold" font-style="normal" text-anchor="start" fill="#0c0c0c" textLength="43.4" lengthAdjust="spacingAndGlyphs" stroke="#0c0c0c" stroke-width="0.6">End</text>
<text x="445.0" y="1417.0" font-size="46" font-weight="normal" font-style="normal" text-anchor="start" fill="#0c0c0c" textLength="35.3" lengthAdjust="spacingAndGlyphs" >-7</text>
<text x="856.0" y="1417.0" font-size="46" font-weight="normal" font-style="normal" text-anchor="start" fill="#0c0c0c" textLength="37.0" lengthAdjust="spacingAndGlyphs" >-2</text>
<text x="990.8" y="1417.0" font-size="46" font-weight="normal" font-style="normal" text-anchor="start" fill="#0c0c0c" textLength="33.7" lengthAdjust="spacingAndGlyphs" >-1</text>
<text x="1136.0" y="1417.0" font-size="46" font-weight="normal" font-style="normal" text-anchor="start" fill="#0c0c0c" textLength="24.0" lengthAdjust="spacingAndGlyphs" >0</text>
<text x="1954.7" y="1417.0" font-size="46" font-weight="normal" font-style="normal" text-anchor="start" fill="#0c0c0c" textLength="48.1" lengthAdjust="spacingAndGlyphs" >14</text>
<text x="2057.0" y="1407.6" font-size="46" font-weight="normal" font-style="normal" text-anchor="start" fill="#0c0c0c" textLength="93.5" lengthAdjust="spacingAndGlyphs" >days</text>
<text x="256.0" y="1341.8" font-size="36.8" font-weight="bold" font-style="normal" text-anchor="start" fill="#0c0c0c" textLength="160.0" lengthAdjust="spacingAndGlyphs" stroke="#0c0c0c" stroke-width="0.6">Abx group</text>
<rect x="468.8" y="1566.2" width="1586.9" height="64.8" fill="#e2f7da" />
<line x1="1009.8" y1="1548.0" x2="1009.8" y2="1630.0" stroke="#bcdcaf" stroke-width="3" />
<circle cx="1009.8" cy="1539.3" r="7.5" fill="#ffffff" stroke="#b8daa9" stroke-width="3.6" />
<line x1="472.0" y1="1631.9" x2="2017.0" y2="1631.9" stroke="#231f20" stroke-width="5" />
<polygon points="2015.0,1619.4 2040.8,1631.9 2015.0,1644.4" fill="#231f20"/>
<line x1="472.0" y1="1617.5" x2="472.0" y2="1646.3" stroke="#231f20" stroke-width="5.4" />
<line x1="876.9" y1="1617.5" x2="876.9" y2="1646.3" stroke="#231f20" stroke-width="5.4" />
<line x1="1009.8" y1="1617.5" x2="1009.8" y2="1646.3" stroke="#231f20" stroke-width="5.4" />
<line x1="1147.8" y1="1617.5" x2="1147.8" y2="1646.3" stroke="#231f20" stroke-width="5.4" />
<line x1="1296.0" y1="1617.5" x2="1296.0" y2="1646.3" stroke="#231f20" stroke-width="5.4" />
<line x1="1972.8" y1="1617.5" x2="1972.8" y2="1646.3" stroke="#231f20" stroke-width="5.4" />
<line x1="468.8" y1="1605.4" x2="544.8" y2="1605.4" stroke="#231f20" stroke-width="4.5" />
<polygon points="542.8,1598.0 557.8,1605.4 542.8,1612.8" fill="#231f20"/>
<line x1="797.0" y1="1605.4" x2="874.0" y2="1605.4" stroke="#231f20" stroke-width="4.5" />
<polygon points="799.0,1598.0 784.0,1605.4 799.0,1612.8" fill="#231f20"/>
<text x="574.4" y="1612.3" font-size="27" font-weight="bold" font-style="normal" text-anchor="start" fill="#0c0c0c" textLength="44.2" lengthAdjust="spacingAndGlyphs" stroke="#0c0c0c" stroke-width="0.6">Abx</text>
<text x="640.0" y="1612.3" font-size="27" font-weight="bold" font-style="normal" text-anchor="start" fill="#0c0c0c" textLength="118.0" lengthAdjust="spacingAndGlyphs" stroke="#0c0c0c" stroke-width="0.6">treatment</text>
<text x="1103.6" y="1592.7" font-size="26" font-weight="bold" font-style="normal" text-anchor="start" fill="#0c0c0c" textLength="91.2" lengthAdjust="spacingAndGlyphs" stroke="#0c0c0c" stroke-width="0.6">IFNAR1</text>
<text x="1098.0" y="1615.5" font-size="26" font-weight="bold" font-style="normal" text-anchor="start" fill="#0c0c0c" textLength="104.0" lengthAdjust="spacingAndGlyphs" stroke="#0c0c0c" stroke-width="0.6">antibody</text>
<text x="1257.3" y="1608.0" font-size="26.5" font-weight="bold" font-style="normal" text-anchor="start" fill="#0c0c0c" textLength="81.3" lengthAdjust="spacingAndGlyphs" stroke="#0c0c0c" stroke-width="0.6">SFTSV</text>
<text x="1402.8" y="1623.0" font-size="28" font-weight="bold" font-style="normal" text-anchor="start" fill="#0c0c0c" textLength="258.2" lengthAdjust="spacingAndGlyphs" stroke="#0c0c0c" stroke-width="0.6">Mortality observation</text>
<text x="1951.4" y="1610.7" font-size="27" font-weight="bold" font-style="normal" text-anchor="start" fill="#0c0c0c" textLength="44.6" lengthAdjust="spacingAndGlyphs" stroke="#0c0c0c" stroke-width="0.6">End</text>
<text x="446.6" y="1704.0" font-size="46" font-weight="normal" font-style="normal" text-anchor="start" fill="#0c0c0c" textLength="36.4" lengthAdjust="spacingAndGlyphs" >-8</text>
<text x="858.6" y="1704.0" font-size="46" font-weight="normal" font-style="normal" text-anchor="start" fill="#0c0c0c" textLength="36.0" lengthAdjust="spacingAndGlyphs" >-3</text>
<text x="987.5" y="1704.0" font-size="46" font-weight="normal" font-style="normal" text-anchor="start" fill="#0c0c0c" textLength="37.5" lengthAdjust="spacingAndGlyphs" >-2</text>
<text x="1121.0" y="1704.0" font-size="46" font-weight="normal" font-style="normal" text-anchor="start" fill="#0c0c0c" textLength="33.5" lengthAdjust="spacingAndGlyphs" >-1</text>
<text x="1286.0" y="1704.0" font-size="46" font-weight="normal" font-style="normal" text-anchor="start" fill="#0c0c0c" textLength="25.0" lengthAdjust="spacingAndGlyphs" >0</text>
<text x="1956.4" y="1704.0" font-size="46" font-weight="normal" font-style="normal" text-anchor="start" fill="#0c0c0c" textLength="47.6" lengthAdjust="spacingAndGlyphs" >14</text>
<text x="2058.7" y="1695.0" font-size="46" font-weight="normal" font-style="normal" text-anchor="start" fill="#0c0c0c" textLength="92.8" lengthAdjust="spacingAndGlyphs" >days</text>
<text x="900.6" y="1494.5" font-size="24" font-weight="bold" fill="#0c0c0c" stroke="#0c0c0c" stroke-width="0.6" textLength="222.4" lengthAdjust="spacingAndGlyphs" xml:space="preserve"><tspan font-style="normal">FMT/</tspan><tspan font-style="italic">A. muciniphila/</tspan></text>
<text x="898.0" y="1518.0" font-size="24" font-weight="bold" fill="#0c0c0c" stroke="#0c0c0c" stroke-width="0.6" textLength="225.0" lengthAdjust="spacingAndGlyphs" xml:space="preserve"><tspan font-style="italic">L. reuteri/  E. faecalis</tspan></text>
<text x="108.9" y="1598.9" font-size="34.5" font-weight="bold" fill="#0c0c0c" stroke="#0c0c0c" stroke-width="0.6" textLength="315.9" lengthAdjust="spacingAndGlyphs" xml:space="preserve"><tspan font-style="normal">FMT/</tspan><tspan font-style="italic">A. muciniphila/</tspan></text>
<text x="5.8" y="1634.3" font-size="34.5" font-weight="bold" fill="#0c0c0c" stroke="#0c0c0c" stroke-width="0.6" textLength="423.9" lengthAdjust="spacingAndGlyphs" xml:space="preserve"><tspan font-style="italic">L. reuteri/  E. faecalis</tspan><tspan font-style="normal"> group</tspan></text>
<rect x="478.7" y="1763.8" width="446.5" height="40.3" rx="20" fill="#737175"/>
<text x="514.7" y="1791.8" font-size="25" font-weight="bold" fill="#f4e3a9" stroke="#f4e3a9" stroke-width="0.6" textLength="384.5" lengthAdjust="spacingAndGlyphs" xml:space="preserve"><tspan font-style="normal">S-</tspan><tspan font-style="italic">A. muciniphila</tspan><tspan font-style="normal"> / p-</tspan><tspan font-style="italic">A. muciniphila</tspan></text>
<line x1="478.7" y1="1806.5" x2="1957.0" y2="1806.5" stroke="#e6d3ad" stroke-width="4.2" />
<polygon points="1955.0,1800.5 1966.0,1806.5 1955.0,1812.5" fill="#e6d3ad"/>
<rect x="469.7" y="1833.8" width="1584.3" height="64.2" fill="#f0deb8" />
<line x1="469.7" y1="1771.6" x2="469.7" y2="1901.0" stroke="#231f20" stroke-width="5" />
<line x1="467.5" y1="1899.8" x2="2017.0" y2="1899.8" stroke="#231f20" stroke-width="5" />
<polygon points="2015.0,1887.3 2040.5,1899.8 2015.0,1912.3" fill="#231f20"/>
<line x1="875.6" y1="1886.0" x2="875.6" y2="1914.6" stroke="#231f20" stroke-width="5.4" />
<line x1="1010.0" y1="1886.0" x2="1010.0" y2="1914.6" stroke="#231f20" stroke-width="5.4" />
<line x1="1148.8" y1="1886.0" x2="1148.8" y2="1914.6" stroke="#231f20" stroke-width="5.4" />
<line x1="1972.4" y1="1886.0" x2="1972.4" y2="1914.6" stroke="#231f20" stroke-width="5.4" />
<line x1="469.5" y1="1872.5" x2="543.0" y2="1872.5" stroke="#231f20" stroke-width="4.5" />
<polygon points="541.0,1865.1 556.0,1872.5 541.0,1879.9" fill="#231f20"/>
<line x1="796.4" y1="1872.5" x2="872.7" y2="1872.5" stroke="#231f20" stroke-width="4.5" />
<polygon points="798.4,1865.1 783.4,1872.5 798.4,1879.9" fill="#231f20"/>
<text x="572.0" y="1879.5" font-size="27" font-weight="bold" font-style="normal" text-anchor="start" fill="#0c0c0c" textLength="45.5" lengthAdjust="spacingAndGlyphs" stroke="#0c0c0c" stroke-width="0.6">Abx</text>
<text x="639.4" y="1879.5" font-size="27" font-weight="bold" font-style="normal" text-anchor="start" fill="#0c0c0c" textLength="118.1" lengthAdjust="spacingAndGlyphs" stroke="#0c0c0c" stroke-width="0.6">treatment</text>
<text x="962.8" y="1853.5" font-size="26" font-weight="bold" font-style="normal" text-anchor="start" fill="#0c0c0c" textLength="90.8" lengthAdjust="spacingAndGlyphs" stroke="#0c0c0c" stroke-width="0.6">IFNAR1</text>
<text x="956.0" y="1877.5" font-size="26" font-weight="bold" font-style="normal" text-anchor="start" fill="#0c0c0c" textLength="105.0" lengthAdjust="spacingAndGlyphs" stroke="#0c0c0c" stroke-width="0.6">antibody</text>
<text x="1103.8" y="1871.0" font-size="26.5" font-weight="bold" font-style="normal" text-anchor="start" fill="#0c0c0c" textLength="82.2" lengthAdjust="spacingAndGlyphs" stroke="#0c0c0c" stroke-width="0.6">SFTSV</text>
<text x="1406.0" y="1888.5" font-size="28" font-weight="bold" font-style="normal" text-anchor="start" fill="#0c0c0c" textLength="258.0" lengthAdjust="spacingAndGlyphs" stroke="#0c0c0c" stroke-width="0.6">Mortality observation</text>
<text x="1950.5" y="1878.3" font-size="26.5" font-weight="bold" font-style="normal" text-anchor="start" fill="#0c0c0c" textLength="44.2" lengthAdjust="spacingAndGlyphs" stroke="#0c0c0c" stroke-width="0.6">End</text>
<text x="446.4" y="1972.0" font-size="46" font-weight="normal" font-style="normal" text-anchor="start" fill="#0c0c0c" textLength="34.6" lengthAdjust="spacingAndGlyphs" >-7</text>
<text x="858.3" y="1972.0" font-size="46" font-weight="normal" font-style="normal" text-anchor="start" fill="#0c0c0c" textLength="37.4" lengthAdjust="spacingAndGlyphs" >-2</text>
<text x="989.0" y="1972.0" font-size="46" font-weight="normal" font-style="normal" text-anchor="start" fill="#0c0c0c" textLength="34.5" lengthAdjust="spacingAndGlyphs" >-1</text>
<text x="1137.5" y="1972.0" font-size="46" font-weight="normal" font-style="normal" text-anchor="start" fill="#0c0c0c" textLength="24.0" lengthAdjust="spacingAndGlyphs" >0</text>
<text x="1955.0" y="1972.0" font-size="46" font-weight="normal" font-style="normal" text-anchor="start" fill="#0c0c0c" textLength="48.8" lengthAdjust="spacingAndGlyphs" >14</text>
<text x="2057.8" y="1962.7" font-size="46" font-weight="normal" font-style="normal" text-anchor="start" fill="#0c0c0c" textLength="92.2" lengthAdjust="spacingAndGlyphs" >days</text>
<text x="156.7" y="1861.2" font-size="34.5" font-weight="bold" fill="#0c0c0c" stroke="#0c0c0c" stroke-width="0.6" textLength="272.3" lengthAdjust="spacingAndGlyphs" xml:space="preserve"><tspan font-style="normal">S-</tspan><tspan font-style="italic">A. muciniphila/</tspan></text>
<text x="72.0" y="1893.6" font-size="34.5" font-weight="bold" fill="#0c0c0c" stroke="#0c0c0c" stroke-width="0.6" textLength="358.9" lengthAdjust="spacingAndGlyphs" xml:space="preserve"><tspan font-style="normal">p-</tspan><tspan font-style="italic">A. muciniphila</tspan><tspan font-style="normal"> group</tspan></text>
<rect x="607.7" y="2049" width="86.3" height="41.5" rx="20.7" fill="#737175"/>
<text x="627.0" y="2076.5" font-size="25" font-weight="bold" font-style="normal" text-anchor="start" fill="#f2f2e6" textLength="48.0" lengthAdjust="spacingAndGlyphs" stroke="#f2f2e6" stroke-width="0.6">HAL</text>
<line x1="484.0" y1="2097.2" x2="1137.5" y2="2097.2" stroke="#bfe3b0" stroke-width="4.2" />
<polygon points="1135.5,2091.2 1146.5,2097.2 1135.5,2103.2" fill="#bfe3b0"/>
<rect x="498.8" y="2106.6" width="318.0" height="40.4" rx="20.2" fill="#737175"/>
<text x="547.0" y="2135.0" font-size="25" font-weight="bold" font-style="normal" text-anchor="start" fill="#f2f2ee" textLength="223.7" lengthAdjust="spacingAndGlyphs" stroke="#f2f2ee" stroke-width="0.6">Acetate / propionate</text>
<line x1="484.0" y1="2149.0" x2="1962.5" y2="2149.0" stroke="#bfe3b0" stroke-width="4.2" />
<polygon points="1960.5,2143.0 1971.5,2149.0 1960.5,2155.0" fill="#bfe3b0"/>
<rect x="477.0" y="2176.0" width="1583.0" height="66.0" fill="#eff8e0" />
<line x1="477.0" y1="2094.5" x2="477.0" y2="2245.0" stroke="#231f20" stroke-width="5" />
<line x1="475.0" y1="2242.5" x2="2023.0" y2="2242.5" stroke="#231f20" stroke-width="5" />
<polygon points="2021.0,2230.0 2046.5,2242.5 2021.0,2255.0" fill="#231f20"/>
<line x1="881.0" y1="2228.7" x2="881.0" y2="2256.4" stroke="#231f20" stroke-width="5.4" />
<line x1="1016.0" y1="2228.7" x2="1016.0" y2="2256.4" stroke="#231f20" stroke-width="5.4" />
<line x1="1154.0" y1="2228.7" x2="1154.0" y2="2256.4" stroke="#231f20" stroke-width="5.4" />
<line x1="1978.4" y1="2228.7" x2="1978.4" y2="2256.4" stroke="#231f20" stroke-width="5.4" />
<line x1="477.0" y1="2215.5" x2="548.6" y2="2215.5" stroke="#231f20" stroke-width="4.5" />
<polygon points="546.6,2208.1 561.6,2215.5 546.6,2222.9" fill="#231f20"/>
<line x1="803.0" y1="2215.5" x2="878.5" y2="2215.5" stroke="#231f20" stroke-width="4.5" />
<polygon points="805.0,2208.1 790.0,2215.5 805.0,2222.9" fill="#231f20"/>
<text x="577.8" y="2222.5" font-size="27" font-weight="bold" font-style="normal" text-anchor="start" fill="#0c0c0c" textLength="46.0" lengthAdjust="spacingAndGlyphs" stroke="#0c0c0c" stroke-width="0.6">Abx</text>
<text x="645.0" y="2222.5" font-size="27" font-weight="bold" font-style="normal" text-anchor="start" fill="#0c0c0c" textLength="118.0" lengthAdjust="spacingAndGlyphs" stroke="#0c0c0c" stroke-width="0.6">treatment</text>
<text x="968.8" y="2196.0" font-size="26" font-weight="bold" font-style="normal" text-anchor="start" fill="#0c0c0c" textLength="92.2" lengthAdjust="spacingAndGlyphs" stroke="#0c0c0c" stroke-width="0.6">IFNAR1</text>
<text x="961.0" y="2220.0" font-size="26" font-weight="bold" font-style="normal" text-anchor="start" fill="#0c0c0c" textLength="106.8" lengthAdjust="spacingAndGlyphs" stroke="#0c0c0c" stroke-width="0.6">antibody</text>
<text x="1109.8" y="2214.5" font-size="26.5" font-weight="bold" font-style="normal" text-anchor="start" fill="#0c0c0c" textLength="81.8" lengthAdjust="spacingAndGlyphs" stroke="#0c0c0c" stroke-width="0.6">SFTSV</text>
<text x="1405.0" y="2228.5" font-size="28" font-weight="bold" font-style="normal" text-anchor="start" fill="#0c0c0c" textLength="259.0" lengthAdjust="spacingAndGlyphs" stroke="#0c0c0c" stroke-width="0.6">Mortality observation</text>
<text x="1956.5" y="2220.6" font-size="26.5" font-weight="bold" font-style="normal" text-anchor="start" fill="#0c0c0c" textLength="45.0" lengthAdjust="spacingAndGlyphs" stroke="#0c0c0c" stroke-width="0.6">End</text>
<text x="452.0" y="2315.0" font-size="46" font-weight="normal" font-style="normal" text-anchor="start" fill="#0c0c0c" textLength="36.5" lengthAdjust="spacingAndGlyphs" >-7</text>
<text x="863.0" y="2315.0" font-size="46" font-weight="normal" font-style="normal" text-anchor="start" fill="#0c0c0c" textLength="37.0" lengthAdjust="spacingAndGlyphs" >-2</text>
<text x="996.5" y="2315.0" font-size="46" font-weight="normal" font-style="normal" text-anchor="start" fill="#0c0c0c" textLength="34.5" lengthAdjust="spacingAndGlyphs" >-1</text>
<text x="1143.5" y="2315.0" font-size="46" font-weight="normal" font-style="normal" text-anchor="start" fill="#0c0c0c" textLength="24.0" lengthAdjust="spacingAndGlyphs" >0</text>
<text x="1958.8" y="2315.0" font-size="46" font-weight="normal" font-style="normal" text-anchor="start" fill="#0c0c0c" textLength="48.8" lengthAdjust="spacingAndGlyphs" >14</text>
<text x="2063.8" y="2305.3" font-size="46" font-weight="normal" font-style="normal" text-anchor="start" fill="#0c0c0c" textLength="93.8" lengthAdjust="spacingAndGlyphs" >days</text>
<text x="220.6" y="2204.4" font-size="36" font-weight="bold" font-style="normal" text-anchor="start" fill="#0c0c0c" textLength="208.4" lengthAdjust="spacingAndGlyphs" stroke="#0c0c0c" stroke-width="0.6">HAL/acetate/</text>
<text x="163.0" y="2238.8" font-size="36" font-weight="bold" font-style="normal" text-anchor="start" fill="#0c0c0c" textLength="268.0" lengthAdjust="spacingAndGlyphs" stroke="#0c0c0c" stroke-width="0.6">propionate group</text>
<rect x="566.8" y="2427" width="172.8" height="41.5" rx="20.7" fill="#737175"/>
<text x="615.0" y="2456.0" font-size="25" font-weight="bold" font-style="normal" text-anchor="start" fill="#f4e3a9" textLength="78.0" lengthAdjust="spacingAndGlyphs" stroke="#f4e3a9" stroke-width="0.6">TCDCA</text>
<line x1="486.0" y1="2478.8" x2="1377.3" y2="2478.8" stroke="#e9d9b4" stroke-width="4.2" />
<polygon points="1375.3,2472.8 1386.3,2478.8 1375.3,2484.8" fill="#e9d9b4"/>
<rect x="481.8" y="2501.0" width="1590.9" height="65.0" fill="#eddeb6" />
<line x1="481.8" y1="2436.7" x2="481.8" y2="2569.0" stroke="#231f20" stroke-width="5" />
<line x1="479.5" y1="2567.3" x2="2050.0" y2="2567.3" stroke="#231f20" stroke-width="5" />
<polygon points="2048.0,2554.8 2074.0,2567.3 2048.0,2579.8" fill="#231f20"/>
<line x1="723.5" y1="2552.5" x2="723.5" y2="2582.2" stroke="#231f20" stroke-width="5.4" />
<line x1="1127.5" y1="2552.5" x2="1127.5" y2="2582.2" stroke="#231f20" stroke-width="5.4" />
<line x1="1262.0" y1="2552.5" x2="1262.0" y2="2582.2" stroke="#231f20" stroke-width="5.4" />
<line x1="1399.7" y1="2552.5" x2="1399.7" y2="2582.2" stroke="#231f20" stroke-width="5.4" />
<line x1="1981.0" y1="2552.5" x2="1981.0" y2="2582.2" stroke="#231f20" stroke-width="5.4" />
<line x1="661.8" y1="2592.6" x2="689.8" y2="2542.8" stroke="#231f20" stroke-width="4.8" />
<line x1="679.4" y1="2592.6" x2="707.4" y2="2543.5" stroke="#231f20" stroke-width="4.8" />
<line x1="720.9" y1="2540.4" x2="795.7" y2="2540.4" stroke="#231f20" stroke-width="4.5" />
<polygon points="793.7,2533.0 808.7,2540.4 793.7,2547.8" fill="#231f20"/>
<line x1="1049.8" y1="2540.4" x2="1123.2" y2="2540.4" stroke="#231f20" stroke-width="4.5" />
<polygon points="1051.8,2533.0 1036.8,2540.4 1051.8,2547.8" fill="#231f20"/>
<text x="824.6" y="2547.0" font-size="27" font-weight="bold" font-style="normal" text-anchor="start" fill="#0c0c0c" textLength="45.0" lengthAdjust="spacingAndGlyphs" stroke="#0c0c0c" stroke-width="0.6">Abx</text>
<text x="891.7" y="2547.0" font-size="27" font-weight="bold" font-style="normal" text-anchor="start" fill="#0c0c0c" textLength="117.5" lengthAdjust="spacingAndGlyphs" stroke="#0c0c0c" stroke-width="0.6">treatment</text>
<text x="1216.0" y="2520.5" font-size="26" font-weight="bold" font-style="normal" text-anchor="start" fill="#0c0c0c" textLength="90.8" lengthAdjust="spacingAndGlyphs" stroke="#0c0c0c" stroke-width="0.6">IFNAR1</text>
<text x="1208.9" y="2543.5" font-size="26" font-weight="bold" font-style="normal" text-anchor="start" fill="#0c0c0c" textLength="105.1" lengthAdjust="spacingAndGlyphs" stroke="#0c0c0c" stroke-width="0.6">antibody</text>
<text x="1355.7" y="2538.5" font-size="26.5" font-weight="bold" font-style="normal" text-anchor="start" fill="#0c0c0c" textLength="82.0" lengthAdjust="spacingAndGlyphs" stroke="#0c0c0c" stroke-width="0.6">SFTSV</text>
<text x="1587.6" y="2553.5" font-size="28" font-weight="bold" font-style="normal" text-anchor="start" fill="#0c0c0c" textLength="259.9" lengthAdjust="spacingAndGlyphs" stroke="#0c0c0c" stroke-width="0.6">Mortality observation</text>
<text x="1959.5" y="2545.5" font-size="25.5" font-weight="bold" font-style="normal" text-anchor="start" fill="#0c0c0c" textLength="44.5" lengthAdjust="spacingAndGlyphs" stroke="#0c0c0c" stroke-width="0.6">End</text>
<text x="452.8" y="2632.3" font-size="46" font-weight="normal" font-style="normal" text-anchor="start" fill="#0c0c0c" textLength="60.8" lengthAdjust="spacingAndGlyphs" >-28</text>
<text x="698.0" y="2640.0" font-size="46" font-weight="normal" font-style="normal" text-anchor="start" fill="#0c0c0c" textLength="34.7" lengthAdjust="spacingAndGlyphs" >-7</text>
<text x="1109.0" y="2640.0" font-size="46" font-weight="normal" font-style="normal" text-anchor="start" fill="#0c0c0c" textLength="38.7" lengthAdjust="spacingAndGlyphs" >-2</text>
<text x="1242.0" y="2640.0" font-size="46" font-weight="normal" font-style="normal" text-anchor="start" fill="#0c0c0c" textLength="35.4" lengthAdjust="spacingAndGlyphs" >-1</text>
<text x="1390.6" y="2640.0" font-size="46" font-weight="normal" font-style="normal" text-anchor="start" fill="#0c0c0c" textLength="22.6" lengthAdjust="spacingAndGlyphs" >0</text>
<text x="1962.5" y="2640.0" font-size="46" font-weight="normal" font-style="normal" text-anchor="start" fill="#0c0c0c" textLength="50.2" lengthAdjust="spacingAndGlyphs" >14</text>
<text x="2065.3" y="2630.0" font-size="46" font-weight="normal" font-style="normal" text-anchor="start" fill="#0c0c0c" textLength="94.2" lengthAdjust="spacingAndGlyphs" >days</text>
<text x="207.4" y="2543.4" font-size="36.5" font-weight="bold" font-style="normal" text-anchor="start" fill="#0c0c0c" textLength="212.2" lengthAdjust="spacingAndGlyphs" stroke="#0c0c0c" stroke-width="0.6">TCDCA group</text>
</svg></body></html>
